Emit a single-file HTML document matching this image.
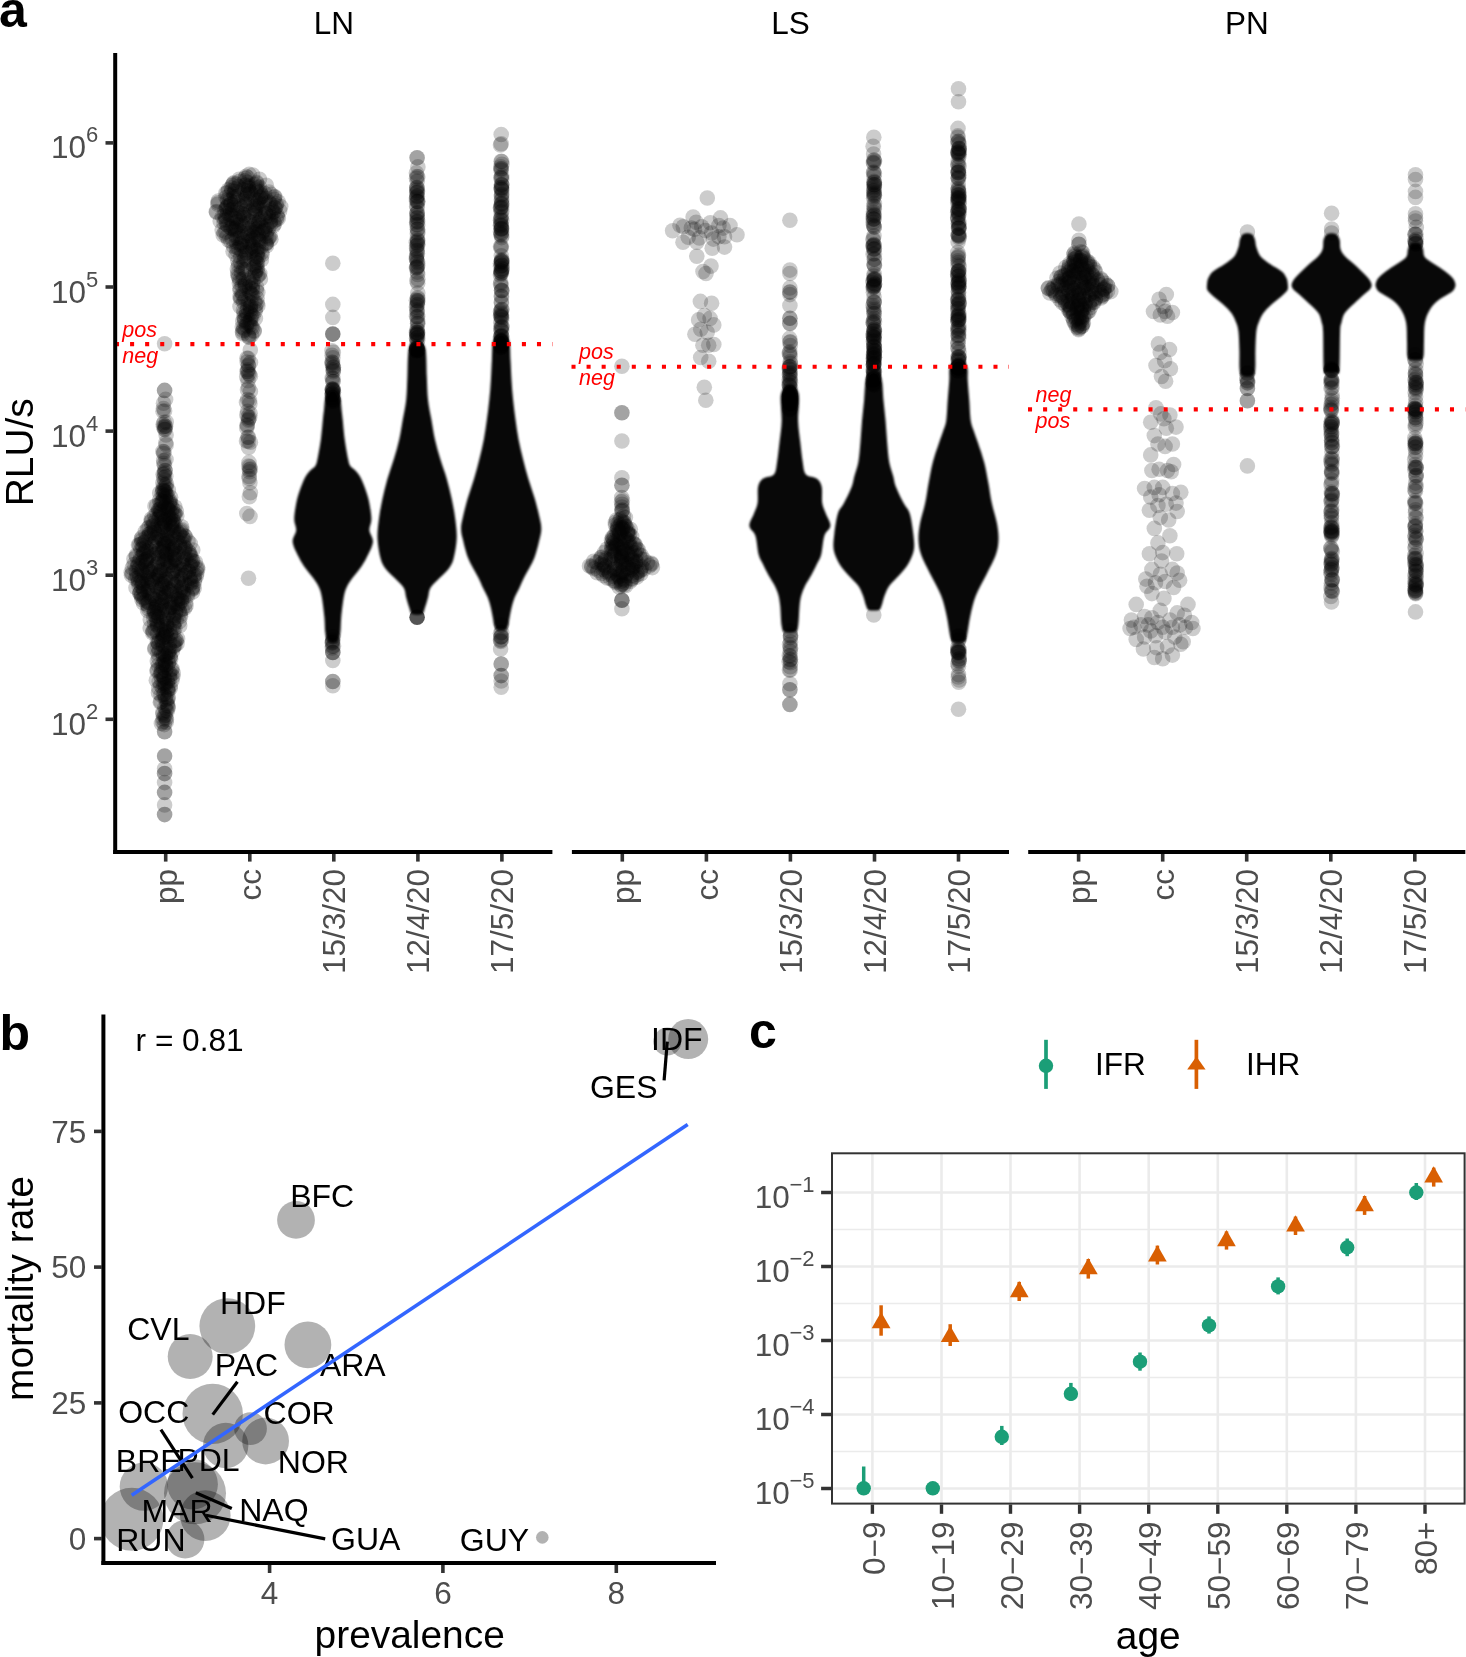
<!DOCTYPE html>
<html><head><meta charset="utf-8"><style>
html,body{margin:0;padding:0;background:#fff;width:1466px;height:1657px;overflow:hidden}
svg{display:block;will-change:transform}
text{font-family:"Liberation Sans",sans-serif}
</style></head><body>
<svg width="1466" height="1657" viewBox="0 0 1466 1657" font-family="Liberation Sans, sans-serif"><defs><filter id="b1" x="-20%" y="-5%" width="140%" height="110%" color-interpolation-filters="sRGB"><feGaussianBlur stdDeviation="1.1"/></filter><filter id="b2" x="-20%" y="-5%" width="140%" height="110%" color-interpolation-filters="sRGB"><feGaussianBlur stdDeviation="2.2"/></filter></defs>
<g fill="#000">
<circle cx="162.9" cy="488.9" r="7.8" fill-opacity="0.200"/>
<circle cx="168.4" cy="490.0" r="7.8" fill-opacity="0.200"/>
<circle cx="162.9" cy="490.4" r="7.8" fill-opacity="0.200"/>
<circle cx="165.5" cy="491.9" r="7.8" fill-opacity="0.200"/>
<circle cx="159.7" cy="493.0" r="7.8" fill-opacity="0.200"/>
<circle cx="162.1" cy="493.5" r="7.8" fill-opacity="0.200"/>
<circle cx="166.4" cy="494.2" r="7.8" fill-opacity="0.200"/>
<circle cx="163.3" cy="495.4" r="7.8" fill-opacity="0.200"/>
<circle cx="165.5" cy="495.7" r="7.8" fill-opacity="0.200"/>
<circle cx="167.5" cy="496.2" r="7.8" fill-opacity="0.200"/>
<circle cx="170.6" cy="497.2" r="7.8" fill-opacity="0.200"/>
<circle cx="163.8" cy="498.5" r="7.8" fill-opacity="0.200"/>
<circle cx="165.4" cy="498.4" r="7.8" fill-opacity="0.200"/>
<circle cx="159.7" cy="499.9" r="7.8" fill-opacity="0.200"/>
<circle cx="162.3" cy="500.9" r="7.8" fill-opacity="0.200"/>
<circle cx="170.0" cy="500.8" r="7.8" fill-opacity="0.200"/>
<circle cx="162.4" cy="501.4" r="7.8" fill-opacity="0.200"/>
<circle cx="166.4" cy="501.1" r="7.8" fill-opacity="0.200"/>
<circle cx="163.9" cy="502.6" r="7.8" fill-opacity="0.200"/>
<circle cx="170.1" cy="502.2" r="7.8" fill-opacity="0.200"/>
<circle cx="160.1" cy="503.4" r="7.8" fill-opacity="0.200"/>
<circle cx="169.3" cy="503.1" r="7.8" fill-opacity="0.200"/>
<circle cx="161.4" cy="504.0" r="7.8" fill-opacity="0.200"/>
<circle cx="171.2" cy="504.2" r="7.8" fill-opacity="0.200"/>
<circle cx="156.7" cy="505.8" r="7.8" fill-opacity="0.200"/>
<circle cx="165.8" cy="505.7" r="7.8" fill-opacity="0.200"/>
<circle cx="169.9" cy="505.6" r="7.8" fill-opacity="0.200"/>
<circle cx="155.0" cy="506.1" r="7.8" fill-opacity="0.200"/>
<circle cx="174.8" cy="506.8" r="7.8" fill-opacity="0.200"/>
<circle cx="164.5" cy="507.5" r="7.8" fill-opacity="0.200"/>
<circle cx="168.0" cy="507.1" r="7.8" fill-opacity="0.200"/>
<circle cx="160.5" cy="508.8" r="7.8" fill-opacity="0.200"/>
<circle cx="167.3" cy="508.8" r="7.8" fill-opacity="0.200"/>
<circle cx="172.4" cy="508.6" r="7.8" fill-opacity="0.200"/>
<circle cx="158.9" cy="509.5" r="7.8" fill-opacity="0.200"/>
<circle cx="168.1" cy="509.4" r="7.8" fill-opacity="0.200"/>
<circle cx="158.8" cy="510.0" r="7.8" fill-opacity="0.200"/>
<circle cx="169.4" cy="510.4" r="7.8" fill-opacity="0.200"/>
<circle cx="159.6" cy="511.3" r="7.8" fill-opacity="0.200"/>
<circle cx="160.8" cy="511.7" r="7.8" fill-opacity="0.200"/>
<circle cx="176.3" cy="511.3" r="7.8" fill-opacity="0.200"/>
<circle cx="161.0" cy="512.4" r="7.8" fill-opacity="0.200"/>
<circle cx="171.5" cy="512.2" r="7.8" fill-opacity="0.200"/>
<circle cx="156.9" cy="513.3" r="7.8" fill-opacity="0.200"/>
<circle cx="167.9" cy="513.9" r="7.8" fill-opacity="0.200"/>
<circle cx="174.4" cy="513.4" r="7.8" fill-opacity="0.200"/>
<circle cx="161.2" cy="514.8" r="7.8" fill-opacity="0.200"/>
<circle cx="175.3" cy="514.3" r="7.8" fill-opacity="0.200"/>
<circle cx="154.7" cy="515.7" r="7.8" fill-opacity="0.200"/>
<circle cx="163.4" cy="515.2" r="7.8" fill-opacity="0.200"/>
<circle cx="173.8" cy="515.2" r="7.8" fill-opacity="0.200"/>
<circle cx="159.8" cy="516.4" r="7.8" fill-opacity="0.200"/>
<circle cx="168.4" cy="516.7" r="7.8" fill-opacity="0.200"/>
<circle cx="176.8" cy="516.0" r="7.8" fill-opacity="0.200"/>
<circle cx="158.9" cy="517.9" r="7.8" fill-opacity="0.200"/>
<circle cx="170.6" cy="517.5" r="7.8" fill-opacity="0.200"/>
<circle cx="151.3" cy="518.9" r="7.8" fill-opacity="0.200"/>
<circle cx="162.0" cy="518.8" r="7.8" fill-opacity="0.200"/>
<circle cx="170.0" cy="518.6" r="7.8" fill-opacity="0.200"/>
<circle cx="156.1" cy="519.5" r="7.8" fill-opacity="0.200"/>
<circle cx="165.4" cy="519.7" r="7.8" fill-opacity="0.200"/>
<circle cx="172.9" cy="519.2" r="7.8" fill-opacity="0.200"/>
<circle cx="151.9" cy="520.2" r="7.8" fill-opacity="0.200"/>
<circle cx="169.5" cy="520.4" r="7.8" fill-opacity="0.200"/>
<circle cx="172.8" cy="520.9" r="7.8" fill-opacity="0.200"/>
<circle cx="151.0" cy="521.8" r="7.8" fill-opacity="0.200"/>
<circle cx="164.0" cy="521.3" r="7.8" fill-opacity="0.200"/>
<circle cx="173.7" cy="521.3" r="7.8" fill-opacity="0.200"/>
<circle cx="164.3" cy="522.3" r="7.8" fill-opacity="0.200"/>
<circle cx="168.7" cy="523.0" r="7.8" fill-opacity="0.200"/>
<circle cx="153.7" cy="523.1" r="7.8" fill-opacity="0.200"/>
<circle cx="161.7" cy="523.4" r="7.8" fill-opacity="0.200"/>
<circle cx="172.0" cy="523.3" r="7.8" fill-opacity="0.200"/>
<circle cx="158.0" cy="525.0" r="7.8" fill-opacity="0.200"/>
<circle cx="165.7" cy="524.2" r="7.8" fill-opacity="0.200"/>
<circle cx="174.9" cy="524.2" r="7.8" fill-opacity="0.200"/>
<circle cx="153.8" cy="525.4" r="7.8" fill-opacity="0.200"/>
<circle cx="164.7" cy="525.1" r="7.8" fill-opacity="0.200"/>
<circle cx="173.4" cy="525.4" r="7.8" fill-opacity="0.200"/>
<circle cx="152.0" cy="526.5" r="7.8" fill-opacity="0.200"/>
<circle cx="161.2" cy="526.1" r="7.8" fill-opacity="0.200"/>
<circle cx="171.6" cy="526.1" r="7.8" fill-opacity="0.200"/>
<circle cx="181.6" cy="526.7" r="7.8" fill-opacity="0.200"/>
<circle cx="149.1" cy="527.3" r="7.8" fill-opacity="0.200"/>
<circle cx="162.4" cy="527.2" r="7.8" fill-opacity="0.200"/>
<circle cx="173.0" cy="527.8" r="7.8" fill-opacity="0.200"/>
<circle cx="147.7" cy="528.4" r="7.8" fill-opacity="0.200"/>
<circle cx="161.9" cy="528.2" r="7.8" fill-opacity="0.200"/>
<circle cx="171.2" cy="528.1" r="7.8" fill-opacity="0.200"/>
<circle cx="153.8" cy="529.1" r="7.8" fill-opacity="0.200"/>
<circle cx="167.5" cy="530.0" r="7.8" fill-opacity="0.200"/>
<circle cx="182.1" cy="529.9" r="7.8" fill-opacity="0.200"/>
<circle cx="154.2" cy="530.2" r="7.8" fill-opacity="0.200"/>
<circle cx="163.5" cy="530.7" r="7.8" fill-opacity="0.200"/>
<circle cx="173.3" cy="530.3" r="7.8" fill-opacity="0.200"/>
<circle cx="181.1" cy="530.9" r="7.8" fill-opacity="0.200"/>
<circle cx="145.2" cy="531.7" r="7.8" fill-opacity="0.200"/>
<circle cx="159.1" cy="531.2" r="7.8" fill-opacity="0.200"/>
<circle cx="176.6" cy="531.0" r="7.8" fill-opacity="0.200"/>
<circle cx="151.7" cy="532.8" r="7.8" fill-opacity="0.200"/>
<circle cx="154.7" cy="532.7" r="7.8" fill-opacity="0.200"/>
<circle cx="174.5" cy="532.2" r="7.8" fill-opacity="0.200"/>
<circle cx="180.6" cy="532.4" r="7.8" fill-opacity="0.200"/>
<circle cx="149.7" cy="533.9" r="7.8" fill-opacity="0.200"/>
<circle cx="166.9" cy="533.4" r="7.8" fill-opacity="0.200"/>
<circle cx="178.9" cy="533.4" r="7.8" fill-opacity="0.200"/>
<circle cx="149.1" cy="534.3" r="7.8" fill-opacity="0.200"/>
<circle cx="157.7" cy="534.2" r="7.8" fill-opacity="0.200"/>
<circle cx="167.6" cy="534.7" r="7.8" fill-opacity="0.200"/>
<circle cx="179.3" cy="534.5" r="7.8" fill-opacity="0.200"/>
<circle cx="151.2" cy="535.8" r="7.8" fill-opacity="0.200"/>
<circle cx="169.7" cy="535.2" r="7.8" fill-opacity="0.200"/>
<circle cx="184.5" cy="535.8" r="7.8" fill-opacity="0.200"/>
<circle cx="148.1" cy="536.9" r="7.8" fill-opacity="0.200"/>
<circle cx="159.1" cy="536.5" r="7.8" fill-opacity="0.200"/>
<circle cx="173.5" cy="536.3" r="7.8" fill-opacity="0.200"/>
<circle cx="185.3" cy="536.6" r="7.8" fill-opacity="0.200"/>
<circle cx="142.0" cy="537.4" r="7.8" fill-opacity="0.200"/>
<circle cx="155.2" cy="537.5" r="7.8" fill-opacity="0.200"/>
<circle cx="166.9" cy="537.1" r="7.8" fill-opacity="0.200"/>
<circle cx="182.4" cy="537.3" r="7.8" fill-opacity="0.200"/>
<circle cx="146.1" cy="538.1" r="7.8" fill-opacity="0.200"/>
<circle cx="161.2" cy="538.4" r="7.8" fill-opacity="0.200"/>
<circle cx="170.8" cy="538.1" r="7.8" fill-opacity="0.200"/>
<circle cx="183.6" cy="538.4" r="7.8" fill-opacity="0.200"/>
<circle cx="141.3" cy="539.1" r="7.8" fill-opacity="0.200"/>
<circle cx="156.4" cy="539.2" r="7.8" fill-opacity="0.200"/>
<circle cx="165.0" cy="539.9" r="7.8" fill-opacity="0.200"/>
<circle cx="176.9" cy="539.6" r="7.8" fill-opacity="0.200"/>
<circle cx="141.8" cy="540.4" r="7.8" fill-opacity="0.200"/>
<circle cx="162.7" cy="540.3" r="7.8" fill-opacity="0.200"/>
<circle cx="167.2" cy="540.3" r="7.8" fill-opacity="0.200"/>
<circle cx="188.0" cy="540.9" r="7.8" fill-opacity="0.200"/>
<circle cx="145.2" cy="541.6" r="7.8" fill-opacity="0.200"/>
<circle cx="154.9" cy="541.4" r="7.8" fill-opacity="0.200"/>
<circle cx="169.3" cy="541.6" r="7.8" fill-opacity="0.200"/>
<circle cx="184.0" cy="541.1" r="7.8" fill-opacity="0.200"/>
<circle cx="143.9" cy="542.6" r="7.8" fill-opacity="0.200"/>
<circle cx="155.1" cy="542.2" r="7.8" fill-opacity="0.200"/>
<circle cx="168.4" cy="542.3" r="7.8" fill-opacity="0.200"/>
<circle cx="179.5" cy="542.7" r="7.8" fill-opacity="0.200"/>
<circle cx="141.2" cy="544.0" r="7.8" fill-opacity="0.200"/>
<circle cx="164.2" cy="543.7" r="7.8" fill-opacity="0.200"/>
<circle cx="165.0" cy="543.2" r="7.8" fill-opacity="0.200"/>
<circle cx="190.2" cy="543.4" r="7.8" fill-opacity="0.200"/>
<circle cx="139.4" cy="544.9" r="7.8" fill-opacity="0.200"/>
<circle cx="152.4" cy="544.3" r="7.8" fill-opacity="0.200"/>
<circle cx="165.1" cy="544.6" r="7.8" fill-opacity="0.200"/>
<circle cx="172.5" cy="544.0" r="7.8" fill-opacity="0.200"/>
<circle cx="183.3" cy="544.0" r="7.8" fill-opacity="0.200"/>
<circle cx="138.5" cy="545.0" r="7.8" fill-opacity="0.200"/>
<circle cx="163.3" cy="545.7" r="7.8" fill-opacity="0.200"/>
<circle cx="175.5" cy="545.5" r="7.8" fill-opacity="0.200"/>
<circle cx="179.7" cy="545.2" r="7.8" fill-opacity="0.200"/>
<circle cx="143.0" cy="546.1" r="7.8" fill-opacity="0.200"/>
<circle cx="155.0" cy="546.6" r="7.8" fill-opacity="0.200"/>
<circle cx="169.8" cy="546.3" r="7.8" fill-opacity="0.200"/>
<circle cx="179.9" cy="546.5" r="7.8" fill-opacity="0.200"/>
<circle cx="146.1" cy="547.3" r="7.8" fill-opacity="0.200"/>
<circle cx="156.2" cy="547.9" r="7.8" fill-opacity="0.200"/>
<circle cx="162.6" cy="547.8" r="7.8" fill-opacity="0.200"/>
<circle cx="174.5" cy="547.4" r="7.8" fill-opacity="0.200"/>
<circle cx="184.9" cy="547.2" r="7.8" fill-opacity="0.200"/>
<circle cx="142.9" cy="548.4" r="7.8" fill-opacity="0.200"/>
<circle cx="164.0" cy="548.4" r="7.8" fill-opacity="0.200"/>
<circle cx="173.9" cy="548.4" r="7.8" fill-opacity="0.200"/>
<circle cx="185.4" cy="548.3" r="7.8" fill-opacity="0.200"/>
<circle cx="141.0" cy="549.4" r="7.8" fill-opacity="0.200"/>
<circle cx="149.0" cy="549.9" r="7.8" fill-opacity="0.200"/>
<circle cx="159.1" cy="549.8" r="7.8" fill-opacity="0.200"/>
<circle cx="172.5" cy="549.4" r="7.8" fill-opacity="0.200"/>
<circle cx="184.2" cy="549.7" r="7.8" fill-opacity="0.200"/>
<circle cx="146.0" cy="550.7" r="7.8" fill-opacity="0.200"/>
<circle cx="164.0" cy="550.9" r="7.8" fill-opacity="0.200"/>
<circle cx="170.6" cy="550.4" r="7.8" fill-opacity="0.200"/>
<circle cx="192.8" cy="550.0" r="7.8" fill-opacity="0.200"/>
<circle cx="147.1" cy="551.6" r="7.8" fill-opacity="0.200"/>
<circle cx="151.1" cy="551.2" r="7.8" fill-opacity="0.200"/>
<circle cx="162.6" cy="551.4" r="7.8" fill-opacity="0.200"/>
<circle cx="175.8" cy="551.6" r="7.8" fill-opacity="0.200"/>
<circle cx="188.5" cy="551.3" r="7.8" fill-opacity="0.200"/>
<circle cx="143.5" cy="552.4" r="7.8" fill-opacity="0.200"/>
<circle cx="162.3" cy="552.9" r="7.8" fill-opacity="0.200"/>
<circle cx="171.5" cy="552.9" r="7.8" fill-opacity="0.200"/>
<circle cx="184.8" cy="552.7" r="7.8" fill-opacity="0.200"/>
<circle cx="144.2" cy="553.1" r="7.8" fill-opacity="0.200"/>
<circle cx="156.7" cy="553.8" r="7.8" fill-opacity="0.200"/>
<circle cx="166.5" cy="553.3" r="7.8" fill-opacity="0.200"/>
<circle cx="178.2" cy="553.5" r="7.8" fill-opacity="0.200"/>
<circle cx="189.8" cy="553.1" r="7.8" fill-opacity="0.200"/>
<circle cx="142.8" cy="554.7" r="7.8" fill-opacity="0.200"/>
<circle cx="154.6" cy="554.3" r="7.8" fill-opacity="0.200"/>
<circle cx="167.0" cy="554.3" r="7.8" fill-opacity="0.200"/>
<circle cx="174.8" cy="554.4" r="7.8" fill-opacity="0.200"/>
<circle cx="189.5" cy="554.8" r="7.8" fill-opacity="0.200"/>
<circle cx="136.2" cy="555.3" r="7.8" fill-opacity="0.200"/>
<circle cx="149.2" cy="555.0" r="7.8" fill-opacity="0.200"/>
<circle cx="165.0" cy="555.2" r="7.8" fill-opacity="0.200"/>
<circle cx="174.0" cy="555.7" r="7.8" fill-opacity="0.200"/>
<circle cx="190.5" cy="555.2" r="7.8" fill-opacity="0.200"/>
<circle cx="136.4" cy="556.5" r="7.8" fill-opacity="0.200"/>
<circle cx="148.4" cy="556.5" r="7.8" fill-opacity="0.200"/>
<circle cx="158.4" cy="557.0" r="7.8" fill-opacity="0.200"/>
<circle cx="171.7" cy="556.9" r="7.8" fill-opacity="0.200"/>
<circle cx="183.9" cy="556.5" r="7.8" fill-opacity="0.200"/>
<circle cx="140.5" cy="557.9" r="7.8" fill-opacity="0.200"/>
<circle cx="158.3" cy="557.5" r="7.8" fill-opacity="0.200"/>
<circle cx="170.4" cy="557.1" r="7.8" fill-opacity="0.200"/>
<circle cx="191.0" cy="557.2" r="7.8" fill-opacity="0.200"/>
<circle cx="133.9" cy="559.0" r="7.8" fill-opacity="0.200"/>
<circle cx="147.8" cy="558.1" r="7.8" fill-opacity="0.200"/>
<circle cx="164.9" cy="558.8" r="7.8" fill-opacity="0.200"/>
<circle cx="175.1" cy="558.7" r="7.8" fill-opacity="0.200"/>
<circle cx="186.2" cy="558.2" r="7.8" fill-opacity="0.200"/>
<circle cx="145.3" cy="560.0" r="7.8" fill-opacity="0.200"/>
<circle cx="146.3" cy="559.1" r="7.8" fill-opacity="0.200"/>
<circle cx="162.6" cy="559.7" r="7.8" fill-opacity="0.200"/>
<circle cx="175.2" cy="559.1" r="7.8" fill-opacity="0.200"/>
<circle cx="185.2" cy="559.2" r="7.8" fill-opacity="0.200"/>
<circle cx="139.7" cy="560.8" r="7.8" fill-opacity="0.200"/>
<circle cx="150.9" cy="560.2" r="7.8" fill-opacity="0.200"/>
<circle cx="166.8" cy="560.0" r="7.8" fill-opacity="0.200"/>
<circle cx="176.5" cy="560.1" r="7.8" fill-opacity="0.200"/>
<circle cx="192.8" cy="560.8" r="7.8" fill-opacity="0.200"/>
<circle cx="143.2" cy="561.3" r="7.8" fill-opacity="0.200"/>
<circle cx="146.5" cy="561.1" r="7.8" fill-opacity="0.200"/>
<circle cx="165.3" cy="561.3" r="7.8" fill-opacity="0.200"/>
<circle cx="183.3" cy="562.0" r="7.8" fill-opacity="0.200"/>
<circle cx="192.3" cy="561.1" r="7.8" fill-opacity="0.200"/>
<circle cx="142.1" cy="562.8" r="7.8" fill-opacity="0.200"/>
<circle cx="157.9" cy="562.0" r="7.8" fill-opacity="0.200"/>
<circle cx="167.9" cy="562.8" r="7.8" fill-opacity="0.200"/>
<circle cx="171.8" cy="562.2" r="7.8" fill-opacity="0.200"/>
<circle cx="195.4" cy="562.1" r="7.8" fill-opacity="0.200"/>
<circle cx="137.8" cy="563.0" r="7.8" fill-opacity="0.200"/>
<circle cx="157.7" cy="563.5" r="7.8" fill-opacity="0.200"/>
<circle cx="164.0" cy="563.0" r="7.8" fill-opacity="0.200"/>
<circle cx="177.9" cy="563.1" r="7.8" fill-opacity="0.200"/>
<circle cx="191.6" cy="563.3" r="7.8" fill-opacity="0.200"/>
<circle cx="134.1" cy="564.4" r="7.8" fill-opacity="0.200"/>
<circle cx="146.0" cy="564.7" r="7.8" fill-opacity="0.200"/>
<circle cx="157.2" cy="564.3" r="7.8" fill-opacity="0.200"/>
<circle cx="170.7" cy="565.0" r="7.8" fill-opacity="0.200"/>
<circle cx="182.3" cy="564.5" r="7.8" fill-opacity="0.200"/>
<circle cx="190.2" cy="564.7" r="7.8" fill-opacity="0.200"/>
<circle cx="138.3" cy="565.1" r="7.8" fill-opacity="0.200"/>
<circle cx="145.5" cy="565.6" r="7.8" fill-opacity="0.200"/>
<circle cx="170.2" cy="565.7" r="7.8" fill-opacity="0.200"/>
<circle cx="183.7" cy="565.3" r="7.8" fill-opacity="0.200"/>
<circle cx="192.5" cy="566.0" r="7.8" fill-opacity="0.200"/>
<circle cx="137.5" cy="566.8" r="7.8" fill-opacity="0.200"/>
<circle cx="154.6" cy="566.8" r="7.8" fill-opacity="0.200"/>
<circle cx="168.4" cy="566.1" r="7.8" fill-opacity="0.200"/>
<circle cx="175.5" cy="566.3" r="7.8" fill-opacity="0.200"/>
<circle cx="190.8" cy="566.4" r="7.8" fill-opacity="0.200"/>
<circle cx="132.3" cy="567.9" r="7.8" fill-opacity="0.200"/>
<circle cx="147.3" cy="567.7" r="7.8" fill-opacity="0.200"/>
<circle cx="160.0" cy="567.8" r="7.8" fill-opacity="0.200"/>
<circle cx="183.8" cy="567.6" r="7.8" fill-opacity="0.200"/>
<circle cx="197.5" cy="567.2" r="7.8" fill-opacity="0.200"/>
<circle cx="139.5" cy="568.6" r="7.8" fill-opacity="0.200"/>
<circle cx="150.6" cy="569.0" r="7.8" fill-opacity="0.200"/>
<circle cx="168.0" cy="568.8" r="7.8" fill-opacity="0.200"/>
<circle cx="179.1" cy="568.2" r="7.8" fill-opacity="0.200"/>
<circle cx="197.8" cy="568.9" r="7.8" fill-opacity="0.200"/>
<circle cx="142.3" cy="569.8" r="7.8" fill-opacity="0.200"/>
<circle cx="153.0" cy="569.1" r="7.8" fill-opacity="0.200"/>
<circle cx="164.1" cy="569.7" r="7.8" fill-opacity="0.200"/>
<circle cx="181.6" cy="569.8" r="7.8" fill-opacity="0.200"/>
<circle cx="196.7" cy="569.2" r="7.8" fill-opacity="0.200"/>
<circle cx="141.6" cy="570.9" r="7.8" fill-opacity="0.200"/>
<circle cx="149.1" cy="570.9" r="7.8" fill-opacity="0.200"/>
<circle cx="161.4" cy="570.4" r="7.8" fill-opacity="0.200"/>
<circle cx="174.1" cy="570.5" r="7.8" fill-opacity="0.200"/>
<circle cx="177.5" cy="570.6" r="7.8" fill-opacity="0.200"/>
<circle cx="188.5" cy="570.9" r="7.8" fill-opacity="0.200"/>
<circle cx="136.2" cy="571.1" r="7.8" fill-opacity="0.200"/>
<circle cx="150.7" cy="571.5" r="7.8" fill-opacity="0.200"/>
<circle cx="160.2" cy="571.3" r="7.8" fill-opacity="0.200"/>
<circle cx="173.0" cy="571.4" r="7.8" fill-opacity="0.200"/>
<circle cx="188.7" cy="571.3" r="7.8" fill-opacity="0.200"/>
<circle cx="131.2" cy="572.5" r="7.8" fill-opacity="0.200"/>
<circle cx="146.5" cy="572.2" r="7.8" fill-opacity="0.200"/>
<circle cx="160.0" cy="572.1" r="7.8" fill-opacity="0.200"/>
<circle cx="173.4" cy="572.1" r="7.8" fill-opacity="0.200"/>
<circle cx="185.8" cy="572.6" r="7.8" fill-opacity="0.200"/>
<circle cx="132.4" cy="573.6" r="7.8" fill-opacity="0.200"/>
<circle cx="146.6" cy="573.8" r="7.8" fill-opacity="0.200"/>
<circle cx="157.9" cy="574.0" r="7.8" fill-opacity="0.200"/>
<circle cx="172.2" cy="573.2" r="7.8" fill-opacity="0.200"/>
<circle cx="196.9" cy="573.1" r="7.8" fill-opacity="0.200"/>
<circle cx="136.8" cy="575.0" r="7.8" fill-opacity="0.200"/>
<circle cx="147.8" cy="574.5" r="7.8" fill-opacity="0.200"/>
<circle cx="158.9" cy="574.6" r="7.8" fill-opacity="0.200"/>
<circle cx="167.0" cy="574.8" r="7.8" fill-opacity="0.200"/>
<circle cx="182.3" cy="574.4" r="7.8" fill-opacity="0.200"/>
<circle cx="194.5" cy="574.9" r="7.8" fill-opacity="0.200"/>
<circle cx="131.5" cy="575.3" r="7.8" fill-opacity="0.200"/>
<circle cx="144.4" cy="575.2" r="7.8" fill-opacity="0.200"/>
<circle cx="159.0" cy="575.7" r="7.8" fill-opacity="0.200"/>
<circle cx="184.2" cy="575.5" r="7.8" fill-opacity="0.200"/>
<circle cx="196.4" cy="576.0" r="7.8" fill-opacity="0.200"/>
<circle cx="139.7" cy="576.0" r="7.8" fill-opacity="0.200"/>
<circle cx="156.2" cy="576.4" r="7.8" fill-opacity="0.200"/>
<circle cx="164.6" cy="576.9" r="7.8" fill-opacity="0.200"/>
<circle cx="181.6" cy="576.0" r="7.8" fill-opacity="0.200"/>
<circle cx="193.9" cy="576.4" r="7.8" fill-opacity="0.200"/>
<circle cx="137.4" cy="577.7" r="7.8" fill-opacity="0.200"/>
<circle cx="149.2" cy="577.1" r="7.8" fill-opacity="0.200"/>
<circle cx="165.5" cy="578.0" r="7.8" fill-opacity="0.200"/>
<circle cx="180.0" cy="577.4" r="7.8" fill-opacity="0.200"/>
<circle cx="190.5" cy="577.8" r="7.8" fill-opacity="0.200"/>
<circle cx="135.6" cy="578.7" r="7.8" fill-opacity="0.200"/>
<circle cx="150.8" cy="578.7" r="7.8" fill-opacity="0.200"/>
<circle cx="159.9" cy="578.1" r="7.8" fill-opacity="0.200"/>
<circle cx="173.4" cy="578.6" r="7.8" fill-opacity="0.200"/>
<circle cx="189.6" cy="578.2" r="7.8" fill-opacity="0.200"/>
<circle cx="142.1" cy="579.7" r="7.8" fill-opacity="0.200"/>
<circle cx="152.6" cy="579.8" r="7.8" fill-opacity="0.200"/>
<circle cx="166.3" cy="579.4" r="7.8" fill-opacity="0.200"/>
<circle cx="181.5" cy="579.1" r="7.8" fill-opacity="0.200"/>
<circle cx="194.7" cy="579.6" r="7.8" fill-opacity="0.200"/>
<circle cx="138.4" cy="580.8" r="7.8" fill-opacity="0.200"/>
<circle cx="147.0" cy="580.4" r="7.8" fill-opacity="0.200"/>
<circle cx="157.7" cy="580.2" r="7.8" fill-opacity="0.200"/>
<circle cx="171.2" cy="581.0" r="7.8" fill-opacity="0.200"/>
<circle cx="177.7" cy="581.0" r="7.8" fill-opacity="0.200"/>
<circle cx="190.6" cy="580.7" r="7.8" fill-opacity="0.200"/>
<circle cx="141.0" cy="581.7" r="7.8" fill-opacity="0.200"/>
<circle cx="151.6" cy="581.9" r="7.8" fill-opacity="0.200"/>
<circle cx="163.3" cy="581.2" r="7.8" fill-opacity="0.200"/>
<circle cx="178.5" cy="581.9" r="7.8" fill-opacity="0.200"/>
<circle cx="194.5" cy="581.7" r="7.8" fill-opacity="0.200"/>
<circle cx="138.5" cy="582.5" r="7.8" fill-opacity="0.200"/>
<circle cx="152.8" cy="582.3" r="7.8" fill-opacity="0.200"/>
<circle cx="165.1" cy="582.5" r="7.8" fill-opacity="0.200"/>
<circle cx="172.4" cy="582.7" r="7.8" fill-opacity="0.200"/>
<circle cx="191.6" cy="582.4" r="7.8" fill-opacity="0.200"/>
<circle cx="142.8" cy="583.4" r="7.8" fill-opacity="0.200"/>
<circle cx="148.3" cy="583.5" r="7.8" fill-opacity="0.200"/>
<circle cx="161.1" cy="583.6" r="7.8" fill-opacity="0.200"/>
<circle cx="181.1" cy="583.7" r="7.8" fill-opacity="0.200"/>
<circle cx="184.3" cy="583.8" r="7.8" fill-opacity="0.200"/>
<circle cx="142.6" cy="584.1" r="7.8" fill-opacity="0.200"/>
<circle cx="162.4" cy="584.0" r="7.8" fill-opacity="0.200"/>
<circle cx="175.4" cy="584.4" r="7.8" fill-opacity="0.200"/>
<circle cx="186.8" cy="585.0" r="7.8" fill-opacity="0.200"/>
<circle cx="139.0" cy="585.7" r="7.8" fill-opacity="0.200"/>
<circle cx="151.7" cy="585.1" r="7.8" fill-opacity="0.200"/>
<circle cx="162.8" cy="585.0" r="7.8" fill-opacity="0.200"/>
<circle cx="173.9" cy="586.0" r="7.8" fill-opacity="0.200"/>
<circle cx="190.0" cy="585.1" r="7.8" fill-opacity="0.200"/>
<circle cx="141.5" cy="586.6" r="7.8" fill-opacity="0.200"/>
<circle cx="156.4" cy="586.4" r="7.8" fill-opacity="0.200"/>
<circle cx="165.2" cy="586.8" r="7.8" fill-opacity="0.200"/>
<circle cx="176.5" cy="586.7" r="7.8" fill-opacity="0.200"/>
<circle cx="193.1" cy="586.5" r="7.8" fill-opacity="0.200"/>
<circle cx="136.0" cy="587.8" r="7.8" fill-opacity="0.200"/>
<circle cx="150.1" cy="587.5" r="7.8" fill-opacity="0.200"/>
<circle cx="161.5" cy="587.7" r="7.8" fill-opacity="0.200"/>
<circle cx="182.4" cy="587.2" r="7.8" fill-opacity="0.200"/>
<circle cx="194.2" cy="587.9" r="7.8" fill-opacity="0.200"/>
<circle cx="148.5" cy="588.0" r="7.8" fill-opacity="0.200"/>
<circle cx="160.6" cy="588.7" r="7.8" fill-opacity="0.200"/>
<circle cx="167.4" cy="588.4" r="7.8" fill-opacity="0.200"/>
<circle cx="192.6" cy="588.1" r="7.8" fill-opacity="0.200"/>
<circle cx="143.4" cy="589.3" r="7.8" fill-opacity="0.200"/>
<circle cx="147.3" cy="589.7" r="7.8" fill-opacity="0.200"/>
<circle cx="169.6" cy="589.5" r="7.8" fill-opacity="0.200"/>
<circle cx="180.7" cy="589.7" r="7.8" fill-opacity="0.200"/>
<circle cx="192.0" cy="589.6" r="7.8" fill-opacity="0.200"/>
<circle cx="143.9" cy="590.8" r="7.8" fill-opacity="0.200"/>
<circle cx="158.1" cy="590.6" r="7.8" fill-opacity="0.200"/>
<circle cx="171.2" cy="590.8" r="7.8" fill-opacity="0.200"/>
<circle cx="183.4" cy="590.7" r="7.8" fill-opacity="0.200"/>
<circle cx="140.3" cy="591.9" r="7.8" fill-opacity="0.200"/>
<circle cx="148.1" cy="591.6" r="7.8" fill-opacity="0.200"/>
<circle cx="169.0" cy="591.7" r="7.8" fill-opacity="0.200"/>
<circle cx="180.1" cy="591.7" r="7.8" fill-opacity="0.200"/>
<circle cx="192.6" cy="592.0" r="7.8" fill-opacity="0.200"/>
<circle cx="140.0" cy="592.9" r="7.8" fill-opacity="0.200"/>
<circle cx="163.4" cy="592.6" r="7.8" fill-opacity="0.200"/>
<circle cx="166.0" cy="592.9" r="7.8" fill-opacity="0.200"/>
<circle cx="182.9" cy="592.4" r="7.8" fill-opacity="0.200"/>
<circle cx="139.8" cy="593.6" r="7.8" fill-opacity="0.200"/>
<circle cx="150.6" cy="593.8" r="7.8" fill-opacity="0.200"/>
<circle cx="163.7" cy="593.7" r="7.8" fill-opacity="0.200"/>
<circle cx="174.7" cy="593.2" r="7.8" fill-opacity="0.200"/>
<circle cx="184.2" cy="593.3" r="7.8" fill-opacity="0.200"/>
<circle cx="141.6" cy="594.8" r="7.8" fill-opacity="0.200"/>
<circle cx="160.0" cy="594.8" r="7.8" fill-opacity="0.200"/>
<circle cx="172.4" cy="594.2" r="7.8" fill-opacity="0.200"/>
<circle cx="187.3" cy="594.2" r="7.8" fill-opacity="0.200"/>
<circle cx="149.2" cy="595.7" r="7.8" fill-opacity="0.200"/>
<circle cx="152.6" cy="595.2" r="7.8" fill-opacity="0.200"/>
<circle cx="166.0" cy="596.0" r="7.8" fill-opacity="0.200"/>
<circle cx="187.7" cy="595.8" r="7.8" fill-opacity="0.200"/>
<circle cx="141.4" cy="596.3" r="7.8" fill-opacity="0.200"/>
<circle cx="156.9" cy="596.3" r="7.8" fill-opacity="0.200"/>
<circle cx="164.9" cy="597.0" r="7.8" fill-opacity="0.200"/>
<circle cx="178.1" cy="596.4" r="7.8" fill-opacity="0.200"/>
<circle cx="144.6" cy="597.8" r="7.8" fill-opacity="0.200"/>
<circle cx="160.5" cy="597.5" r="7.8" fill-opacity="0.200"/>
<circle cx="176.6" cy="597.0" r="7.8" fill-opacity="0.200"/>
<circle cx="183.7" cy="597.3" r="7.8" fill-opacity="0.200"/>
<circle cx="143.1" cy="598.1" r="7.8" fill-opacity="0.200"/>
<circle cx="151.6" cy="598.1" r="7.8" fill-opacity="0.200"/>
<circle cx="161.7" cy="598.3" r="7.8" fill-opacity="0.200"/>
<circle cx="179.2" cy="598.5" r="7.8" fill-opacity="0.200"/>
<circle cx="181.1" cy="598.3" r="7.8" fill-opacity="0.200"/>
<circle cx="141.9" cy="599.6" r="7.8" fill-opacity="0.200"/>
<circle cx="155.3" cy="599.3" r="7.8" fill-opacity="0.200"/>
<circle cx="171.1" cy="599.7" r="7.8" fill-opacity="0.200"/>
<circle cx="177.8" cy="599.2" r="7.8" fill-opacity="0.200"/>
<circle cx="146.3" cy="600.7" r="7.8" fill-opacity="0.200"/>
<circle cx="162.2" cy="600.9" r="7.8" fill-opacity="0.200"/>
<circle cx="181.3" cy="600.4" r="7.8" fill-opacity="0.200"/>
<circle cx="147.8" cy="601.9" r="7.8" fill-opacity="0.200"/>
<circle cx="156.9" cy="601.0" r="7.8" fill-opacity="0.200"/>
<circle cx="170.0" cy="601.0" r="7.8" fill-opacity="0.200"/>
<circle cx="181.7" cy="601.4" r="7.8" fill-opacity="0.200"/>
<circle cx="148.6" cy="602.4" r="7.8" fill-opacity="0.200"/>
<circle cx="162.1" cy="602.7" r="7.8" fill-opacity="0.200"/>
<circle cx="170.9" cy="602.7" r="7.8" fill-opacity="0.200"/>
<circle cx="185.7" cy="602.9" r="7.8" fill-opacity="0.200"/>
<circle cx="143.4" cy="603.1" r="7.8" fill-opacity="0.200"/>
<circle cx="155.9" cy="603.3" r="7.8" fill-opacity="0.200"/>
<circle cx="175.0" cy="603.5" r="7.8" fill-opacity="0.200"/>
<circle cx="177.6" cy="603.7" r="7.8" fill-opacity="0.200"/>
<circle cx="147.0" cy="604.1" r="7.8" fill-opacity="0.200"/>
<circle cx="162.3" cy="605.0" r="7.8" fill-opacity="0.200"/>
<circle cx="170.8" cy="604.6" r="7.8" fill-opacity="0.200"/>
<circle cx="179.3" cy="604.1" r="7.8" fill-opacity="0.200"/>
<circle cx="157.0" cy="605.4" r="7.8" fill-opacity="0.200"/>
<circle cx="160.9" cy="605.1" r="7.8" fill-opacity="0.200"/>
<circle cx="186.0" cy="605.7" r="7.8" fill-opacity="0.200"/>
<circle cx="148.4" cy="606.2" r="7.8" fill-opacity="0.200"/>
<circle cx="156.0" cy="606.9" r="7.8" fill-opacity="0.200"/>
<circle cx="170.6" cy="607.0" r="7.8" fill-opacity="0.200"/>
<circle cx="177.7" cy="606.7" r="7.8" fill-opacity="0.200"/>
<circle cx="156.4" cy="607.6" r="7.8" fill-opacity="0.200"/>
<circle cx="169.7" cy="607.7" r="7.8" fill-opacity="0.200"/>
<circle cx="172.2" cy="607.4" r="7.8" fill-opacity="0.200"/>
<circle cx="148.6" cy="608.8" r="7.8" fill-opacity="0.200"/>
<circle cx="155.2" cy="609.0" r="7.8" fill-opacity="0.200"/>
<circle cx="164.8" cy="608.0" r="7.8" fill-opacity="0.200"/>
<circle cx="184.7" cy="608.3" r="7.8" fill-opacity="0.200"/>
<circle cx="153.3" cy="609.3" r="7.8" fill-opacity="0.200"/>
<circle cx="169.0" cy="609.3" r="7.8" fill-opacity="0.200"/>
<circle cx="182.2" cy="609.3" r="7.8" fill-opacity="0.200"/>
<circle cx="147.6" cy="610.6" r="7.8" fill-opacity="0.200"/>
<circle cx="159.3" cy="610.0" r="7.8" fill-opacity="0.200"/>
<circle cx="167.2" cy="610.5" r="7.8" fill-opacity="0.200"/>
<circle cx="179.0" cy="610.4" r="7.8" fill-opacity="0.200"/>
<circle cx="154.5" cy="611.6" r="7.8" fill-opacity="0.200"/>
<circle cx="161.9" cy="611.4" r="7.8" fill-opacity="0.200"/>
<circle cx="175.6" cy="611.8" r="7.8" fill-opacity="0.200"/>
<circle cx="154.7" cy="612.4" r="7.8" fill-opacity="0.200"/>
<circle cx="169.1" cy="612.5" r="7.8" fill-opacity="0.200"/>
<circle cx="179.8" cy="612.1" r="7.8" fill-opacity="0.200"/>
<circle cx="157.4" cy="613.3" r="7.8" fill-opacity="0.200"/>
<circle cx="175.9" cy="613.1" r="7.8" fill-opacity="0.200"/>
<circle cx="153.7" cy="614.7" r="7.8" fill-opacity="0.200"/>
<circle cx="168.3" cy="614.7" r="7.8" fill-opacity="0.200"/>
<circle cx="180.4" cy="614.1" r="7.8" fill-opacity="0.200"/>
<circle cx="155.4" cy="615.9" r="7.8" fill-opacity="0.200"/>
<circle cx="173.5" cy="615.7" r="7.8" fill-opacity="0.200"/>
<circle cx="156.7" cy="616.0" r="7.8" fill-opacity="0.200"/>
<circle cx="159.0" cy="616.9" r="7.8" fill-opacity="0.200"/>
<circle cx="180.6" cy="616.3" r="7.8" fill-opacity="0.200"/>
<circle cx="159.0" cy="617.8" r="7.8" fill-opacity="0.200"/>
<circle cx="174.0" cy="617.8" r="7.8" fill-opacity="0.200"/>
<circle cx="153.7" cy="618.8" r="7.8" fill-opacity="0.200"/>
<circle cx="165.9" cy="618.1" r="7.8" fill-opacity="0.200"/>
<circle cx="173.6" cy="618.9" r="7.8" fill-opacity="0.200"/>
<circle cx="150.3" cy="619.8" r="7.8" fill-opacity="0.200"/>
<circle cx="166.4" cy="619.2" r="7.8" fill-opacity="0.200"/>
<circle cx="156.8" cy="620.0" r="7.8" fill-opacity="0.200"/>
<circle cx="163.6" cy="620.3" r="7.8" fill-opacity="0.200"/>
<circle cx="176.1" cy="620.4" r="7.8" fill-opacity="0.200"/>
<circle cx="161.3" cy="621.7" r="7.8" fill-opacity="0.200"/>
<circle cx="179.5" cy="621.5" r="7.8" fill-opacity="0.200"/>
<circle cx="156.9" cy="622.1" r="7.8" fill-opacity="0.200"/>
<circle cx="167.9" cy="623.0" r="7.8" fill-opacity="0.200"/>
<circle cx="154.5" cy="623.8" r="7.8" fill-opacity="0.200"/>
<circle cx="166.3" cy="623.7" r="7.8" fill-opacity="0.200"/>
<circle cx="174.1" cy="623.3" r="7.8" fill-opacity="0.200"/>
<circle cx="157.4" cy="624.4" r="7.8" fill-opacity="0.200"/>
<circle cx="173.4" cy="624.8" r="7.8" fill-opacity="0.200"/>
<circle cx="161.2" cy="625.6" r="7.8" fill-opacity="0.200"/>
<circle cx="179.7" cy="625.7" r="7.8" fill-opacity="0.200"/>
<circle cx="157.7" cy="626.1" r="7.8" fill-opacity="0.200"/>
<circle cx="166.9" cy="626.2" r="7.8" fill-opacity="0.200"/>
<circle cx="173.8" cy="626.3" r="7.8" fill-opacity="0.200"/>
<circle cx="150.2" cy="627.9" r="7.8" fill-opacity="0.200"/>
<circle cx="174.9" cy="628.0" r="7.8" fill-opacity="0.200"/>
<circle cx="160.2" cy="628.9" r="7.8" fill-opacity="0.200"/>
<circle cx="169.4" cy="628.4" r="7.8" fill-opacity="0.200"/>
<circle cx="155.0" cy="629.5" r="7.8" fill-opacity="0.200"/>
<circle cx="164.6" cy="629.4" r="7.8" fill-opacity="0.200"/>
<circle cx="153.1" cy="630.7" r="7.8" fill-opacity="0.200"/>
<circle cx="165.1" cy="630.8" r="7.8" fill-opacity="0.200"/>
<circle cx="153.3" cy="631.8" r="7.8" fill-opacity="0.200"/>
<circle cx="166.7" cy="631.4" r="7.8" fill-opacity="0.200"/>
<circle cx="173.7" cy="631.6" r="7.8" fill-opacity="0.200"/>
<circle cx="152.6" cy="632.7" r="7.8" fill-opacity="0.200"/>
<circle cx="166.7" cy="632.5" r="7.8" fill-opacity="0.200"/>
<circle cx="157.6" cy="633.5" r="7.8" fill-opacity="0.200"/>
<circle cx="170.7" cy="633.4" r="7.8" fill-opacity="0.200"/>
<circle cx="163.0" cy="634.3" r="7.8" fill-opacity="0.200"/>
<circle cx="166.0" cy="634.1" r="7.8" fill-opacity="0.200"/>
<circle cx="163.1" cy="635.0" r="7.8" fill-opacity="0.200"/>
<circle cx="170.7" cy="635.6" r="7.8" fill-opacity="0.200"/>
<circle cx="164.5" cy="636.3" r="7.8" fill-opacity="0.200"/>
<circle cx="165.1" cy="636.9" r="7.8" fill-opacity="0.200"/>
<circle cx="163.1" cy="637.3" r="7.8" fill-opacity="0.200"/>
<circle cx="167.4" cy="637.3" r="7.8" fill-opacity="0.200"/>
<circle cx="163.1" cy="638.1" r="7.8" fill-opacity="0.200"/>
<circle cx="177.6" cy="638.7" r="7.8" fill-opacity="0.200"/>
<circle cx="159.3" cy="639.9" r="7.8" fill-opacity="0.200"/>
<circle cx="176.2" cy="640.0" r="7.8" fill-opacity="0.200"/>
<circle cx="162.1" cy="640.2" r="7.8" fill-opacity="0.200"/>
<circle cx="175.9" cy="640.2" r="7.8" fill-opacity="0.200"/>
<circle cx="157.4" cy="641.4" r="7.8" fill-opacity="0.200"/>
<circle cx="161.7" cy="641.0" r="7.8" fill-opacity="0.200"/>
<circle cx="174.6" cy="641.0" r="7.8" fill-opacity="0.200"/>
<circle cx="158.1" cy="642.7" r="7.8" fill-opacity="0.200"/>
<circle cx="169.7" cy="642.7" r="7.8" fill-opacity="0.200"/>
<circle cx="158.4" cy="643.4" r="7.8" fill-opacity="0.200"/>
<circle cx="177.0" cy="643.7" r="7.8" fill-opacity="0.200"/>
<circle cx="162.4" cy="644.9" r="7.8" fill-opacity="0.200"/>
<circle cx="175.1" cy="644.9" r="7.8" fill-opacity="0.200"/>
<circle cx="163.5" cy="646.0" r="7.8" fill-opacity="0.200"/>
<circle cx="173.8" cy="645.7" r="7.8" fill-opacity="0.200"/>
<circle cx="173.8" cy="646.7" r="7.8" fill-opacity="0.200"/>
<circle cx="157.7" cy="647.6" r="7.8" fill-opacity="0.200"/>
<circle cx="169.2" cy="647.3" r="7.8" fill-opacity="0.200"/>
<circle cx="155.1" cy="648.1" r="7.8" fill-opacity="0.200"/>
<circle cx="165.7" cy="648.3" r="7.8" fill-opacity="0.200"/>
<circle cx="154.7" cy="649.1" r="7.8" fill-opacity="0.200"/>
<circle cx="170.1" cy="649.4" r="7.8" fill-opacity="0.200"/>
<circle cx="159.1" cy="650.4" r="7.8" fill-opacity="0.200"/>
<circle cx="168.9" cy="650.8" r="7.8" fill-opacity="0.200"/>
<circle cx="172.4" cy="651.3" r="7.8" fill-opacity="0.200"/>
<circle cx="161.7" cy="652.1" r="7.8" fill-opacity="0.200"/>
<circle cx="168.8" cy="652.7" r="7.8" fill-opacity="0.200"/>
<circle cx="157.9" cy="653.5" r="7.8" fill-opacity="0.200"/>
<circle cx="167.7" cy="653.2" r="7.8" fill-opacity="0.200"/>
<circle cx="165.5" cy="654.8" r="7.8" fill-opacity="0.200"/>
<circle cx="163.4" cy="655.3" r="7.8" fill-opacity="0.200"/>
<circle cx="165.6" cy="656.0" r="7.8" fill-opacity="0.200"/>
<circle cx="163.2" cy="656.7" r="7.8" fill-opacity="0.200"/>
<circle cx="170.4" cy="656.2" r="7.8" fill-opacity="0.200"/>
<circle cx="170.0" cy="657.5" r="7.8" fill-opacity="0.200"/>
<circle cx="158.7" cy="658.1" r="7.8" fill-opacity="0.200"/>
<circle cx="167.6" cy="658.6" r="7.8" fill-opacity="0.200"/>
<circle cx="170.7" cy="659.0" r="7.8" fill-opacity="0.200"/>
<circle cx="157.3" cy="660.9" r="7.8" fill-opacity="0.200"/>
<circle cx="164.9" cy="660.5" r="7.8" fill-opacity="0.200"/>
<circle cx="165.2" cy="661.3" r="7.8" fill-opacity="0.200"/>
<circle cx="163.3" cy="662.8" r="7.8" fill-opacity="0.200"/>
<circle cx="169.0" cy="662.1" r="7.8" fill-opacity="0.200"/>
<circle cx="168.3" cy="663.6" r="7.8" fill-opacity="0.200"/>
<circle cx="162.6" cy="664.5" r="7.8" fill-opacity="0.200"/>
<circle cx="165.4" cy="664.6" r="7.8" fill-opacity="0.200"/>
<circle cx="158.4" cy="665.4" r="7.8" fill-opacity="0.200"/>
<circle cx="165.6" cy="665.0" r="7.8" fill-opacity="0.200"/>
<circle cx="161.5" cy="666.6" r="7.8" fill-opacity="0.200"/>
<circle cx="163.3" cy="667.7" r="7.8" fill-opacity="0.200"/>
<circle cx="167.1" cy="667.6" r="7.8" fill-opacity="0.200"/>
<circle cx="172.2" cy="668.9" r="7.8" fill-opacity="0.200"/>
<circle cx="157.4" cy="669.9" r="7.8" fill-opacity="0.200"/>
<circle cx="171.4" cy="669.2" r="7.8" fill-opacity="0.200"/>
<circle cx="157.0" cy="670.9" r="7.8" fill-opacity="0.200"/>
<circle cx="165.5" cy="670.3" r="7.8" fill-opacity="0.200"/>
<circle cx="161.8" cy="671.6" r="7.8" fill-opacity="0.200"/>
<circle cx="160.9" cy="672.3" r="7.8" fill-opacity="0.200"/>
<circle cx="169.5" cy="672.8" r="7.8" fill-opacity="0.200"/>
<circle cx="161.3" cy="673.9" r="7.8" fill-opacity="0.200"/>
<circle cx="173.2" cy="673.0" r="7.8" fill-opacity="0.200"/>
<circle cx="171.3" cy="674.2" r="7.8" fill-opacity="0.200"/>
<circle cx="160.1" cy="675.1" r="7.8" fill-opacity="0.200"/>
<circle cx="169.5" cy="675.3" r="7.8" fill-opacity="0.200"/>
<circle cx="163.4" cy="676.2" r="7.8" fill-opacity="0.200"/>
<circle cx="172.8" cy="676.6" r="7.8" fill-opacity="0.200"/>
<circle cx="164.4" cy="677.7" r="7.8" fill-opacity="0.200"/>
<circle cx="164.0" cy="678.3" r="7.8" fill-opacity="0.200"/>
<circle cx="169.7" cy="678.3" r="7.8" fill-opacity="0.200"/>
<circle cx="161.7" cy="679.8" r="7.8" fill-opacity="0.200"/>
<circle cx="156.3" cy="680.2" r="7.8" fill-opacity="0.200"/>
<circle cx="172.0" cy="680.4" r="7.8" fill-opacity="0.200"/>
<circle cx="159.2" cy="681.6" r="7.8" fill-opacity="0.200"/>
<circle cx="167.5" cy="681.2" r="7.8" fill-opacity="0.200"/>
<circle cx="167.6" cy="682.6" r="7.8" fill-opacity="0.200"/>
<circle cx="163.5" cy="684.0" r="7.8" fill-opacity="0.200"/>
<circle cx="165.1" cy="683.4" r="7.8" fill-opacity="0.200"/>
<circle cx="165.1" cy="684.3" r="7.8" fill-opacity="0.200"/>
<circle cx="160.8" cy="685.6" r="7.8" fill-opacity="0.200"/>
<circle cx="170.2" cy="685.7" r="7.8" fill-opacity="0.200"/>
<circle cx="168.1" cy="687.0" r="7.8" fill-opacity="0.200"/>
<circle cx="158.7" cy="687.9" r="7.8" fill-opacity="0.200"/>
<circle cx="165.2" cy="687.6" r="7.8" fill-opacity="0.200"/>
<circle cx="162.9" cy="688.0" r="7.8" fill-opacity="0.200"/>
<circle cx="170.2" cy="688.6" r="7.8" fill-opacity="0.200"/>
<circle cx="167.8" cy="689.3" r="7.8" fill-opacity="0.200"/>
<circle cx="167.8" cy="690.3" r="7.8" fill-opacity="0.200"/>
<circle cx="168.1" cy="691.6" r="7.8" fill-opacity="0.200"/>
<circle cx="158.5" cy="692.8" r="7.8" fill-opacity="0.200"/>
<circle cx="164.3" cy="694.0" r="7.8" fill-opacity="0.200"/>
<circle cx="163.5" cy="694.4" r="7.8" fill-opacity="0.200"/>
<circle cx="161.0" cy="695.1" r="7.8" fill-opacity="0.200"/>
<circle cx="165.4" cy="696.7" r="7.8" fill-opacity="0.200"/>
<circle cx="168.3" cy="697.8" r="7.8" fill-opacity="0.200"/>
<circle cx="167.6" cy="698.5" r="7.8" fill-opacity="0.200"/>
<circle cx="165.3" cy="699.4" r="7.8" fill-opacity="0.200"/>
<circle cx="166.9" cy="700.0" r="7.8" fill-opacity="0.200"/>
<circle cx="161.0" cy="701.7" r="7.8" fill-opacity="0.200"/>
<circle cx="160.3" cy="702.2" r="7.8" fill-opacity="0.200"/>
<circle cx="167.0" cy="703.4" r="7.8" fill-opacity="0.200"/>
<circle cx="167.4" cy="705.1" r="7.8" fill-opacity="0.200"/>
<circle cx="168.2" cy="706.2" r="7.8" fill-opacity="0.200"/>
<circle cx="164.9" cy="707.5" r="7.8" fill-opacity="0.200"/>
<circle cx="168.1" cy="708.1" r="7.8" fill-opacity="0.200"/>
<circle cx="166.0" cy="710.3" r="7.8" fill-opacity="0.200"/>
<circle cx="167.2" cy="711.1" r="7.8" fill-opacity="0.200"/>
<circle cx="162.9" cy="712.5" r="7.8" fill-opacity="0.200"/>
<circle cx="162.9" cy="714.0" r="7.8" fill-opacity="0.200"/>
<circle cx="165.3" cy="715.2" r="7.8" fill-opacity="0.200"/>
<circle cx="164.1" cy="716.1" r="7.8" fill-opacity="0.200"/>
<circle cx="165.9" cy="717.7" r="7.8" fill-opacity="0.200"/>
<circle cx="163.2" cy="718.8" r="7.8" fill-opacity="0.200"/>
<circle cx="166.4" cy="719.6" r="7.8" fill-opacity="0.200"/>
<circle cx="162.7" cy="721.7" r="7.8" fill-opacity="0.200"/>
<circle cx="166.2" cy="722.2" r="7.8" fill-opacity="0.200"/>
<circle cx="161.4" cy="723.5" r="7.8" fill-opacity="0.200"/>
<circle cx="164.3" cy="724.6" r="7.8" fill-opacity="0.200"/>
<circle cx="165.6" cy="399.4" r="7.8" fill-opacity="0.200"/>
<circle cx="163.5" cy="408.6" r="7.8" fill-opacity="0.200"/>
<circle cx="164.6" cy="411.0" r="7.8" fill-opacity="0.200"/>
<circle cx="163.0" cy="411.2" r="7.8" fill-opacity="0.200"/>
<circle cx="163.5" cy="403.2" r="7.8" fill-opacity="0.200"/>
<circle cx="165.7" cy="442.9" r="7.8" fill-opacity="0.200"/>
<circle cx="166.3" cy="422.1" r="7.8" fill-opacity="0.200"/>
<circle cx="165.1" cy="429.5" r="7.8" fill-opacity="0.200"/>
<circle cx="166.1" cy="434.9" r="7.8" fill-opacity="0.200"/>
<circle cx="166.2" cy="444.7" r="7.8" fill-opacity="0.200"/>
<circle cx="163.5" cy="426.8" r="7.8" fill-opacity="0.200"/>
<circle cx="164.8" cy="426.2" r="7.8" fill-opacity="0.200"/>
<circle cx="163.2" cy="424.3" r="7.8" fill-opacity="0.200"/>
<circle cx="164.6" cy="429.6" r="7.8" fill-opacity="0.200"/>
<circle cx="164.1" cy="422.2" r="7.8" fill-opacity="0.200"/>
<circle cx="165.6" cy="426.3" r="7.8" fill-opacity="0.200"/>
<circle cx="164.9" cy="427.9" r="7.8" fill-opacity="0.200"/>
<circle cx="162.9" cy="451.5" r="7.8" fill-opacity="0.200"/>
<circle cx="163.6" cy="453.6" r="7.8" fill-opacity="0.200"/>
<circle cx="166.0" cy="459.5" r="7.8" fill-opacity="0.200"/>
<circle cx="164.0" cy="451.9" r="7.8" fill-opacity="0.200"/>
<circle cx="165.0" cy="470.6" r="7.8" fill-opacity="0.200"/>
<circle cx="165.8" cy="476.4" r="7.8" fill-opacity="0.200"/>
<circle cx="164.5" cy="472.9" r="7.8" fill-opacity="0.200"/>
<circle cx="164.5" cy="465.6" r="7.8" fill-opacity="0.200"/>
<circle cx="163.7" cy="460.5" r="7.8" fill-opacity="0.200"/>
<circle cx="165.2" cy="470.7" r="7.8" fill-opacity="0.200"/>
<circle cx="163.1" cy="474.3" r="7.8" fill-opacity="0.200"/>
<circle cx="163.8" cy="463.4" r="7.8" fill-opacity="0.200"/>
<circle cx="164.4" cy="474.1" r="7.8" fill-opacity="0.200"/>
<circle cx="163.6" cy="477.9" r="7.8" fill-opacity="0.200"/>
<circle cx="165.9" cy="485.6" r="7.8" fill-opacity="0.200"/>
<circle cx="166.1" cy="488.0" r="7.8" fill-opacity="0.200"/>
<circle cx="162.8" cy="483.0" r="7.8" fill-opacity="0.200"/>
<circle cx="166.5" cy="484.0" r="7.8" fill-opacity="0.200"/>
<circle cx="163.9" cy="484.9" r="7.8" fill-opacity="0.200"/>
<circle cx="163.0" cy="491.1" r="7.8" fill-opacity="0.200"/>
<circle cx="164.5" cy="490.6" r="7.8" fill-opacity="0.200"/>
<circle cx="164.7" cy="491.7" r="7.8" fill-opacity="0.200"/>
<circle cx="164.9" cy="480.3" r="7.8" fill-opacity="0.200"/>
<circle cx="164.6" cy="343.8" r="7.8" fill-opacity="0.200"/>
<circle cx="164.6" cy="390.4" r="7.8" fill-opacity="0.360"/>
<circle cx="164.6" cy="731.7" r="7.8" fill-opacity="0.360"/>
<circle cx="164.6" cy="756.0" r="7.8" fill-opacity="0.360"/>
<circle cx="164.6" cy="768.8" r="7.8" fill-opacity="0.200"/>
<circle cx="164.6" cy="773.6" r="7.8" fill-opacity="0.360"/>
<circle cx="164.6" cy="782.6" r="7.8" fill-opacity="0.200"/>
<circle cx="164.6" cy="792.4" r="7.8" fill-opacity="0.360"/>
<circle cx="164.6" cy="804.9" r="7.8" fill-opacity="0.200"/>
<circle cx="164.6" cy="814.6" r="7.8" fill-opacity="0.360"/>
<circle cx="249.1" cy="174.4" r="7.8" fill-opacity="0.200"/>
<circle cx="252.7" cy="175.0" r="7.8" fill-opacity="0.200"/>
<circle cx="246.0" cy="176.2" r="7.8" fill-opacity="0.200"/>
<circle cx="247.7" cy="177.5" r="7.8" fill-opacity="0.200"/>
<circle cx="244.9" cy="178.2" r="7.8" fill-opacity="0.200"/>
<circle cx="239.1" cy="179.3" r="7.8" fill-opacity="0.200"/>
<circle cx="259.5" cy="179.3" r="7.8" fill-opacity="0.200"/>
<circle cx="245.0" cy="180.9" r="7.8" fill-opacity="0.200"/>
<circle cx="239.4" cy="181.4" r="7.8" fill-opacity="0.200"/>
<circle cx="233.9" cy="182.8" r="7.8" fill-opacity="0.200"/>
<circle cx="247.3" cy="182.3" r="7.8" fill-opacity="0.200"/>
<circle cx="256.6" cy="182.3" r="7.8" fill-opacity="0.200"/>
<circle cx="233.2" cy="183.9" r="7.8" fill-opacity="0.200"/>
<circle cx="256.6" cy="183.3" r="7.8" fill-opacity="0.200"/>
<circle cx="235.9" cy="184.1" r="7.8" fill-opacity="0.200"/>
<circle cx="246.1" cy="184.9" r="7.8" fill-opacity="0.200"/>
<circle cx="254.8" cy="184.5" r="7.8" fill-opacity="0.200"/>
<circle cx="232.3" cy="185.3" r="7.8" fill-opacity="0.200"/>
<circle cx="245.2" cy="185.3" r="7.8" fill-opacity="0.200"/>
<circle cx="266.3" cy="185.2" r="7.8" fill-opacity="0.200"/>
<circle cx="238.5" cy="186.5" r="7.8" fill-opacity="0.200"/>
<circle cx="248.6" cy="186.1" r="7.8" fill-opacity="0.200"/>
<circle cx="259.5" cy="187.0" r="7.8" fill-opacity="0.200"/>
<circle cx="231.2" cy="187.7" r="7.8" fill-opacity="0.200"/>
<circle cx="248.1" cy="187.1" r="7.8" fill-opacity="0.200"/>
<circle cx="257.5" cy="187.0" r="7.8" fill-opacity="0.200"/>
<circle cx="235.3" cy="188.7" r="7.8" fill-opacity="0.200"/>
<circle cx="248.4" cy="188.3" r="7.8" fill-opacity="0.200"/>
<circle cx="256.5" cy="188.4" r="7.8" fill-opacity="0.200"/>
<circle cx="228.6" cy="189.7" r="7.8" fill-opacity="0.200"/>
<circle cx="243.1" cy="189.6" r="7.8" fill-opacity="0.200"/>
<circle cx="255.7" cy="189.5" r="7.8" fill-opacity="0.200"/>
<circle cx="231.8" cy="190.6" r="7.8" fill-opacity="0.200"/>
<circle cx="248.1" cy="190.5" r="7.8" fill-opacity="0.200"/>
<circle cx="256.8" cy="191.0" r="7.8" fill-opacity="0.200"/>
<circle cx="234.7" cy="191.3" r="7.8" fill-opacity="0.200"/>
<circle cx="249.9" cy="191.3" r="7.8" fill-opacity="0.200"/>
<circle cx="260.3" cy="191.7" r="7.8" fill-opacity="0.200"/>
<circle cx="227.1" cy="192.9" r="7.8" fill-opacity="0.200"/>
<circle cx="244.6" cy="193.0" r="7.8" fill-opacity="0.200"/>
<circle cx="250.4" cy="192.5" r="7.8" fill-opacity="0.200"/>
<circle cx="269.0" cy="192.1" r="7.8" fill-opacity="0.200"/>
<circle cx="225.7" cy="193.3" r="7.8" fill-opacity="0.200"/>
<circle cx="247.6" cy="193.7" r="7.8" fill-opacity="0.200"/>
<circle cx="264.6" cy="193.2" r="7.8" fill-opacity="0.200"/>
<circle cx="233.7" cy="194.1" r="7.8" fill-opacity="0.200"/>
<circle cx="247.5" cy="194.4" r="7.8" fill-opacity="0.200"/>
<circle cx="261.0" cy="194.2" r="7.8" fill-opacity="0.200"/>
<circle cx="271.2" cy="194.4" r="7.8" fill-opacity="0.200"/>
<circle cx="229.8" cy="195.1" r="7.8" fill-opacity="0.200"/>
<circle cx="245.8" cy="195.3" r="7.8" fill-opacity="0.200"/>
<circle cx="262.4" cy="195.9" r="7.8" fill-opacity="0.200"/>
<circle cx="234.7" cy="196.5" r="7.8" fill-opacity="0.200"/>
<circle cx="237.1" cy="196.3" r="7.8" fill-opacity="0.200"/>
<circle cx="261.1" cy="196.7" r="7.8" fill-opacity="0.200"/>
<circle cx="274.7" cy="196.6" r="7.8" fill-opacity="0.200"/>
<circle cx="226.0" cy="197.6" r="7.8" fill-opacity="0.200"/>
<circle cx="246.4" cy="197.7" r="7.8" fill-opacity="0.200"/>
<circle cx="260.2" cy="197.2" r="7.8" fill-opacity="0.200"/>
<circle cx="274.6" cy="197.2" r="7.8" fill-opacity="0.200"/>
<circle cx="233.0" cy="198.2" r="7.8" fill-opacity="0.200"/>
<circle cx="237.7" cy="198.9" r="7.8" fill-opacity="0.200"/>
<circle cx="260.2" cy="198.4" r="7.8" fill-opacity="0.200"/>
<circle cx="265.8" cy="198.6" r="7.8" fill-opacity="0.200"/>
<circle cx="227.7" cy="199.8" r="7.8" fill-opacity="0.200"/>
<circle cx="244.4" cy="199.8" r="7.8" fill-opacity="0.200"/>
<circle cx="255.3" cy="199.3" r="7.8" fill-opacity="0.200"/>
<circle cx="274.2" cy="199.2" r="7.8" fill-opacity="0.200"/>
<circle cx="230.1" cy="200.3" r="7.8" fill-opacity="0.200"/>
<circle cx="242.8" cy="200.8" r="7.8" fill-opacity="0.200"/>
<circle cx="258.2" cy="200.3" r="7.8" fill-opacity="0.200"/>
<circle cx="264.8" cy="200.4" r="7.8" fill-opacity="0.200"/>
<circle cx="218.3" cy="201.1" r="7.8" fill-opacity="0.200"/>
<circle cx="247.0" cy="201.5" r="7.8" fill-opacity="0.200"/>
<circle cx="251.0" cy="202.0" r="7.8" fill-opacity="0.200"/>
<circle cx="278.1" cy="201.7" r="7.8" fill-opacity="0.200"/>
<circle cx="218.1" cy="202.8" r="7.8" fill-opacity="0.200"/>
<circle cx="234.1" cy="202.4" r="7.8" fill-opacity="0.200"/>
<circle cx="258.0" cy="202.8" r="7.8" fill-opacity="0.200"/>
<circle cx="269.1" cy="202.2" r="7.8" fill-opacity="0.200"/>
<circle cx="231.0" cy="203.9" r="7.8" fill-opacity="0.200"/>
<circle cx="246.8" cy="203.9" r="7.8" fill-opacity="0.200"/>
<circle cx="260.3" cy="203.0" r="7.8" fill-opacity="0.200"/>
<circle cx="276.2" cy="203.7" r="7.8" fill-opacity="0.200"/>
<circle cx="217.8" cy="204.2" r="7.8" fill-opacity="0.200"/>
<circle cx="230.8" cy="204.5" r="7.8" fill-opacity="0.200"/>
<circle cx="244.7" cy="204.9" r="7.8" fill-opacity="0.200"/>
<circle cx="260.1" cy="204.2" r="7.8" fill-opacity="0.200"/>
<circle cx="270.4" cy="204.1" r="7.8" fill-opacity="0.200"/>
<circle cx="228.2" cy="205.7" r="7.8" fill-opacity="0.200"/>
<circle cx="233.8" cy="205.2" r="7.8" fill-opacity="0.200"/>
<circle cx="257.3" cy="205.7" r="7.8" fill-opacity="0.200"/>
<circle cx="276.3" cy="205.9" r="7.8" fill-opacity="0.200"/>
<circle cx="227.2" cy="206.2" r="7.8" fill-opacity="0.200"/>
<circle cx="240.4" cy="206.0" r="7.8" fill-opacity="0.200"/>
<circle cx="255.2" cy="206.0" r="7.8" fill-opacity="0.200"/>
<circle cx="256.4" cy="206.2" r="7.8" fill-opacity="0.200"/>
<circle cx="280.7" cy="206.5" r="7.8" fill-opacity="0.200"/>
<circle cx="226.9" cy="207.7" r="7.8" fill-opacity="0.200"/>
<circle cx="241.6" cy="207.7" r="7.8" fill-opacity="0.200"/>
<circle cx="264.2" cy="207.5" r="7.8" fill-opacity="0.200"/>
<circle cx="274.9" cy="207.8" r="7.8" fill-opacity="0.200"/>
<circle cx="226.3" cy="208.0" r="7.8" fill-opacity="0.200"/>
<circle cx="237.3" cy="208.3" r="7.8" fill-opacity="0.200"/>
<circle cx="253.8" cy="208.1" r="7.8" fill-opacity="0.200"/>
<circle cx="265.8" cy="208.7" r="7.8" fill-opacity="0.200"/>
<circle cx="275.2" cy="208.0" r="7.8" fill-opacity="0.200"/>
<circle cx="230.0" cy="209.9" r="7.8" fill-opacity="0.200"/>
<circle cx="232.3" cy="209.3" r="7.8" fill-opacity="0.200"/>
<circle cx="255.8" cy="209.0" r="7.8" fill-opacity="0.200"/>
<circle cx="271.9" cy="209.4" r="7.8" fill-opacity="0.200"/>
<circle cx="224.9" cy="210.2" r="7.8" fill-opacity="0.200"/>
<circle cx="230.8" cy="210.3" r="7.8" fill-opacity="0.200"/>
<circle cx="245.9" cy="210.4" r="7.8" fill-opacity="0.200"/>
<circle cx="255.3" cy="210.2" r="7.8" fill-opacity="0.200"/>
<circle cx="279.7" cy="210.8" r="7.8" fill-opacity="0.200"/>
<circle cx="216.4" cy="211.6" r="7.8" fill-opacity="0.200"/>
<circle cx="236.9" cy="212.0" r="7.8" fill-opacity="0.200"/>
<circle cx="250.4" cy="211.8" r="7.8" fill-opacity="0.200"/>
<circle cx="273.8" cy="211.8" r="7.8" fill-opacity="0.200"/>
<circle cx="216.4" cy="212.2" r="7.8" fill-opacity="0.200"/>
<circle cx="240.7" cy="213.0" r="7.8" fill-opacity="0.200"/>
<circle cx="254.7" cy="212.7" r="7.8" fill-opacity="0.200"/>
<circle cx="268.6" cy="212.1" r="7.8" fill-opacity="0.200"/>
<circle cx="272.9" cy="212.1" r="7.8" fill-opacity="0.200"/>
<circle cx="227.7" cy="213.6" r="7.8" fill-opacity="0.200"/>
<circle cx="242.9" cy="213.8" r="7.8" fill-opacity="0.200"/>
<circle cx="265.2" cy="213.3" r="7.8" fill-opacity="0.200"/>
<circle cx="265.6" cy="213.6" r="7.8" fill-opacity="0.200"/>
<circle cx="229.7" cy="214.8" r="7.8" fill-opacity="0.200"/>
<circle cx="244.6" cy="214.9" r="7.8" fill-opacity="0.200"/>
<circle cx="260.5" cy="214.3" r="7.8" fill-opacity="0.200"/>
<circle cx="277.1" cy="214.9" r="7.8" fill-opacity="0.200"/>
<circle cx="224.4" cy="215.5" r="7.8" fill-opacity="0.200"/>
<circle cx="231.4" cy="215.3" r="7.8" fill-opacity="0.200"/>
<circle cx="243.9" cy="215.1" r="7.8" fill-opacity="0.200"/>
<circle cx="255.5" cy="215.5" r="7.8" fill-opacity="0.200"/>
<circle cx="268.3" cy="215.8" r="7.8" fill-opacity="0.200"/>
<circle cx="222.4" cy="216.5" r="7.8" fill-opacity="0.200"/>
<circle cx="239.6" cy="216.1" r="7.8" fill-opacity="0.200"/>
<circle cx="251.3" cy="216.0" r="7.8" fill-opacity="0.200"/>
<circle cx="270.8" cy="216.9" r="7.8" fill-opacity="0.200"/>
<circle cx="225.7" cy="217.3" r="7.8" fill-opacity="0.200"/>
<circle cx="237.7" cy="217.6" r="7.8" fill-opacity="0.200"/>
<circle cx="243.4" cy="217.6" r="7.8" fill-opacity="0.200"/>
<circle cx="265.3" cy="217.3" r="7.8" fill-opacity="0.200"/>
<circle cx="277.5" cy="217.1" r="7.8" fill-opacity="0.200"/>
<circle cx="230.4" cy="218.5" r="7.8" fill-opacity="0.200"/>
<circle cx="235.3" cy="218.6" r="7.8" fill-opacity="0.200"/>
<circle cx="262.0" cy="218.5" r="7.8" fill-opacity="0.200"/>
<circle cx="278.3" cy="218.6" r="7.8" fill-opacity="0.200"/>
<circle cx="226.3" cy="219.7" r="7.8" fill-opacity="0.200"/>
<circle cx="246.9" cy="219.8" r="7.8" fill-opacity="0.200"/>
<circle cx="259.6" cy="219.4" r="7.8" fill-opacity="0.200"/>
<circle cx="276.3" cy="219.4" r="7.8" fill-opacity="0.200"/>
<circle cx="224.8" cy="220.3" r="7.8" fill-opacity="0.200"/>
<circle cx="240.5" cy="220.7" r="7.8" fill-opacity="0.200"/>
<circle cx="258.1" cy="220.8" r="7.8" fill-opacity="0.200"/>
<circle cx="270.8" cy="221.0" r="7.8" fill-opacity="0.200"/>
<circle cx="220.2" cy="221.1" r="7.8" fill-opacity="0.200"/>
<circle cx="236.4" cy="221.9" r="7.8" fill-opacity="0.200"/>
<circle cx="249.8" cy="221.9" r="7.8" fill-opacity="0.200"/>
<circle cx="259.9" cy="221.5" r="7.8" fill-opacity="0.200"/>
<circle cx="273.9" cy="221.2" r="7.8" fill-opacity="0.200"/>
<circle cx="224.0" cy="222.8" r="7.8" fill-opacity="0.200"/>
<circle cx="240.2" cy="222.2" r="7.8" fill-opacity="0.200"/>
<circle cx="255.1" cy="222.1" r="7.8" fill-opacity="0.200"/>
<circle cx="270.1" cy="222.1" r="7.8" fill-opacity="0.200"/>
<circle cx="232.8" cy="223.3" r="7.8" fill-opacity="0.200"/>
<circle cx="245.0" cy="223.9" r="7.8" fill-opacity="0.200"/>
<circle cx="258.6" cy="223.1" r="7.8" fill-opacity="0.200"/>
<circle cx="274.5" cy="223.8" r="7.8" fill-opacity="0.200"/>
<circle cx="226.7" cy="224.5" r="7.8" fill-opacity="0.200"/>
<circle cx="238.8" cy="224.8" r="7.8" fill-opacity="0.200"/>
<circle cx="254.7" cy="224.4" r="7.8" fill-opacity="0.200"/>
<circle cx="270.8" cy="224.2" r="7.8" fill-opacity="0.200"/>
<circle cx="227.8" cy="225.6" r="7.8" fill-opacity="0.200"/>
<circle cx="243.0" cy="225.2" r="7.8" fill-opacity="0.200"/>
<circle cx="260.4" cy="225.4" r="7.8" fill-opacity="0.200"/>
<circle cx="273.4" cy="225.7" r="7.8" fill-opacity="0.200"/>
<circle cx="232.8" cy="226.7" r="7.8" fill-opacity="0.200"/>
<circle cx="236.1" cy="227.0" r="7.8" fill-opacity="0.200"/>
<circle cx="252.3" cy="226.4" r="7.8" fill-opacity="0.200"/>
<circle cx="266.6" cy="226.3" r="7.8" fill-opacity="0.200"/>
<circle cx="230.6" cy="227.7" r="7.8" fill-opacity="0.200"/>
<circle cx="236.7" cy="227.7" r="7.8" fill-opacity="0.200"/>
<circle cx="258.7" cy="227.2" r="7.8" fill-opacity="0.200"/>
<circle cx="263.0" cy="227.8" r="7.8" fill-opacity="0.200"/>
<circle cx="231.7" cy="228.5" r="7.8" fill-opacity="0.200"/>
<circle cx="235.2" cy="228.8" r="7.8" fill-opacity="0.200"/>
<circle cx="249.5" cy="228.5" r="7.8" fill-opacity="0.200"/>
<circle cx="265.0" cy="228.8" r="7.8" fill-opacity="0.200"/>
<circle cx="233.9" cy="229.5" r="7.8" fill-opacity="0.200"/>
<circle cx="247.9" cy="229.0" r="7.8" fill-opacity="0.200"/>
<circle cx="256.9" cy="229.1" r="7.8" fill-opacity="0.200"/>
<circle cx="268.1" cy="229.6" r="7.8" fill-opacity="0.200"/>
<circle cx="222.2" cy="230.1" r="7.8" fill-opacity="0.200"/>
<circle cx="237.6" cy="230.7" r="7.8" fill-opacity="0.200"/>
<circle cx="251.5" cy="230.6" r="7.8" fill-opacity="0.200"/>
<circle cx="264.7" cy="230.5" r="7.8" fill-opacity="0.200"/>
<circle cx="235.3" cy="231.0" r="7.8" fill-opacity="0.200"/>
<circle cx="257.3" cy="231.1" r="7.8" fill-opacity="0.200"/>
<circle cx="262.7" cy="231.2" r="7.8" fill-opacity="0.200"/>
<circle cx="225.9" cy="232.0" r="7.8" fill-opacity="0.200"/>
<circle cx="240.9" cy="232.1" r="7.8" fill-opacity="0.200"/>
<circle cx="254.8" cy="232.9" r="7.8" fill-opacity="0.200"/>
<circle cx="262.2" cy="232.7" r="7.8" fill-opacity="0.200"/>
<circle cx="224.2" cy="233.1" r="7.8" fill-opacity="0.200"/>
<circle cx="247.5" cy="233.2" r="7.8" fill-opacity="0.200"/>
<circle cx="250.0" cy="233.1" r="7.8" fill-opacity="0.200"/>
<circle cx="266.0" cy="233.4" r="7.8" fill-opacity="0.200"/>
<circle cx="223.2" cy="235.0" r="7.8" fill-opacity="0.200"/>
<circle cx="248.0" cy="234.9" r="7.8" fill-opacity="0.200"/>
<circle cx="258.1" cy="234.2" r="7.8" fill-opacity="0.200"/>
<circle cx="235.2" cy="235.3" r="7.8" fill-opacity="0.200"/>
<circle cx="244.2" cy="235.9" r="7.8" fill-opacity="0.200"/>
<circle cx="250.5" cy="236.0" r="7.8" fill-opacity="0.200"/>
<circle cx="270.2" cy="235.9" r="7.8" fill-opacity="0.200"/>
<circle cx="226.9" cy="236.7" r="7.8" fill-opacity="0.200"/>
<circle cx="240.3" cy="236.4" r="7.8" fill-opacity="0.200"/>
<circle cx="253.7" cy="236.7" r="7.8" fill-opacity="0.200"/>
<circle cx="266.2" cy="236.1" r="7.8" fill-opacity="0.200"/>
<circle cx="238.3" cy="237.9" r="7.8" fill-opacity="0.200"/>
<circle cx="255.4" cy="237.5" r="7.8" fill-opacity="0.200"/>
<circle cx="269.1" cy="237.2" r="7.8" fill-opacity="0.200"/>
<circle cx="236.8" cy="238.3" r="7.8" fill-opacity="0.200"/>
<circle cx="251.7" cy="238.9" r="7.8" fill-opacity="0.200"/>
<circle cx="268.1" cy="238.5" r="7.8" fill-opacity="0.200"/>
<circle cx="232.4" cy="239.1" r="7.8" fill-opacity="0.200"/>
<circle cx="242.9" cy="239.9" r="7.8" fill-opacity="0.200"/>
<circle cx="258.5" cy="239.4" r="7.8" fill-opacity="0.200"/>
<circle cx="270.9" cy="239.3" r="7.8" fill-opacity="0.200"/>
<circle cx="228.7" cy="240.3" r="7.8" fill-opacity="0.200"/>
<circle cx="252.5" cy="240.3" r="7.8" fill-opacity="0.200"/>
<circle cx="258.9" cy="240.4" r="7.8" fill-opacity="0.200"/>
<circle cx="230.9" cy="241.2" r="7.8" fill-opacity="0.200"/>
<circle cx="248.9" cy="241.8" r="7.8" fill-opacity="0.200"/>
<circle cx="260.3" cy="241.4" r="7.8" fill-opacity="0.200"/>
<circle cx="236.4" cy="242.3" r="7.8" fill-opacity="0.200"/>
<circle cx="241.9" cy="242.4" r="7.8" fill-opacity="0.200"/>
<circle cx="266.8" cy="242.6" r="7.8" fill-opacity="0.200"/>
<circle cx="240.4" cy="243.2" r="7.8" fill-opacity="0.200"/>
<circle cx="253.0" cy="243.4" r="7.8" fill-opacity="0.200"/>
<circle cx="265.9" cy="243.3" r="7.8" fill-opacity="0.200"/>
<circle cx="239.9" cy="244.2" r="7.8" fill-opacity="0.200"/>
<circle cx="251.0" cy="244.8" r="7.8" fill-opacity="0.200"/>
<circle cx="265.9" cy="244.1" r="7.8" fill-opacity="0.200"/>
<circle cx="242.0" cy="245.9" r="7.8" fill-opacity="0.200"/>
<circle cx="252.2" cy="246.0" r="7.8" fill-opacity="0.200"/>
<circle cx="266.5" cy="245.7" r="7.8" fill-opacity="0.200"/>
<circle cx="233.5" cy="246.3" r="7.8" fill-opacity="0.200"/>
<circle cx="244.2" cy="246.6" r="7.8" fill-opacity="0.200"/>
<circle cx="258.5" cy="247.0" r="7.8" fill-opacity="0.200"/>
<circle cx="237.0" cy="247.5" r="7.8" fill-opacity="0.200"/>
<circle cx="250.8" cy="247.7" r="7.8" fill-opacity="0.200"/>
<circle cx="261.0" cy="247.1" r="7.8" fill-opacity="0.200"/>
<circle cx="238.9" cy="248.3" r="7.8" fill-opacity="0.200"/>
<circle cx="253.5" cy="248.2" r="7.8" fill-opacity="0.200"/>
<circle cx="236.7" cy="249.9" r="7.8" fill-opacity="0.200"/>
<circle cx="247.4" cy="249.7" r="7.8" fill-opacity="0.200"/>
<circle cx="256.4" cy="249.7" r="7.8" fill-opacity="0.200"/>
<circle cx="241.5" cy="250.4" r="7.8" fill-opacity="0.200"/>
<circle cx="252.5" cy="250.9" r="7.8" fill-opacity="0.200"/>
<circle cx="258.1" cy="250.9" r="7.8" fill-opacity="0.200"/>
<circle cx="233.1" cy="251.3" r="7.8" fill-opacity="0.200"/>
<circle cx="250.9" cy="252.0" r="7.8" fill-opacity="0.200"/>
<circle cx="245.7" cy="252.7" r="7.8" fill-opacity="0.200"/>
<circle cx="261.9" cy="252.2" r="7.8" fill-opacity="0.200"/>
<circle cx="246.6" cy="253.0" r="7.8" fill-opacity="0.200"/>
<circle cx="257.4" cy="253.4" r="7.8" fill-opacity="0.200"/>
<circle cx="236.0" cy="254.9" r="7.8" fill-opacity="0.200"/>
<circle cx="262.0" cy="254.8" r="7.8" fill-opacity="0.200"/>
<circle cx="244.1" cy="255.3" r="7.8" fill-opacity="0.200"/>
<circle cx="257.3" cy="256.0" r="7.8" fill-opacity="0.200"/>
<circle cx="240.7" cy="256.9" r="7.8" fill-opacity="0.200"/>
<circle cx="256.4" cy="256.2" r="7.8" fill-opacity="0.200"/>
<circle cx="258.5" cy="257.6" r="7.8" fill-opacity="0.200"/>
<circle cx="245.0" cy="258.3" r="7.8" fill-opacity="0.200"/>
<circle cx="254.3" cy="258.1" r="7.8" fill-opacity="0.200"/>
<circle cx="246.9" cy="259.8" r="7.8" fill-opacity="0.200"/>
<circle cx="261.4" cy="259.7" r="7.8" fill-opacity="0.200"/>
<circle cx="244.0" cy="260.5" r="7.8" fill-opacity="0.200"/>
<circle cx="255.8" cy="260.1" r="7.8" fill-opacity="0.200"/>
<circle cx="237.9" cy="261.0" r="7.8" fill-opacity="0.200"/>
<circle cx="240.5" cy="262.5" r="7.8" fill-opacity="0.200"/>
<circle cx="256.7" cy="262.6" r="7.8" fill-opacity="0.200"/>
<circle cx="243.8" cy="263.2" r="7.8" fill-opacity="0.200"/>
<circle cx="257.6" cy="263.0" r="7.8" fill-opacity="0.200"/>
<circle cx="253.3" cy="264.9" r="7.8" fill-opacity="0.200"/>
<circle cx="238.6" cy="265.5" r="7.8" fill-opacity="0.200"/>
<circle cx="256.8" cy="265.8" r="7.8" fill-opacity="0.200"/>
<circle cx="254.9" cy="266.4" r="7.8" fill-opacity="0.200"/>
<circle cx="241.3" cy="267.6" r="7.8" fill-opacity="0.200"/>
<circle cx="253.7" cy="267.4" r="7.8" fill-opacity="0.200"/>
<circle cx="237.3" cy="268.9" r="7.8" fill-opacity="0.200"/>
<circle cx="257.0" cy="268.4" r="7.8" fill-opacity="0.200"/>
<circle cx="243.6" cy="269.5" r="7.8" fill-opacity="0.200"/>
<circle cx="245.7" cy="270.1" r="7.8" fill-opacity="0.200"/>
<circle cx="257.2" cy="270.4" r="7.8" fill-opacity="0.200"/>
<circle cx="255.5" cy="271.1" r="7.8" fill-opacity="0.200"/>
<circle cx="241.5" cy="272.8" r="7.8" fill-opacity="0.200"/>
<circle cx="255.4" cy="272.2" r="7.8" fill-opacity="0.200"/>
<circle cx="237.7" cy="273.0" r="7.8" fill-opacity="0.200"/>
<circle cx="259.8" cy="273.6" r="7.8" fill-opacity="0.200"/>
<circle cx="254.6" cy="274.7" r="7.8" fill-opacity="0.200"/>
<circle cx="238.1" cy="275.6" r="7.8" fill-opacity="0.200"/>
<circle cx="259.0" cy="275.1" r="7.8" fill-opacity="0.200"/>
<circle cx="257.3" cy="276.6" r="7.8" fill-opacity="0.200"/>
<circle cx="238.5" cy="277.4" r="7.8" fill-opacity="0.200"/>
<circle cx="252.2" cy="277.3" r="7.8" fill-opacity="0.200"/>
<circle cx="243.8" cy="278.4" r="7.8" fill-opacity="0.200"/>
<circle cx="260.4" cy="278.9" r="7.8" fill-opacity="0.200"/>
<circle cx="242.5" cy="279.3" r="7.8" fill-opacity="0.200"/>
<circle cx="239.8" cy="280.1" r="7.8" fill-opacity="0.200"/>
<circle cx="248.7" cy="280.3" r="7.8" fill-opacity="0.200"/>
<circle cx="253.2" cy="281.1" r="7.8" fill-opacity="0.200"/>
<circle cx="245.2" cy="282.7" r="7.8" fill-opacity="0.200"/>
<circle cx="250.6" cy="282.9" r="7.8" fill-opacity="0.200"/>
<circle cx="239.3" cy="283.0" r="7.8" fill-opacity="0.200"/>
<circle cx="245.2" cy="284.8" r="7.8" fill-opacity="0.200"/>
<circle cx="252.4" cy="285.0" r="7.8" fill-opacity="0.200"/>
<circle cx="245.1" cy="286.0" r="7.8" fill-opacity="0.200"/>
<circle cx="242.3" cy="286.1" r="7.8" fill-opacity="0.200"/>
<circle cx="256.6" cy="286.9" r="7.8" fill-opacity="0.200"/>
<circle cx="249.2" cy="287.3" r="7.8" fill-opacity="0.200"/>
<circle cx="240.1" cy="288.3" r="7.8" fill-opacity="0.200"/>
<circle cx="252.2" cy="288.6" r="7.8" fill-opacity="0.200"/>
<circle cx="252.7" cy="289.3" r="7.8" fill-opacity="0.200"/>
<circle cx="240.0" cy="290.5" r="7.8" fill-opacity="0.200"/>
<circle cx="256.4" cy="290.4" r="7.8" fill-opacity="0.200"/>
<circle cx="249.2" cy="291.1" r="7.8" fill-opacity="0.200"/>
<circle cx="257.8" cy="292.6" r="7.8" fill-opacity="0.200"/>
<circle cx="242.4" cy="293.5" r="7.8" fill-opacity="0.200"/>
<circle cx="250.2" cy="293.1" r="7.8" fill-opacity="0.200"/>
<circle cx="251.7" cy="294.1" r="7.8" fill-opacity="0.200"/>
<circle cx="242.9" cy="295.3" r="7.8" fill-opacity="0.200"/>
<circle cx="252.6" cy="295.5" r="7.8" fill-opacity="0.200"/>
<circle cx="240.0" cy="296.7" r="7.8" fill-opacity="0.200"/>
<circle cx="241.1" cy="297.6" r="7.8" fill-opacity="0.200"/>
<circle cx="240.5" cy="298.8" r="7.8" fill-opacity="0.200"/>
<circle cx="257.1" cy="298.3" r="7.8" fill-opacity="0.200"/>
<circle cx="245.1" cy="299.1" r="7.8" fill-opacity="0.200"/>
<circle cx="248.0" cy="300.2" r="7.8" fill-opacity="0.200"/>
<circle cx="243.6" cy="302.0" r="7.8" fill-opacity="0.200"/>
<circle cx="254.8" cy="301.8" r="7.8" fill-opacity="0.200"/>
<circle cx="251.0" cy="302.8" r="7.8" fill-opacity="0.200"/>
<circle cx="248.1" cy="304.0" r="7.8" fill-opacity="0.200"/>
<circle cx="257.2" cy="303.4" r="7.8" fill-opacity="0.200"/>
<circle cx="255.8" cy="304.4" r="7.8" fill-opacity="0.200"/>
<circle cx="257.9" cy="305.7" r="7.8" fill-opacity="0.200"/>
<circle cx="240.0" cy="306.4" r="7.8" fill-opacity="0.200"/>
<circle cx="250.7" cy="306.3" r="7.8" fill-opacity="0.200"/>
<circle cx="250.2" cy="307.0" r="7.8" fill-opacity="0.200"/>
<circle cx="247.7" cy="308.6" r="7.8" fill-opacity="0.200"/>
<circle cx="255.5" cy="308.7" r="7.8" fill-opacity="0.200"/>
<circle cx="250.5" cy="309.4" r="7.8" fill-opacity="0.200"/>
<circle cx="243.4" cy="310.1" r="7.8" fill-opacity="0.200"/>
<circle cx="246.5" cy="311.8" r="7.8" fill-opacity="0.200"/>
<circle cx="255.2" cy="311.2" r="7.8" fill-opacity="0.200"/>
<circle cx="244.0" cy="312.9" r="7.8" fill-opacity="0.200"/>
<circle cx="250.2" cy="313.0" r="7.8" fill-opacity="0.200"/>
<circle cx="247.7" cy="314.8" r="7.8" fill-opacity="0.200"/>
<circle cx="251.8" cy="315.0" r="7.8" fill-opacity="0.200"/>
<circle cx="246.0" cy="315.2" r="7.8" fill-opacity="0.200"/>
<circle cx="244.0" cy="316.9" r="7.8" fill-opacity="0.200"/>
<circle cx="253.0" cy="316.3" r="7.8" fill-opacity="0.200"/>
<circle cx="251.2" cy="317.2" r="7.8" fill-opacity="0.200"/>
<circle cx="255.4" cy="318.5" r="7.8" fill-opacity="0.200"/>
<circle cx="244.4" cy="319.5" r="7.8" fill-opacity="0.200"/>
<circle cx="250.5" cy="319.8" r="7.8" fill-opacity="0.200"/>
<circle cx="244.7" cy="320.4" r="7.8" fill-opacity="0.200"/>
<circle cx="242.7" cy="321.1" r="7.8" fill-opacity="0.200"/>
<circle cx="248.3" cy="322.8" r="7.8" fill-opacity="0.200"/>
<circle cx="250.0" cy="322.4" r="7.8" fill-opacity="0.200"/>
<circle cx="247.0" cy="323.1" r="7.8" fill-opacity="0.200"/>
<circle cx="250.1" cy="324.9" r="7.8" fill-opacity="0.200"/>
<circle cx="246.5" cy="325.7" r="7.8" fill-opacity="0.200"/>
<circle cx="242.3" cy="326.9" r="7.8" fill-opacity="0.200"/>
<circle cx="251.5" cy="326.7" r="7.8" fill-opacity="0.200"/>
<circle cx="252.7" cy="327.8" r="7.8" fill-opacity="0.200"/>
<circle cx="243.7" cy="328.1" r="7.8" fill-opacity="0.200"/>
<circle cx="245.1" cy="329.9" r="7.8" fill-opacity="0.200"/>
<circle cx="243.0" cy="330.2" r="7.8" fill-opacity="0.200"/>
<circle cx="254.1" cy="330.4" r="7.8" fill-opacity="0.200"/>
<circle cx="254.2" cy="331.6" r="7.8" fill-opacity="0.200"/>
<circle cx="242.4" cy="332.1" r="7.8" fill-opacity="0.200"/>
<circle cx="242.8" cy="333.8" r="7.8" fill-opacity="0.200"/>
<circle cx="251.5" cy="335.0" r="7.8" fill-opacity="0.200"/>
<circle cx="248.5" cy="335.1" r="7.8" fill-opacity="0.200"/>
<circle cx="248.9" cy="336.8" r="7.8" fill-opacity="0.200"/>
<circle cx="248.9" cy="337.2" r="7.8" fill-opacity="0.200"/>
<circle cx="250.3" cy="350.1" r="7.8" fill-opacity="0.200"/>
<circle cx="246.9" cy="358.2" r="7.8" fill-opacity="0.200"/>
<circle cx="248.3" cy="364.9" r="7.8" fill-opacity="0.200"/>
<circle cx="247.2" cy="362.1" r="7.8" fill-opacity="0.200"/>
<circle cx="248.5" cy="365.8" r="7.8" fill-opacity="0.200"/>
<circle cx="248.3" cy="358.4" r="7.8" fill-opacity="0.200"/>
<circle cx="250.5" cy="362.5" r="7.8" fill-opacity="0.200"/>
<circle cx="250.4" cy="391.5" r="7.8" fill-opacity="0.200"/>
<circle cx="247.5" cy="389.7" r="7.8" fill-opacity="0.200"/>
<circle cx="246.7" cy="376.7" r="7.8" fill-opacity="0.200"/>
<circle cx="247.0" cy="371.4" r="7.8" fill-opacity="0.200"/>
<circle cx="248.6" cy="387.7" r="7.8" fill-opacity="0.200"/>
<circle cx="249.5" cy="374.6" r="7.8" fill-opacity="0.200"/>
<circle cx="248.0" cy="380.7" r="7.8" fill-opacity="0.200"/>
<circle cx="250.4" cy="376.3" r="7.8" fill-opacity="0.200"/>
<circle cx="247.8" cy="369.8" r="7.8" fill-opacity="0.200"/>
<circle cx="247.8" cy="371.6" r="7.8" fill-opacity="0.200"/>
<circle cx="248.4" cy="373.6" r="7.8" fill-opacity="0.200"/>
<circle cx="249.5" cy="400.6" r="7.8" fill-opacity="0.200"/>
<circle cx="247.7" cy="399.6" r="7.8" fill-opacity="0.200"/>
<circle cx="247.6" cy="411.3" r="7.8" fill-opacity="0.200"/>
<circle cx="246.5" cy="402.6" r="7.8" fill-opacity="0.200"/>
<circle cx="249.9" cy="403.8" r="7.8" fill-opacity="0.200"/>
<circle cx="246.7" cy="428.0" r="7.8" fill-opacity="0.200"/>
<circle cx="248.0" cy="417.1" r="7.8" fill-opacity="0.200"/>
<circle cx="250.1" cy="413.2" r="7.8" fill-opacity="0.200"/>
<circle cx="247.2" cy="424.8" r="7.8" fill-opacity="0.200"/>
<circle cx="247.3" cy="425.8" r="7.8" fill-opacity="0.200"/>
<circle cx="249.7" cy="417.6" r="7.8" fill-opacity="0.200"/>
<circle cx="248.8" cy="419.1" r="7.8" fill-opacity="0.200"/>
<circle cx="246.8" cy="415.0" r="7.8" fill-opacity="0.200"/>
<circle cx="248.4" cy="420.2" r="7.8" fill-opacity="0.200"/>
<circle cx="247.8" cy="437.3" r="7.8" fill-opacity="0.200"/>
<circle cx="246.5" cy="441.0" r="7.8" fill-opacity="0.200"/>
<circle cx="248.3" cy="441.3" r="7.8" fill-opacity="0.200"/>
<circle cx="248.5" cy="437.3" r="7.8" fill-opacity="0.200"/>
<circle cx="249.0" cy="462.4" r="7.8" fill-opacity="0.200"/>
<circle cx="249.6" cy="471.8" r="7.8" fill-opacity="0.200"/>
<circle cx="249.7" cy="466.9" r="7.8" fill-opacity="0.200"/>
<circle cx="250.4" cy="442.3" r="7.8" fill-opacity="0.200"/>
<circle cx="249.4" cy="469.7" r="7.8" fill-opacity="0.200"/>
<circle cx="250.4" cy="469.1" r="7.8" fill-opacity="0.200"/>
<circle cx="248.6" cy="466.0" r="7.8" fill-opacity="0.200"/>
<circle cx="249.1" cy="476.4" r="7.8" fill-opacity="0.200"/>
<circle cx="248.6" cy="447.5" r="7.8" fill-opacity="0.200"/>
<circle cx="249.9" cy="482.7" r="7.8" fill-opacity="0.200"/>
<circle cx="249.2" cy="478.6" r="7.8" fill-opacity="0.200"/>
<circle cx="250.4" cy="492.8" r="7.8" fill-opacity="0.200"/>
<circle cx="249.4" cy="496.8" r="7.8" fill-opacity="0.200"/>
<circle cx="246.8" cy="513.6" r="7.8" fill-opacity="0.200"/>
<circle cx="250.0" cy="516.4" r="7.8" fill-opacity="0.200"/>
<circle cx="248.5" cy="578.3" r="7.8" fill-opacity="0.200"/>
<path d="M336.3,390.0 C338.1,391.3 339.3,394.7 340.2,398.0 C341.1,401.3 341.2,406.4 341.6,410.0 C342.0,413.6 342.2,414.7 342.7,419.6 C343.2,424.5 343.8,432.7 344.7,439.3 C345.6,445.9 347.2,454.7 348.1,459.1 C349.0,463.6 349.2,464.2 350.3,466.0 C351.4,467.8 353.4,468.5 354.8,470.0 C356.2,471.5 357.6,472.9 359.0,475.0 C360.4,477.1 361.4,478.9 363.0,482.9 C364.6,486.8 367.0,492.8 368.4,498.7 C369.8,504.6 371.2,513.2 371.4,518.5 C371.6,523.8 369.2,526.3 369.4,530.3 C369.7,534.2 373.4,537.6 372.9,542.2 C372.4,546.8 368.5,553.7 366.4,558.0 C364.3,562.3 362.6,564.7 360.3,568.0 C358.0,571.3 354.9,574.6 352.6,577.8 C350.4,581.0 348.3,583.7 346.8,587.0 C345.3,590.3 344.6,592.5 343.7,597.6 C342.8,602.7 341.8,611.5 341.2,617.4 C340.6,623.3 340.9,629.1 340.2,633.2 C339.5,637.3 338.7,640.5 336.8,642.0 C334.9,643.5 330.7,643.5 328.8,642.0 C326.9,640.5 326.1,637.3 325.4,633.2 C324.7,629.1 325.0,623.3 324.4,617.4 C323.8,611.5 322.8,602.7 321.9,597.6 C321.0,592.5 320.3,590.3 318.8,587.0 C317.3,583.7 315.2,581.0 313.0,577.8 C310.8,574.6 307.6,571.3 305.3,568.0 C303.0,564.7 301.3,562.3 299.2,558.0 C297.1,553.7 293.2,546.8 292.7,542.2 C292.2,537.6 295.9,534.2 296.2,530.3 C296.4,526.3 294.0,523.8 294.2,518.5 C294.4,513.2 295.8,504.6 297.2,498.7 C298.6,492.8 301.0,486.8 302.6,482.9 C304.2,478.9 305.2,477.1 306.6,475.0 C308.0,472.9 309.4,471.5 310.8,470.0 C312.2,468.5 314.2,467.8 315.3,466.0 C316.4,464.2 316.6,463.6 317.5,459.1 C318.4,454.7 320.0,445.9 320.9,439.3 C321.8,432.7 322.4,424.5 322.9,419.6 C323.4,414.7 323.6,413.6 324.0,410.0 C324.4,406.4 324.5,401.3 325.4,398.0 C326.3,394.7 327.5,391.3 329.3,390.0 C331.1,388.7 334.5,388.7 336.3,390.0Z" fill="#080808" filter="url(#b1)"/>
<circle cx="332.9" cy="357.7" r="7.8" fill-opacity="0.200"/>
<circle cx="332.0" cy="350.7" r="7.8" fill-opacity="0.200"/>
<circle cx="333.3" cy="352.4" r="7.8" fill-opacity="0.200"/>
<circle cx="332.1" cy="355.2" r="7.8" fill-opacity="0.200"/>
<circle cx="332.0" cy="362.0" r="7.8" fill-opacity="0.200"/>
<circle cx="333.0" cy="378.6" r="7.8" fill-opacity="0.200"/>
<circle cx="332.1" cy="363.7" r="7.8" fill-opacity="0.200"/>
<circle cx="332.8" cy="365.3" r="7.8" fill-opacity="0.200"/>
<circle cx="333.2" cy="371.8" r="7.8" fill-opacity="0.200"/>
<circle cx="333.1" cy="381.6" r="7.8" fill-opacity="0.200"/>
<circle cx="333.3" cy="367.3" r="7.8" fill-opacity="0.200"/>
<circle cx="333.4" cy="370.4" r="7.8" fill-opacity="0.200"/>
<circle cx="332.6" cy="362.6" r="7.8" fill-opacity="0.200"/>
<circle cx="332.1" cy="378.1" r="7.8" fill-opacity="0.200"/>
<circle cx="333.2" cy="369.7" r="7.8" fill-opacity="0.200"/>
<circle cx="333.4" cy="367.4" r="7.8" fill-opacity="0.200"/>
<circle cx="332.8" cy="381.6" r="7.8" fill-opacity="0.200"/>
<circle cx="333.4" cy="390.4" r="7.8" fill-opacity="0.200"/>
<circle cx="332.0" cy="394.7" r="7.8" fill-opacity="0.200"/>
<circle cx="332.6" cy="393.8" r="7.8" fill-opacity="0.200"/>
<circle cx="332.3" cy="393.7" r="7.8" fill-opacity="0.200"/>
<circle cx="332.6" cy="393.4" r="7.8" fill-opacity="0.200"/>
<circle cx="332.8" cy="399.6" r="7.8" fill-opacity="0.200"/>
<circle cx="332.5" cy="397.9" r="7.8" fill-opacity="0.200"/>
<circle cx="332.2" cy="389.2" r="7.8" fill-opacity="0.200"/>
<circle cx="333.2" cy="389.6" r="7.8" fill-opacity="0.200"/>
<circle cx="332.6" cy="401.1" r="7.8" fill-opacity="0.200"/>
<circle cx="333.6" cy="400.9" r="7.8" fill-opacity="0.200"/>
<circle cx="333.0" cy="388.9" r="7.8" fill-opacity="0.200"/>
<circle cx="332.1" cy="389.2" r="7.8" fill-opacity="0.200"/>
<circle cx="332.6" cy="390.8" r="7.8" fill-opacity="0.200"/>
<circle cx="332.6" cy="390.2" r="7.8" fill-opacity="0.200"/>
<circle cx="333.3" cy="398.7" r="7.8" fill-opacity="0.200"/>
<circle cx="333.5" cy="392.2" r="7.8" fill-opacity="0.200"/>
<circle cx="332.3" cy="642.9" r="7.8" fill-opacity="0.200"/>
<circle cx="332.3" cy="642.6" r="7.8" fill-opacity="0.200"/>
<circle cx="332.4" cy="647.9" r="7.8" fill-opacity="0.200"/>
<circle cx="332.7" cy="641.6" r="7.8" fill-opacity="0.200"/>
<circle cx="333.1" cy="636.7" r="7.8" fill-opacity="0.200"/>
<circle cx="332.4" cy="646.3" r="7.8" fill-opacity="0.200"/>
<circle cx="332.6" cy="640.3" r="7.8" fill-opacity="0.200"/>
<circle cx="333.5" cy="646.1" r="7.8" fill-opacity="0.200"/>
<circle cx="332.8" cy="263.2" r="7.8" fill-opacity="0.200"/>
<circle cx="332.8" cy="304.4" r="7.8" fill-opacity="0.200"/>
<circle cx="332.8" cy="317.4" r="7.8" fill-opacity="0.200"/>
<circle cx="332.8" cy="334.1" r="7.8" fill-opacity="0.488"/>
<circle cx="332.8" cy="652.5" r="7.8" fill-opacity="0.488"/>
<circle cx="332.8" cy="660.5" r="7.8" fill-opacity="0.200"/>
<circle cx="332.8" cy="681.5" r="7.8" fill-opacity="0.360"/>
<circle cx="332.8" cy="685.8" r="7.8" fill-opacity="0.200"/>
<path d="M420.6,342.0 C422.6,343.3 424.6,344.2 425.6,350.0 C426.6,355.8 426.4,368.3 426.8,376.6 C427.2,384.9 427.2,392.6 428.0,399.8 C428.8,407.0 430.2,413.0 431.4,419.6 C432.6,426.2 433.4,432.7 434.9,439.3 C436.4,445.9 438.3,452.5 440.3,459.1 C442.3,465.7 444.9,472.3 446.8,478.9 C448.7,485.5 450.3,492.1 451.7,498.7 C453.1,505.3 454.4,511.9 455.2,518.5 C456.0,525.1 457.0,531.7 456.7,538.3 C456.5,544.9 455.0,553.1 453.7,558.0 C452.5,562.9 451.5,564.6 449.2,567.9 C446.9,571.2 442.9,574.5 439.8,577.8 C436.7,581.1 432.5,584.4 430.5,587.7 C428.5,591.0 428.9,594.3 428.0,597.6 C427.1,600.9 426.0,604.8 425.0,607.5 C424.0,610.2 424.2,612.9 422.1,614.0 C420.0,615.1 414.2,615.1 412.1,614.0 C410.0,612.9 410.2,610.2 409.2,607.5 C408.2,604.8 407.1,600.9 406.2,597.6 C405.3,594.3 405.7,591.0 403.7,587.7 C401.7,584.4 397.5,581.1 394.4,577.8 C391.3,574.5 387.3,571.2 385.0,567.9 C382.7,564.6 381.8,562.9 380.5,558.0 C379.2,553.1 377.8,544.9 377.5,538.3 C377.2,531.7 378.2,525.1 379.0,518.5 C379.8,511.9 381.1,505.3 382.5,498.7 C383.9,492.1 385.5,485.5 387.4,478.9 C389.3,472.3 391.9,465.7 393.9,459.1 C395.9,452.5 397.8,445.9 399.3,439.3 C400.8,432.7 401.6,426.2 402.8,419.6 C404.0,413.0 405.4,407.0 406.2,399.8 C407.0,392.6 407.0,384.9 407.4,376.6 C407.8,368.3 407.6,355.8 408.6,350.0 C409.6,344.2 411.6,343.3 413.6,342.0 C415.6,340.7 418.6,340.7 420.6,342.0Z" fill="#080808" filter="url(#b1)"/>
<circle cx="417.9" cy="166.9" r="7.8" fill-opacity="0.200"/>
<circle cx="416.4" cy="172.9" r="7.8" fill-opacity="0.200"/>
<circle cx="416.9" cy="176.5" r="7.8" fill-opacity="0.200"/>
<circle cx="417.2" cy="181.3" r="7.8" fill-opacity="0.200"/>
<circle cx="416.5" cy="178.3" r="7.8" fill-opacity="0.200"/>
<circle cx="417.8" cy="176.9" r="7.8" fill-opacity="0.200"/>
<circle cx="416.8" cy="190.3" r="7.8" fill-opacity="0.200"/>
<circle cx="416.7" cy="222.2" r="7.8" fill-opacity="0.200"/>
<circle cx="416.7" cy="192.7" r="7.8" fill-opacity="0.200"/>
<circle cx="416.9" cy="188.8" r="7.8" fill-opacity="0.200"/>
<circle cx="417.3" cy="196.2" r="7.8" fill-opacity="0.200"/>
<circle cx="417.6" cy="201.3" r="7.8" fill-opacity="0.200"/>
<circle cx="416.9" cy="221.1" r="7.8" fill-opacity="0.200"/>
<circle cx="417.8" cy="224.9" r="7.8" fill-opacity="0.200"/>
<circle cx="417.5" cy="191.5" r="7.8" fill-opacity="0.200"/>
<circle cx="417.1" cy="215.8" r="7.8" fill-opacity="0.200"/>
<circle cx="417.0" cy="195.9" r="7.8" fill-opacity="0.200"/>
<circle cx="417.7" cy="221.6" r="7.8" fill-opacity="0.200"/>
<circle cx="416.5" cy="201.1" r="7.8" fill-opacity="0.200"/>
<circle cx="417.1" cy="218.0" r="7.8" fill-opacity="0.200"/>
<circle cx="416.8" cy="187.6" r="7.8" fill-opacity="0.200"/>
<circle cx="416.4" cy="199.0" r="7.8" fill-opacity="0.200"/>
<circle cx="417.8" cy="201.7" r="7.8" fill-opacity="0.200"/>
<circle cx="417.4" cy="201.8" r="7.8" fill-opacity="0.200"/>
<circle cx="417.2" cy="192.6" r="7.8" fill-opacity="0.200"/>
<circle cx="417.0" cy="187.6" r="7.8" fill-opacity="0.200"/>
<circle cx="417.4" cy="217.8" r="7.8" fill-opacity="0.200"/>
<circle cx="416.7" cy="206.5" r="7.8" fill-opacity="0.200"/>
<circle cx="416.6" cy="197.2" r="7.8" fill-opacity="0.200"/>
<circle cx="417.3" cy="207.6" r="7.8" fill-opacity="0.200"/>
<circle cx="417.3" cy="212.7" r="7.8" fill-opacity="0.200"/>
<circle cx="417.0" cy="212.9" r="7.8" fill-opacity="0.200"/>
<circle cx="416.7" cy="224.8" r="7.8" fill-opacity="0.200"/>
<circle cx="416.9" cy="213.7" r="7.8" fill-opacity="0.200"/>
<circle cx="417.3" cy="233.8" r="7.8" fill-opacity="0.200"/>
<circle cx="417.9" cy="232.6" r="7.8" fill-opacity="0.200"/>
<circle cx="417.5" cy="242.7" r="7.8" fill-opacity="0.200"/>
<circle cx="417.2" cy="238.7" r="7.8" fill-opacity="0.200"/>
<circle cx="417.8" cy="244.2" r="7.8" fill-opacity="0.200"/>
<circle cx="417.3" cy="229.3" r="7.8" fill-opacity="0.200"/>
<circle cx="417.6" cy="229.2" r="7.8" fill-opacity="0.200"/>
<circle cx="416.3" cy="242.4" r="7.8" fill-opacity="0.200"/>
<circle cx="417.6" cy="241.0" r="7.8" fill-opacity="0.200"/>
<circle cx="417.7" cy="240.5" r="7.8" fill-opacity="0.200"/>
<circle cx="417.6" cy="245.0" r="7.8" fill-opacity="0.200"/>
<circle cx="416.4" cy="267.7" r="7.8" fill-opacity="0.200"/>
<circle cx="417.6" cy="262.6" r="7.8" fill-opacity="0.200"/>
<circle cx="417.3" cy="261.3" r="7.8" fill-opacity="0.200"/>
<circle cx="416.4" cy="257.0" r="7.8" fill-opacity="0.200"/>
<circle cx="417.0" cy="266.8" r="7.8" fill-opacity="0.200"/>
<circle cx="416.5" cy="259.5" r="7.8" fill-opacity="0.200"/>
<circle cx="417.4" cy="253.2" r="7.8" fill-opacity="0.200"/>
<circle cx="416.6" cy="248.4" r="7.8" fill-opacity="0.200"/>
<circle cx="417.3" cy="251.1" r="7.8" fill-opacity="0.200"/>
<circle cx="417.8" cy="265.4" r="7.8" fill-opacity="0.200"/>
<circle cx="416.9" cy="250.3" r="7.8" fill-opacity="0.200"/>
<circle cx="417.1" cy="267.0" r="7.8" fill-opacity="0.200"/>
<circle cx="416.5" cy="258.8" r="7.8" fill-opacity="0.200"/>
<circle cx="416.8" cy="255.7" r="7.8" fill-opacity="0.200"/>
<circle cx="416.5" cy="246.1" r="7.8" fill-opacity="0.200"/>
<circle cx="417.7" cy="274.4" r="7.8" fill-opacity="0.200"/>
<circle cx="416.9" cy="268.2" r="7.8" fill-opacity="0.200"/>
<circle cx="417.4" cy="272.1" r="7.8" fill-opacity="0.200"/>
<circle cx="417.7" cy="283.3" r="7.8" fill-opacity="0.200"/>
<circle cx="417.9" cy="279.2" r="7.8" fill-opacity="0.200"/>
<circle cx="416.8" cy="280.8" r="7.8" fill-opacity="0.200"/>
<circle cx="416.9" cy="312.3" r="7.8" fill-opacity="0.200"/>
<circle cx="417.2" cy="330.0" r="7.8" fill-opacity="0.200"/>
<circle cx="416.4" cy="300.3" r="7.8" fill-opacity="0.200"/>
<circle cx="416.5" cy="316.6" r="7.8" fill-opacity="0.200"/>
<circle cx="417.2" cy="317.1" r="7.8" fill-opacity="0.200"/>
<circle cx="417.8" cy="293.0" r="7.8" fill-opacity="0.200"/>
<circle cx="417.7" cy="300.7" r="7.8" fill-opacity="0.200"/>
<circle cx="417.5" cy="302.1" r="7.8" fill-opacity="0.200"/>
<circle cx="417.6" cy="298.8" r="7.8" fill-opacity="0.200"/>
<circle cx="417.7" cy="323.2" r="7.8" fill-opacity="0.200"/>
<circle cx="417.6" cy="300.9" r="7.8" fill-opacity="0.200"/>
<circle cx="417.7" cy="316.5" r="7.8" fill-opacity="0.200"/>
<circle cx="417.6" cy="323.8" r="7.8" fill-opacity="0.200"/>
<circle cx="417.7" cy="321.4" r="7.8" fill-opacity="0.200"/>
<circle cx="417.5" cy="304.4" r="7.8" fill-opacity="0.200"/>
<circle cx="416.9" cy="309.7" r="7.8" fill-opacity="0.200"/>
<circle cx="417.7" cy="297.5" r="7.8" fill-opacity="0.200"/>
<circle cx="417.0" cy="305.1" r="7.8" fill-opacity="0.200"/>
<circle cx="417.1" cy="328.9" r="7.8" fill-opacity="0.200"/>
<circle cx="416.4" cy="307.1" r="7.8" fill-opacity="0.200"/>
<circle cx="417.4" cy="311.1" r="7.8" fill-opacity="0.200"/>
<circle cx="416.6" cy="338.4" r="7.8" fill-opacity="0.200"/>
<circle cx="417.7" cy="340.4" r="7.8" fill-opacity="0.200"/>
<circle cx="417.3" cy="332.4" r="7.8" fill-opacity="0.200"/>
<circle cx="417.9" cy="350.2" r="7.8" fill-opacity="0.200"/>
<circle cx="416.7" cy="334.2" r="7.8" fill-opacity="0.200"/>
<circle cx="416.8" cy="342.1" r="7.8" fill-opacity="0.200"/>
<circle cx="416.6" cy="346.9" r="7.8" fill-opacity="0.200"/>
<circle cx="417.0" cy="334.7" r="7.8" fill-opacity="0.200"/>
<circle cx="417.9" cy="332.9" r="7.8" fill-opacity="0.200"/>
<circle cx="417.0" cy="332.8" r="7.8" fill-opacity="0.200"/>
<circle cx="416.7" cy="348.3" r="7.8" fill-opacity="0.200"/>
<circle cx="417.2" cy="334.0" r="7.8" fill-opacity="0.200"/>
<circle cx="416.4" cy="332.5" r="7.8" fill-opacity="0.200"/>
<circle cx="417.1" cy="351.0" r="7.8" fill-opacity="0.200"/>
<circle cx="417.8" cy="337.0" r="7.8" fill-opacity="0.200"/>
<circle cx="416.4" cy="350.2" r="7.8" fill-opacity="0.200"/>
<circle cx="417.1" cy="335.3" r="7.8" fill-opacity="0.200"/>
<circle cx="416.7" cy="338.4" r="7.8" fill-opacity="0.200"/>
<circle cx="417.0" cy="349.1" r="7.8" fill-opacity="0.200"/>
<circle cx="416.5" cy="350.3" r="7.8" fill-opacity="0.200"/>
<circle cx="417.2" cy="348.1" r="7.8" fill-opacity="0.200"/>
<circle cx="416.8" cy="348.4" r="7.8" fill-opacity="0.200"/>
<circle cx="417.1" cy="157.7" r="7.8" fill-opacity="0.360"/>
<circle cx="417.1" cy="617.2" r="7.8" fill-opacity="0.672"/>
<path d="M504.7,334.0 C506.6,335.3 508.4,337.7 509.4,342.0 C510.4,346.3 510.1,353.7 510.5,360.0 C510.9,366.3 511.1,373.4 511.5,380.0 C511.9,386.6 512.4,393.2 513.1,399.8 C513.8,406.4 514.6,413.0 515.5,419.6 C516.4,426.2 517.2,432.7 518.5,439.3 C519.8,445.9 521.4,452.5 523.0,459.1 C524.6,465.7 526.4,472.3 528.4,478.9 C530.4,485.5 532.9,492.1 534.8,498.7 C536.7,505.3 538.7,513.5 539.8,518.5 C540.9,523.5 541.3,525.1 541.3,528.4 C541.3,531.7 541.0,533.4 539.8,538.3 C538.6,543.2 536.9,551.4 534.3,558.0 C531.7,564.6 526.5,572.8 524.0,577.8 C521.5,582.8 521.1,584.4 519.5,587.7 C517.9,591.0 515.9,594.3 514.6,597.6 C513.3,600.9 512.4,604.2 511.6,607.5 C510.8,610.8 510.2,614.5 509.6,617.4 C509.0,620.3 508.9,622.9 508.2,625.0 C507.5,627.1 507.0,629.2 505.2,630.0 C503.4,630.8 499.0,630.8 497.2,630.0 C495.4,629.2 494.9,627.1 494.2,625.0 C493.5,622.9 493.4,620.3 492.8,617.4 C492.2,614.5 491.6,610.8 490.8,607.5 C490.0,604.2 489.1,600.9 487.8,597.6 C486.5,594.3 484.5,591.0 482.9,587.7 C481.3,584.4 480.9,582.8 478.4,577.8 C475.9,572.8 470.7,564.6 468.1,558.0 C465.5,551.4 463.8,543.2 462.6,538.3 C461.4,533.4 461.1,531.7 461.1,528.4 C461.1,525.1 461.5,523.5 462.6,518.5 C463.7,513.5 465.7,505.3 467.6,498.7 C469.5,492.1 472.0,485.5 474.0,478.9 C476.0,472.3 477.8,465.7 479.4,459.1 C481.0,452.5 482.6,445.9 483.9,439.3 C485.1,432.7 486.0,426.2 486.9,419.6 C487.8,413.0 488.6,406.4 489.3,399.8 C490.0,393.2 490.5,386.6 490.9,380.0 C491.3,373.4 491.5,366.3 491.9,360.0 C492.2,353.7 492.0,346.3 493.0,342.0 C494.0,337.7 495.8,335.3 497.7,334.0 C499.6,332.7 502.8,332.7 504.7,334.0Z" fill="#080808" filter="url(#b1)"/>
<circle cx="500.5" cy="144.9" r="7.8" fill-opacity="0.200"/>
<circle cx="501.0" cy="170.2" r="7.8" fill-opacity="0.200"/>
<circle cx="501.7" cy="161.6" r="7.8" fill-opacity="0.200"/>
<circle cx="500.8" cy="166.7" r="7.8" fill-opacity="0.200"/>
<circle cx="501.1" cy="161.3" r="7.8" fill-opacity="0.200"/>
<circle cx="501.9" cy="164.3" r="7.8" fill-opacity="0.200"/>
<circle cx="501.1" cy="168.6" r="7.8" fill-opacity="0.200"/>
<circle cx="501.3" cy="169.1" r="7.8" fill-opacity="0.200"/>
<circle cx="501.2" cy="177.4" r="7.8" fill-opacity="0.200"/>
<circle cx="501.8" cy="178.7" r="7.8" fill-opacity="0.200"/>
<circle cx="500.9" cy="177.9" r="7.8" fill-opacity="0.200"/>
<circle cx="501.7" cy="175.8" r="7.8" fill-opacity="0.200"/>
<circle cx="501.5" cy="187.5" r="7.8" fill-opacity="0.200"/>
<circle cx="501.9" cy="189.9" r="7.8" fill-opacity="0.200"/>
<circle cx="501.0" cy="187.9" r="7.8" fill-opacity="0.200"/>
<circle cx="501.9" cy="185.0" r="7.8" fill-opacity="0.200"/>
<circle cx="501.5" cy="188.7" r="7.8" fill-opacity="0.200"/>
<circle cx="501.5" cy="185.1" r="7.8" fill-opacity="0.200"/>
<circle cx="501.3" cy="189.6" r="7.8" fill-opacity="0.200"/>
<circle cx="501.5" cy="184.2" r="7.8" fill-opacity="0.200"/>
<circle cx="501.5" cy="195.0" r="7.8" fill-opacity="0.200"/>
<circle cx="501.4" cy="196.6" r="7.8" fill-opacity="0.200"/>
<circle cx="501.8" cy="194.0" r="7.8" fill-opacity="0.200"/>
<circle cx="501.4" cy="200.4" r="7.8" fill-opacity="0.200"/>
<circle cx="501.7" cy="199.2" r="7.8" fill-opacity="0.200"/>
<circle cx="501.0" cy="212.1" r="7.8" fill-opacity="0.200"/>
<circle cx="501.4" cy="203.7" r="7.8" fill-opacity="0.200"/>
<circle cx="500.5" cy="207.8" r="7.8" fill-opacity="0.200"/>
<circle cx="501.7" cy="207.2" r="7.8" fill-opacity="0.200"/>
<circle cx="500.6" cy="208.6" r="7.8" fill-opacity="0.200"/>
<circle cx="501.7" cy="211.2" r="7.8" fill-opacity="0.200"/>
<circle cx="501.6" cy="204.4" r="7.8" fill-opacity="0.200"/>
<circle cx="500.9" cy="206.8" r="7.8" fill-opacity="0.200"/>
<circle cx="501.8" cy="203.2" r="7.8" fill-opacity="0.200"/>
<circle cx="500.9" cy="233.9" r="7.8" fill-opacity="0.200"/>
<circle cx="501.0" cy="234.6" r="7.8" fill-opacity="0.200"/>
<circle cx="501.3" cy="229.2" r="7.8" fill-opacity="0.200"/>
<circle cx="501.7" cy="235.8" r="7.8" fill-opacity="0.200"/>
<circle cx="501.8" cy="220.6" r="7.8" fill-opacity="0.200"/>
<circle cx="500.5" cy="231.8" r="7.8" fill-opacity="0.200"/>
<circle cx="500.8" cy="223.1" r="7.8" fill-opacity="0.200"/>
<circle cx="501.4" cy="228.8" r="7.8" fill-opacity="0.200"/>
<circle cx="501.1" cy="217.9" r="7.8" fill-opacity="0.200"/>
<circle cx="501.2" cy="226.1" r="7.8" fill-opacity="0.200"/>
<circle cx="501.8" cy="232.5" r="7.8" fill-opacity="0.200"/>
<circle cx="501.3" cy="228.8" r="7.8" fill-opacity="0.200"/>
<circle cx="501.4" cy="216.5" r="7.8" fill-opacity="0.200"/>
<circle cx="501.3" cy="224.7" r="7.8" fill-opacity="0.200"/>
<circle cx="501.8" cy="228.0" r="7.8" fill-opacity="0.200"/>
<circle cx="501.6" cy="237.6" r="7.8" fill-opacity="0.200"/>
<circle cx="500.6" cy="219.1" r="7.8" fill-opacity="0.200"/>
<circle cx="500.4" cy="225.3" r="7.8" fill-opacity="0.200"/>
<circle cx="500.5" cy="220.2" r="7.8" fill-opacity="0.200"/>
<circle cx="500.5" cy="246.8" r="7.8" fill-opacity="0.200"/>
<circle cx="501.3" cy="246.3" r="7.8" fill-opacity="0.200"/>
<circle cx="501.2" cy="247.8" r="7.8" fill-opacity="0.200"/>
<circle cx="500.5" cy="284.1" r="7.8" fill-opacity="0.200"/>
<circle cx="501.2" cy="271.0" r="7.8" fill-opacity="0.200"/>
<circle cx="501.9" cy="290.5" r="7.8" fill-opacity="0.200"/>
<circle cx="501.3" cy="261.1" r="7.8" fill-opacity="0.200"/>
<circle cx="501.9" cy="265.4" r="7.8" fill-opacity="0.200"/>
<circle cx="501.7" cy="265.3" r="7.8" fill-opacity="0.200"/>
<circle cx="501.6" cy="290.8" r="7.8" fill-opacity="0.200"/>
<circle cx="501.0" cy="272.4" r="7.8" fill-opacity="0.200"/>
<circle cx="500.5" cy="263.3" r="7.8" fill-opacity="0.200"/>
<circle cx="501.5" cy="290.2" r="7.8" fill-opacity="0.200"/>
<circle cx="501.9" cy="260.2" r="7.8" fill-opacity="0.200"/>
<circle cx="502.0" cy="269.2" r="7.8" fill-opacity="0.200"/>
<circle cx="501.7" cy="261.4" r="7.8" fill-opacity="0.200"/>
<circle cx="500.8" cy="282.2" r="7.8" fill-opacity="0.200"/>
<circle cx="501.4" cy="273.3" r="7.8" fill-opacity="0.200"/>
<circle cx="500.9" cy="273.5" r="7.8" fill-opacity="0.200"/>
<circle cx="501.3" cy="255.8" r="7.8" fill-opacity="0.200"/>
<circle cx="501.6" cy="261.7" r="7.8" fill-opacity="0.200"/>
<circle cx="501.1" cy="271.0" r="7.8" fill-opacity="0.200"/>
<circle cx="501.9" cy="268.5" r="7.8" fill-opacity="0.200"/>
<circle cx="501.8" cy="262.6" r="7.8" fill-opacity="0.200"/>
<circle cx="501.6" cy="259.8" r="7.8" fill-opacity="0.200"/>
<circle cx="500.5" cy="266.5" r="7.8" fill-opacity="0.200"/>
<circle cx="500.4" cy="275.1" r="7.8" fill-opacity="0.200"/>
<circle cx="501.6" cy="270.9" r="7.8" fill-opacity="0.200"/>
<circle cx="501.3" cy="285.7" r="7.8" fill-opacity="0.200"/>
<circle cx="501.3" cy="296.0" r="7.8" fill-opacity="0.200"/>
<circle cx="501.3" cy="301.9" r="7.8" fill-opacity="0.200"/>
<circle cx="501.5" cy="296.7" r="7.8" fill-opacity="0.200"/>
<circle cx="501.4" cy="303.1" r="7.8" fill-opacity="0.200"/>
<circle cx="500.5" cy="311.7" r="7.8" fill-opacity="0.200"/>
<circle cx="501.6" cy="309.6" r="7.8" fill-opacity="0.200"/>
<circle cx="500.9" cy="313.2" r="7.8" fill-opacity="0.200"/>
<circle cx="501.6" cy="316.9" r="7.8" fill-opacity="0.200"/>
<circle cx="501.4" cy="314.9" r="7.8" fill-opacity="0.200"/>
<circle cx="500.9" cy="316.5" r="7.8" fill-opacity="0.200"/>
<circle cx="500.5" cy="315.8" r="7.8" fill-opacity="0.200"/>
<circle cx="501.9" cy="309.6" r="7.8" fill-opacity="0.200"/>
<circle cx="501.0" cy="310.7" r="7.8" fill-opacity="0.200"/>
<circle cx="501.5" cy="317.5" r="7.8" fill-opacity="0.200"/>
<circle cx="501.9" cy="327.2" r="7.8" fill-opacity="0.200"/>
<circle cx="501.1" cy="330.6" r="7.8" fill-opacity="0.200"/>
<circle cx="500.7" cy="322.8" r="7.8" fill-opacity="0.200"/>
<circle cx="501.3" cy="327.1" r="7.8" fill-opacity="0.200"/>
<circle cx="501.7" cy="331.0" r="7.8" fill-opacity="0.200"/>
<circle cx="500.7" cy="328.8" r="7.8" fill-opacity="0.200"/>
<circle cx="501.6" cy="320.1" r="7.8" fill-opacity="0.200"/>
<circle cx="501.7" cy="326.2" r="7.8" fill-opacity="0.200"/>
<circle cx="501.6" cy="340.4" r="7.8" fill-opacity="0.200"/>
<circle cx="501.2" cy="346.0" r="7.8" fill-opacity="0.200"/>
<circle cx="501.9" cy="343.1" r="7.8" fill-opacity="0.200"/>
<circle cx="500.4" cy="337.0" r="7.8" fill-opacity="0.200"/>
<circle cx="501.1" cy="341.4" r="7.8" fill-opacity="0.200"/>
<circle cx="501.3" cy="344.1" r="7.8" fill-opacity="0.200"/>
<circle cx="501.3" cy="347.3" r="7.8" fill-opacity="0.200"/>
<circle cx="500.8" cy="346.2" r="7.8" fill-opacity="0.200"/>
<circle cx="501.0" cy="336.2" r="7.8" fill-opacity="0.200"/>
<circle cx="500.6" cy="347.4" r="7.8" fill-opacity="0.200"/>
<circle cx="501.1" cy="335.5" r="7.8" fill-opacity="0.200"/>
<circle cx="501.0" cy="341.3" r="7.8" fill-opacity="0.200"/>
<circle cx="501.3" cy="341.3" r="7.8" fill-opacity="0.200"/>
<circle cx="501.7" cy="335.8" r="7.8" fill-opacity="0.200"/>
<circle cx="501.1" cy="345.1" r="7.8" fill-opacity="0.200"/>
<circle cx="501.7" cy="336.8" r="7.8" fill-opacity="0.200"/>
<circle cx="500.9" cy="641.5" r="7.8" fill-opacity="0.200"/>
<circle cx="501.2" cy="639.7" r="7.8" fill-opacity="0.200"/>
<circle cx="501.1" cy="636.7" r="7.8" fill-opacity="0.200"/>
<circle cx="500.7" cy="637.1" r="7.8" fill-opacity="0.200"/>
<circle cx="501.7" cy="632.6" r="7.8" fill-opacity="0.200"/>
<circle cx="500.5" cy="640.6" r="7.8" fill-opacity="0.200"/>
<circle cx="501.5" cy="625.1" r="7.8" fill-opacity="0.200"/>
<circle cx="500.5" cy="633.3" r="7.8" fill-opacity="0.200"/>
<circle cx="501.5" cy="636.4" r="7.8" fill-opacity="0.200"/>
<circle cx="500.6" cy="648.9" r="7.8" fill-opacity="0.200"/>
<circle cx="501.2" cy="134.5" r="7.8" fill-opacity="0.200"/>
<circle cx="501.2" cy="143.8" r="7.8" fill-opacity="0.200"/>
<circle cx="501.2" cy="664.0" r="7.8" fill-opacity="0.360"/>
<circle cx="501.2" cy="675.6" r="7.8" fill-opacity="0.360"/>
<circle cx="501.2" cy="681.0" r="7.8" fill-opacity="0.200"/>
<circle cx="501.2" cy="687.2" r="7.8" fill-opacity="0.200"/>
<circle cx="623.4" cy="516.5" r="7.8" fill-opacity="0.200"/>
<circle cx="625.4" cy="517.6" r="7.8" fill-opacity="0.200"/>
<circle cx="621.0" cy="518.7" r="7.8" fill-opacity="0.200"/>
<circle cx="620.1" cy="519.9" r="7.8" fill-opacity="0.200"/>
<circle cx="616.5" cy="520.0" r="7.8" fill-opacity="0.200"/>
<circle cx="622.0" cy="521.8" r="7.8" fill-opacity="0.200"/>
<circle cx="615.4" cy="522.4" r="7.8" fill-opacity="0.200"/>
<circle cx="623.6" cy="522.1" r="7.8" fill-opacity="0.200"/>
<circle cx="618.1" cy="523.9" r="7.8" fill-opacity="0.200"/>
<circle cx="624.5" cy="523.1" r="7.8" fill-opacity="0.200"/>
<circle cx="615.4" cy="524.7" r="7.8" fill-opacity="0.200"/>
<circle cx="623.9" cy="524.6" r="7.8" fill-opacity="0.200"/>
<circle cx="620.2" cy="525.2" r="7.8" fill-opacity="0.200"/>
<circle cx="625.8" cy="526.0" r="7.8" fill-opacity="0.200"/>
<circle cx="617.8" cy="526.9" r="7.8" fill-opacity="0.200"/>
<circle cx="625.6" cy="526.7" r="7.8" fill-opacity="0.200"/>
<circle cx="621.0" cy="527.9" r="7.8" fill-opacity="0.200"/>
<circle cx="622.5" cy="527.7" r="7.8" fill-opacity="0.200"/>
<circle cx="617.3" cy="528.6" r="7.8" fill-opacity="0.200"/>
<circle cx="623.1" cy="528.4" r="7.8" fill-opacity="0.200"/>
<circle cx="617.9" cy="529.5" r="7.8" fill-opacity="0.200"/>
<circle cx="622.3" cy="529.4" r="7.8" fill-opacity="0.200"/>
<circle cx="630.3" cy="529.3" r="7.8" fill-opacity="0.200"/>
<circle cx="619.2" cy="530.8" r="7.8" fill-opacity="0.200"/>
<circle cx="628.1" cy="530.1" r="7.8" fill-opacity="0.200"/>
<circle cx="616.5" cy="531.5" r="7.8" fill-opacity="0.200"/>
<circle cx="627.6" cy="531.8" r="7.8" fill-opacity="0.200"/>
<circle cx="621.0" cy="532.6" r="7.8" fill-opacity="0.200"/>
<circle cx="627.5" cy="533.0" r="7.8" fill-opacity="0.200"/>
<circle cx="619.6" cy="533.2" r="7.8" fill-opacity="0.200"/>
<circle cx="627.8" cy="533.3" r="7.8" fill-opacity="0.200"/>
<circle cx="617.8" cy="534.1" r="7.8" fill-opacity="0.200"/>
<circle cx="629.6" cy="534.6" r="7.8" fill-opacity="0.200"/>
<circle cx="614.3" cy="535.7" r="7.8" fill-opacity="0.200"/>
<circle cx="619.5" cy="535.1" r="7.8" fill-opacity="0.200"/>
<circle cx="628.7" cy="535.2" r="7.8" fill-opacity="0.200"/>
<circle cx="620.6" cy="536.9" r="7.8" fill-opacity="0.200"/>
<circle cx="631.7" cy="536.4" r="7.8" fill-opacity="0.200"/>
<circle cx="612.4" cy="537.5" r="7.8" fill-opacity="0.200"/>
<circle cx="624.4" cy="537.4" r="7.8" fill-opacity="0.200"/>
<circle cx="612.8" cy="538.4" r="7.8" fill-opacity="0.200"/>
<circle cx="626.0" cy="538.5" r="7.8" fill-opacity="0.200"/>
<circle cx="613.4" cy="539.9" r="7.8" fill-opacity="0.200"/>
<circle cx="617.9" cy="539.7" r="7.8" fill-opacity="0.200"/>
<circle cx="627.8" cy="540.0" r="7.8" fill-opacity="0.200"/>
<circle cx="611.5" cy="540.5" r="7.8" fill-opacity="0.200"/>
<circle cx="623.5" cy="540.3" r="7.8" fill-opacity="0.200"/>
<circle cx="614.8" cy="541.5" r="7.8" fill-opacity="0.200"/>
<circle cx="619.7" cy="541.9" r="7.8" fill-opacity="0.200"/>
<circle cx="629.4" cy="541.9" r="7.8" fill-opacity="0.200"/>
<circle cx="611.9" cy="542.3" r="7.8" fill-opacity="0.200"/>
<circle cx="626.5" cy="542.7" r="7.8" fill-opacity="0.200"/>
<circle cx="628.1" cy="542.4" r="7.8" fill-opacity="0.200"/>
<circle cx="613.2" cy="543.8" r="7.8" fill-opacity="0.200"/>
<circle cx="620.4" cy="543.9" r="7.8" fill-opacity="0.200"/>
<circle cx="633.3" cy="543.3" r="7.8" fill-opacity="0.200"/>
<circle cx="616.9" cy="544.2" r="7.8" fill-opacity="0.200"/>
<circle cx="635.1" cy="544.3" r="7.8" fill-opacity="0.200"/>
<circle cx="615.6" cy="545.1" r="7.8" fill-opacity="0.200"/>
<circle cx="617.0" cy="545.6" r="7.8" fill-opacity="0.200"/>
<circle cx="634.8" cy="545.1" r="7.8" fill-opacity="0.200"/>
<circle cx="611.7" cy="546.2" r="7.8" fill-opacity="0.200"/>
<circle cx="622.2" cy="546.6" r="7.8" fill-opacity="0.200"/>
<circle cx="631.2" cy="546.5" r="7.8" fill-opacity="0.200"/>
<circle cx="613.2" cy="547.6" r="7.8" fill-opacity="0.200"/>
<circle cx="622.1" cy="548.0" r="7.8" fill-opacity="0.200"/>
<circle cx="630.4" cy="547.2" r="7.8" fill-opacity="0.200"/>
<circle cx="611.8" cy="548.7" r="7.8" fill-opacity="0.200"/>
<circle cx="615.0" cy="548.8" r="7.8" fill-opacity="0.200"/>
<circle cx="624.1" cy="548.4" r="7.8" fill-opacity="0.200"/>
<circle cx="637.1" cy="548.9" r="7.8" fill-opacity="0.200"/>
<circle cx="606.9" cy="549.1" r="7.8" fill-opacity="0.200"/>
<circle cx="626.2" cy="549.3" r="7.8" fill-opacity="0.200"/>
<circle cx="638.4" cy="549.9" r="7.8" fill-opacity="0.200"/>
<circle cx="613.2" cy="550.4" r="7.8" fill-opacity="0.200"/>
<circle cx="622.9" cy="550.1" r="7.8" fill-opacity="0.200"/>
<circle cx="636.4" cy="550.4" r="7.8" fill-opacity="0.200"/>
<circle cx="611.3" cy="551.4" r="7.8" fill-opacity="0.200"/>
<circle cx="624.1" cy="551.4" r="7.8" fill-opacity="0.200"/>
<circle cx="631.2" cy="551.8" r="7.8" fill-opacity="0.200"/>
<circle cx="604.5" cy="552.4" r="7.8" fill-opacity="0.200"/>
<circle cx="620.9" cy="552.8" r="7.8" fill-opacity="0.200"/>
<circle cx="622.0" cy="552.8" r="7.8" fill-opacity="0.200"/>
<circle cx="634.7" cy="552.5" r="7.8" fill-opacity="0.200"/>
<circle cx="615.1" cy="553.6" r="7.8" fill-opacity="0.200"/>
<circle cx="627.7" cy="553.8" r="7.8" fill-opacity="0.200"/>
<circle cx="629.5" cy="553.4" r="7.8" fill-opacity="0.200"/>
<circle cx="614.3" cy="554.7" r="7.8" fill-opacity="0.200"/>
<circle cx="627.5" cy="554.2" r="7.8" fill-opacity="0.200"/>
<circle cx="639.4" cy="555.0" r="7.8" fill-opacity="0.200"/>
<circle cx="611.3" cy="555.7" r="7.8" fill-opacity="0.200"/>
<circle cx="614.1" cy="555.5" r="7.8" fill-opacity="0.200"/>
<circle cx="623.8" cy="555.6" r="7.8" fill-opacity="0.200"/>
<circle cx="641.1" cy="555.3" r="7.8" fill-opacity="0.200"/>
<circle cx="601.8" cy="557.0" r="7.8" fill-opacity="0.200"/>
<circle cx="621.0" cy="556.1" r="7.8" fill-opacity="0.200"/>
<circle cx="622.1" cy="556.8" r="7.8" fill-opacity="0.200"/>
<circle cx="635.9" cy="556.1" r="7.8" fill-opacity="0.200"/>
<circle cx="600.9" cy="557.7" r="7.8" fill-opacity="0.200"/>
<circle cx="621.7" cy="557.1" r="7.8" fill-opacity="0.200"/>
<circle cx="631.8" cy="557.7" r="7.8" fill-opacity="0.200"/>
<circle cx="605.3" cy="558.9" r="7.8" fill-opacity="0.200"/>
<circle cx="617.1" cy="559.0" r="7.8" fill-opacity="0.200"/>
<circle cx="621.9" cy="558.0" r="7.8" fill-opacity="0.200"/>
<circle cx="640.9" cy="558.9" r="7.8" fill-opacity="0.200"/>
<circle cx="600.2" cy="559.8" r="7.8" fill-opacity="0.200"/>
<circle cx="610.4" cy="559.6" r="7.8" fill-opacity="0.200"/>
<circle cx="621.6" cy="559.7" r="7.8" fill-opacity="0.200"/>
<circle cx="631.9" cy="559.4" r="7.8" fill-opacity="0.200"/>
<circle cx="643.8" cy="559.5" r="7.8" fill-opacity="0.200"/>
<circle cx="605.5" cy="560.3" r="7.8" fill-opacity="0.200"/>
<circle cx="618.0" cy="560.4" r="7.8" fill-opacity="0.200"/>
<circle cx="632.8" cy="560.6" r="7.8" fill-opacity="0.200"/>
<circle cx="635.8" cy="560.9" r="7.8" fill-opacity="0.200"/>
<circle cx="593.7" cy="561.3" r="7.8" fill-opacity="0.200"/>
<circle cx="620.9" cy="561.7" r="7.8" fill-opacity="0.200"/>
<circle cx="626.7" cy="561.2" r="7.8" fill-opacity="0.200"/>
<circle cx="636.8" cy="561.5" r="7.8" fill-opacity="0.200"/>
<circle cx="596.5" cy="562.2" r="7.8" fill-opacity="0.200"/>
<circle cx="612.1" cy="562.7" r="7.8" fill-opacity="0.200"/>
<circle cx="621.7" cy="562.9" r="7.8" fill-opacity="0.200"/>
<circle cx="635.4" cy="562.5" r="7.8" fill-opacity="0.200"/>
<circle cx="647.3" cy="562.7" r="7.8" fill-opacity="0.200"/>
<circle cx="602.4" cy="563.0" r="7.8" fill-opacity="0.200"/>
<circle cx="614.1" cy="563.8" r="7.8" fill-opacity="0.200"/>
<circle cx="627.0" cy="563.2" r="7.8" fill-opacity="0.200"/>
<circle cx="628.6" cy="564.0" r="7.8" fill-opacity="0.200"/>
<circle cx="651.3" cy="563.3" r="7.8" fill-opacity="0.200"/>
<circle cx="601.6" cy="564.3" r="7.8" fill-opacity="0.200"/>
<circle cx="604.2" cy="564.8" r="7.8" fill-opacity="0.200"/>
<circle cx="625.6" cy="564.3" r="7.8" fill-opacity="0.200"/>
<circle cx="632.4" cy="564.7" r="7.8" fill-opacity="0.200"/>
<circle cx="651.5" cy="564.3" r="7.8" fill-opacity="0.200"/>
<circle cx="591.6" cy="566.0" r="7.8" fill-opacity="0.200"/>
<circle cx="604.6" cy="565.4" r="7.8" fill-opacity="0.200"/>
<circle cx="623.3" cy="565.0" r="7.8" fill-opacity="0.200"/>
<circle cx="636.3" cy="565.4" r="7.8" fill-opacity="0.200"/>
<circle cx="649.3" cy="565.9" r="7.8" fill-opacity="0.200"/>
<circle cx="589.5" cy="566.0" r="7.8" fill-opacity="0.200"/>
<circle cx="606.3" cy="566.9" r="7.8" fill-opacity="0.200"/>
<circle cx="619.9" cy="566.2" r="7.8" fill-opacity="0.200"/>
<circle cx="634.0" cy="566.2" r="7.8" fill-opacity="0.200"/>
<circle cx="641.7" cy="566.7" r="7.8" fill-opacity="0.200"/>
<circle cx="591.9" cy="567.3" r="7.8" fill-opacity="0.200"/>
<circle cx="604.9" cy="567.7" r="7.8" fill-opacity="0.200"/>
<circle cx="628.2" cy="567.8" r="7.8" fill-opacity="0.200"/>
<circle cx="632.5" cy="567.7" r="7.8" fill-opacity="0.200"/>
<circle cx="652.4" cy="567.6" r="7.8" fill-opacity="0.200"/>
<circle cx="594.0" cy="568.7" r="7.8" fill-opacity="0.200"/>
<circle cx="614.8" cy="568.5" r="7.8" fill-opacity="0.200"/>
<circle cx="628.1" cy="568.0" r="7.8" fill-opacity="0.200"/>
<circle cx="644.1" cy="569.0" r="7.8" fill-opacity="0.200"/>
<circle cx="603.2" cy="569.3" r="7.8" fill-opacity="0.200"/>
<circle cx="613.9" cy="569.9" r="7.8" fill-opacity="0.200"/>
<circle cx="616.7" cy="569.3" r="7.8" fill-opacity="0.200"/>
<circle cx="631.2" cy="569.3" r="7.8" fill-opacity="0.200"/>
<circle cx="640.9" cy="569.6" r="7.8" fill-opacity="0.200"/>
<circle cx="598.0" cy="570.1" r="7.8" fill-opacity="0.200"/>
<circle cx="608.0" cy="570.8" r="7.8" fill-opacity="0.200"/>
<circle cx="623.4" cy="570.6" r="7.8" fill-opacity="0.200"/>
<circle cx="632.3" cy="570.0" r="7.8" fill-opacity="0.200"/>
<circle cx="640.2" cy="570.8" r="7.8" fill-opacity="0.200"/>
<circle cx="606.1" cy="571.7" r="7.8" fill-opacity="0.200"/>
<circle cx="620.5" cy="571.9" r="7.8" fill-opacity="0.200"/>
<circle cx="623.1" cy="572.0" r="7.8" fill-opacity="0.200"/>
<circle cx="637.8" cy="571.8" r="7.8" fill-opacity="0.200"/>
<circle cx="597.2" cy="572.8" r="7.8" fill-opacity="0.200"/>
<circle cx="610.0" cy="572.7" r="7.8" fill-opacity="0.200"/>
<circle cx="622.1" cy="572.6" r="7.8" fill-opacity="0.200"/>
<circle cx="636.3" cy="572.4" r="7.8" fill-opacity="0.200"/>
<circle cx="601.5" cy="573.4" r="7.8" fill-opacity="0.200"/>
<circle cx="616.9" cy="574.0" r="7.8" fill-opacity="0.200"/>
<circle cx="627.3" cy="573.5" r="7.8" fill-opacity="0.200"/>
<circle cx="640.8" cy="573.8" r="7.8" fill-opacity="0.200"/>
<circle cx="609.5" cy="574.1" r="7.8" fill-opacity="0.200"/>
<circle cx="621.6" cy="574.9" r="7.8" fill-opacity="0.200"/>
<circle cx="637.4" cy="574.5" r="7.8" fill-opacity="0.200"/>
<circle cx="603.5" cy="575.6" r="7.8" fill-opacity="0.200"/>
<circle cx="618.0" cy="575.1" r="7.8" fill-opacity="0.200"/>
<circle cx="626.1" cy="575.6" r="7.8" fill-opacity="0.200"/>
<circle cx="632.1" cy="575.4" r="7.8" fill-opacity="0.200"/>
<circle cx="612.8" cy="576.2" r="7.8" fill-opacity="0.200"/>
<circle cx="619.3" cy="576.6" r="7.8" fill-opacity="0.200"/>
<circle cx="634.0" cy="576.7" r="7.8" fill-opacity="0.200"/>
<circle cx="607.2" cy="577.9" r="7.8" fill-opacity="0.200"/>
<circle cx="617.9" cy="577.0" r="7.8" fill-opacity="0.200"/>
<circle cx="636.9" cy="577.1" r="7.8" fill-opacity="0.200"/>
<circle cx="610.4" cy="578.5" r="7.8" fill-opacity="0.200"/>
<circle cx="624.0" cy="578.9" r="7.8" fill-opacity="0.200"/>
<circle cx="631.3" cy="578.5" r="7.8" fill-opacity="0.200"/>
<circle cx="620.2" cy="579.1" r="7.8" fill-opacity="0.200"/>
<circle cx="631.8" cy="579.3" r="7.8" fill-opacity="0.200"/>
<circle cx="613.8" cy="580.8" r="7.8" fill-opacity="0.200"/>
<circle cx="624.6" cy="580.3" r="7.8" fill-opacity="0.200"/>
<circle cx="615.6" cy="581.3" r="7.8" fill-opacity="0.200"/>
<circle cx="621.2" cy="581.2" r="7.8" fill-opacity="0.200"/>
<circle cx="630.5" cy="581.3" r="7.8" fill-opacity="0.200"/>
<circle cx="615.4" cy="582.5" r="7.8" fill-opacity="0.200"/>
<circle cx="625.0" cy="582.3" r="7.8" fill-opacity="0.200"/>
<circle cx="622.1" cy="583.8" r="7.8" fill-opacity="0.200"/>
<circle cx="621.3" cy="584.8" r="7.8" fill-opacity="0.200"/>
<circle cx="624.1" cy="584.9" r="7.8" fill-opacity="0.200"/>
<circle cx="621.2" cy="585.6" r="7.8" fill-opacity="0.200"/>
<circle cx="625.6" cy="585.8" r="7.8" fill-opacity="0.200"/>
<circle cx="619.2" cy="586.9" r="7.8" fill-opacity="0.200"/>
<circle cx="621.8" cy="511.6" r="7.8" fill-opacity="0.200"/>
<circle cx="621.9" cy="507.0" r="7.8" fill-opacity="0.200"/>
<circle cx="622.3" cy="510.1" r="7.8" fill-opacity="0.200"/>
<circle cx="621.5" cy="501.9" r="7.8" fill-opacity="0.200"/>
<circle cx="622.2" cy="510.2" r="7.8" fill-opacity="0.200"/>
<circle cx="622.4" cy="500.6" r="7.8" fill-opacity="0.200"/>
<circle cx="621.7" cy="497.5" r="7.8" fill-opacity="0.200"/>
<circle cx="622.0" cy="504.2" r="7.8" fill-opacity="0.200"/>
<circle cx="621.9" cy="366.2" r="7.8" fill-opacity="0.200"/>
<circle cx="621.9" cy="412.7" r="7.8" fill-opacity="0.360"/>
<circle cx="621.9" cy="441.0" r="7.8" fill-opacity="0.200"/>
<circle cx="621.9" cy="477.7" r="7.8" fill-opacity="0.200"/>
<circle cx="621.9" cy="485.3" r="7.8" fill-opacity="0.360"/>
<circle cx="621.9" cy="600.2" r="7.8" fill-opacity="0.488"/>
<circle cx="621.9" cy="608.7" r="7.8" fill-opacity="0.200"/>
<path d="M793.9,385.0 C795.9,386.2 797.2,389.4 798.1,392.0 C799.0,394.6 799.1,395.7 799.1,400.5 C799.1,405.3 797.9,414.1 798.1,421.0 C798.3,427.9 799.4,434.8 800.2,441.6 C801.0,448.5 801.8,456.6 802.7,462.1 C803.6,467.6 803.5,471.7 805.8,474.4 C808.1,477.1 814.0,476.4 816.6,478.5 C819.2,480.6 820.8,482.6 821.7,486.7 C822.6,490.8 821.5,498.7 822.2,503.1 C822.9,507.6 824.4,509.6 825.8,513.4 C827.2,517.2 830.6,522.0 830.4,525.7 C830.1,529.5 825.8,531.1 824.3,535.9 C822.8,540.7 822.4,549.7 821.2,554.4 C820.0,559.1 818.5,560.6 816.9,564.0 C815.3,567.4 813.3,571.4 811.4,574.9 C809.5,578.4 807.0,581.9 805.3,585.2 C803.6,588.6 802.3,591.6 801.4,595.0 C800.5,598.4 800.1,600.5 799.6,605.7 C799.1,610.9 798.9,621.8 798.1,626.2 C797.3,630.6 797.1,631.0 794.9,632.0 C792.7,633.0 787.1,633.0 784.9,632.0 C782.7,631.0 782.5,630.6 781.7,626.2 C780.9,621.8 780.7,610.9 780.2,605.7 C779.6,600.5 779.3,598.4 778.4,595.0 C777.5,591.6 776.2,588.6 774.5,585.2 C772.8,581.9 770.3,578.4 768.4,574.9 C766.5,571.4 764.5,567.4 762.9,564.0 C761.3,560.6 759.8,559.1 758.6,554.4 C757.4,549.7 757.0,540.7 755.5,535.9 C754.0,531.1 749.6,529.5 749.4,525.7 C749.1,522.0 752.6,517.2 754.0,513.4 C755.4,509.6 756.9,507.6 757.6,503.1 C758.3,498.7 757.2,490.8 758.1,486.7 C759.0,482.6 760.5,480.6 763.2,478.5 C765.8,476.4 771.7,477.1 774.0,474.4 C776.3,471.7 776.2,467.6 777.1,462.1 C778.0,456.6 778.8,448.5 779.6,441.6 C780.4,434.8 781.5,427.9 781.7,421.0 C781.9,414.1 780.7,405.3 780.7,400.5 C780.7,395.7 780.8,394.6 781.7,392.0 C782.6,389.4 783.9,386.2 785.9,385.0 C787.9,383.8 791.9,383.8 793.9,385.0Z" fill="#080808" filter="url(#b1)"/>
<circle cx="789.9" cy="351.8" r="7.8" fill-opacity="0.200"/>
<circle cx="790.0" cy="342.3" r="7.8" fill-opacity="0.200"/>
<circle cx="790.2" cy="341.8" r="7.8" fill-opacity="0.200"/>
<circle cx="789.6" cy="338.4" r="7.8" fill-opacity="0.200"/>
<circle cx="790.3" cy="345.5" r="7.8" fill-opacity="0.200"/>
<circle cx="789.2" cy="353.0" r="7.8" fill-opacity="0.200"/>
<circle cx="789.8" cy="354.1" r="7.8" fill-opacity="0.200"/>
<circle cx="790.2" cy="356.2" r="7.8" fill-opacity="0.200"/>
<circle cx="789.6" cy="366.9" r="7.8" fill-opacity="0.200"/>
<circle cx="790.5" cy="387.6" r="7.8" fill-opacity="0.200"/>
<circle cx="790.3" cy="376.7" r="7.8" fill-opacity="0.200"/>
<circle cx="789.6" cy="375.5" r="7.8" fill-opacity="0.200"/>
<circle cx="790.2" cy="361.8" r="7.8" fill-opacity="0.200"/>
<circle cx="789.8" cy="392.9" r="7.8" fill-opacity="0.200"/>
<circle cx="790.3" cy="393.4" r="7.8" fill-opacity="0.200"/>
<circle cx="789.9" cy="372.3" r="7.8" fill-opacity="0.200"/>
<circle cx="790.6" cy="382.8" r="7.8" fill-opacity="0.200"/>
<circle cx="789.2" cy="381.7" r="7.8" fill-opacity="0.200"/>
<circle cx="789.2" cy="369.0" r="7.8" fill-opacity="0.200"/>
<circle cx="789.3" cy="385.9" r="7.8" fill-opacity="0.200"/>
<circle cx="789.3" cy="385.1" r="7.8" fill-opacity="0.200"/>
<circle cx="789.3" cy="379.5" r="7.8" fill-opacity="0.200"/>
<circle cx="789.3" cy="367.1" r="7.8" fill-opacity="0.200"/>
<circle cx="790.6" cy="366.3" r="7.8" fill-opacity="0.200"/>
<circle cx="789.3" cy="384.5" r="7.8" fill-opacity="0.200"/>
<circle cx="790.4" cy="380.5" r="7.8" fill-opacity="0.200"/>
<circle cx="790.2" cy="393.4" r="7.8" fill-opacity="0.200"/>
<circle cx="790.0" cy="369.6" r="7.8" fill-opacity="0.200"/>
<circle cx="790.4" cy="363.5" r="7.8" fill-opacity="0.200"/>
<circle cx="790.2" cy="373.6" r="7.8" fill-opacity="0.200"/>
<circle cx="789.3" cy="374.1" r="7.8" fill-opacity="0.200"/>
<circle cx="789.9" cy="366.8" r="7.8" fill-opacity="0.200"/>
<circle cx="790.6" cy="396.8" r="7.8" fill-opacity="0.200"/>
<circle cx="789.6" cy="409.5" r="7.8" fill-opacity="0.200"/>
<circle cx="790.6" cy="403.5" r="7.8" fill-opacity="0.200"/>
<circle cx="789.9" cy="399.2" r="7.8" fill-opacity="0.200"/>
<circle cx="790.4" cy="400.2" r="7.8" fill-opacity="0.200"/>
<circle cx="790.7" cy="399.3" r="7.8" fill-opacity="0.200"/>
<circle cx="789.7" cy="400.4" r="7.8" fill-opacity="0.200"/>
<circle cx="790.0" cy="408.7" r="7.8" fill-opacity="0.200"/>
<circle cx="789.5" cy="396.4" r="7.8" fill-opacity="0.200"/>
<circle cx="790.7" cy="402.8" r="7.8" fill-opacity="0.200"/>
<circle cx="790.3" cy="404.2" r="7.8" fill-opacity="0.200"/>
<circle cx="790.5" cy="398.4" r="7.8" fill-opacity="0.200"/>
<circle cx="790.2" cy="399.3" r="7.8" fill-opacity="0.200"/>
<circle cx="789.4" cy="399.8" r="7.8" fill-opacity="0.200"/>
<circle cx="789.6" cy="396.8" r="7.8" fill-opacity="0.200"/>
<circle cx="789.5" cy="402.2" r="7.8" fill-opacity="0.200"/>
<circle cx="790.1" cy="394.3" r="7.8" fill-opacity="0.200"/>
<circle cx="790.5" cy="406.9" r="7.8" fill-opacity="0.200"/>
<circle cx="789.9" cy="395.5" r="7.8" fill-opacity="0.200"/>
<circle cx="790.1" cy="647.3" r="7.8" fill-opacity="0.200"/>
<circle cx="790.3" cy="670.0" r="7.8" fill-opacity="0.200"/>
<circle cx="790.7" cy="636.1" r="7.8" fill-opacity="0.200"/>
<circle cx="790.2" cy="666.8" r="7.8" fill-opacity="0.200"/>
<circle cx="790.4" cy="637.6" r="7.8" fill-opacity="0.200"/>
<circle cx="789.1" cy="661.8" r="7.8" fill-opacity="0.200"/>
<circle cx="790.6" cy="662.8" r="7.8" fill-opacity="0.200"/>
<circle cx="790.5" cy="659.2" r="7.8" fill-opacity="0.200"/>
<circle cx="790.1" cy="630.9" r="7.8" fill-opacity="0.200"/>
<circle cx="789.4" cy="669.9" r="7.8" fill-opacity="0.200"/>
<circle cx="790.4" cy="635.3" r="7.8" fill-opacity="0.200"/>
<circle cx="789.6" cy="644.6" r="7.8" fill-opacity="0.200"/>
<circle cx="790.5" cy="641.9" r="7.8" fill-opacity="0.200"/>
<circle cx="789.3" cy="655.8" r="7.8" fill-opacity="0.200"/>
<circle cx="790.0" cy="659.8" r="7.8" fill-opacity="0.200"/>
<circle cx="790.6" cy="648.2" r="7.8" fill-opacity="0.200"/>
<circle cx="790.2" cy="651.6" r="7.8" fill-opacity="0.200"/>
<circle cx="790.3" cy="655.9" r="7.8" fill-opacity="0.200"/>
<circle cx="789.9" cy="220.3" r="7.8" fill-opacity="0.200"/>
<circle cx="789.9" cy="270.1" r="7.8" fill-opacity="0.200"/>
<circle cx="789.9" cy="273.5" r="7.8" fill-opacity="0.200"/>
<circle cx="789.9" cy="287.9" r="7.8" fill-opacity="0.200"/>
<circle cx="789.9" cy="292.1" r="7.8" fill-opacity="0.360"/>
<circle cx="789.9" cy="294.6" r="7.8" fill-opacity="0.200"/>
<circle cx="789.9" cy="305.6" r="7.8" fill-opacity="0.200"/>
<circle cx="789.9" cy="318.3" r="7.8" fill-opacity="0.360"/>
<circle cx="789.9" cy="323.4" r="7.8" fill-opacity="0.360"/>
<circle cx="789.9" cy="683.7" r="7.8" fill-opacity="0.200"/>
<circle cx="789.9" cy="689.8" r="7.8" fill-opacity="0.360"/>
<circle cx="789.9" cy="704.4" r="7.8" fill-opacity="0.360"/>
<path d="M877.8,372.0 C879.8,373.3 880.8,375.2 881.8,380.0 C882.8,384.8 882.9,393.7 883.5,400.5 C884.1,407.3 885.0,414.1 885.6,421.0 C886.2,427.9 886.5,434.8 887.1,441.6 C887.7,448.5 888.2,456.3 889.2,462.1 C890.2,467.9 892.2,472.3 893.3,476.4 C894.4,480.5 894.2,482.2 895.9,486.7 C897.6,491.1 901.3,498.7 903.6,503.1 C905.9,507.6 908.1,508.3 909.7,513.4 C911.3,518.5 912.6,527.8 913.3,533.9 C914.0,540.0 914.7,545.2 913.8,550.3 C912.9,555.4 910.1,560.6 907.7,564.7 C905.3,568.8 902.4,571.5 899.4,574.9 C896.4,578.3 892.2,581.8 889.7,585.2 C887.2,588.6 886.0,592.0 884.6,595.4 C883.2,598.8 882.5,603.3 881.5,605.7 C880.5,608.1 880.9,609.3 878.8,610.0 C876.7,610.7 870.9,610.7 868.8,610.0 C866.7,609.3 867.1,608.1 866.1,605.7 C865.1,603.3 864.4,598.8 863.0,595.4 C861.6,592.0 860.4,588.6 857.9,585.2 C855.4,581.8 851.2,578.3 848.2,574.9 C845.2,571.5 842.3,568.8 839.9,564.7 C837.5,560.6 834.7,555.4 833.8,550.3 C832.9,545.2 833.6,540.0 834.3,533.9 C835.0,527.8 836.3,518.5 837.9,513.4 C839.5,508.3 841.7,507.6 844.0,503.1 C846.3,498.7 850.0,491.1 851.7,486.7 C853.4,482.2 853.2,480.5 854.3,476.4 C855.4,472.3 857.4,467.9 858.4,462.1 C859.4,456.3 859.9,448.5 860.5,441.6 C861.1,434.8 861.4,427.9 862.0,421.0 C862.6,414.1 863.5,407.3 864.1,400.5 C864.7,393.7 864.8,384.8 865.8,380.0 C866.8,375.2 867.8,373.3 869.8,372.0 C871.8,370.7 875.8,370.7 877.8,372.0Z" fill="#080808" filter="url(#b1)"/>
<circle cx="873.1" cy="146.3" r="7.8" fill-opacity="0.200"/>
<circle cx="873.6" cy="154.0" r="7.8" fill-opacity="0.200"/>
<circle cx="874.3" cy="160.3" r="7.8" fill-opacity="0.200"/>
<circle cx="873.4" cy="162.6" r="7.8" fill-opacity="0.200"/>
<circle cx="873.7" cy="160.1" r="7.8" fill-opacity="0.200"/>
<circle cx="874.5" cy="161.5" r="7.8" fill-opacity="0.200"/>
<circle cx="873.7" cy="163.4" r="7.8" fill-opacity="0.200"/>
<circle cx="873.9" cy="176.3" r="7.8" fill-opacity="0.200"/>
<circle cx="873.8" cy="172.0" r="7.8" fill-opacity="0.200"/>
<circle cx="874.4" cy="173.7" r="7.8" fill-opacity="0.200"/>
<circle cx="873.5" cy="172.7" r="7.8" fill-opacity="0.200"/>
<circle cx="874.3" cy="186.4" r="7.8" fill-opacity="0.200"/>
<circle cx="874.1" cy="190.1" r="7.8" fill-opacity="0.200"/>
<circle cx="874.5" cy="195.3" r="7.8" fill-opacity="0.200"/>
<circle cx="873.6" cy="191.0" r="7.8" fill-opacity="0.200"/>
<circle cx="874.5" cy="184.7" r="7.8" fill-opacity="0.200"/>
<circle cx="874.1" cy="192.8" r="7.8" fill-opacity="0.200"/>
<circle cx="874.1" cy="184.8" r="7.8" fill-opacity="0.200"/>
<circle cx="873.9" cy="194.8" r="7.8" fill-opacity="0.200"/>
<circle cx="874.1" cy="182.8" r="7.8" fill-opacity="0.200"/>
<circle cx="874.1" cy="184.5" r="7.8" fill-opacity="0.200"/>
<circle cx="874.0" cy="188.0" r="7.8" fill-opacity="0.200"/>
<circle cx="874.4" cy="182.3" r="7.8" fill-opacity="0.200"/>
<circle cx="874.0" cy="196.4" r="7.8" fill-opacity="0.200"/>
<circle cx="874.3" cy="193.8" r="7.8" fill-opacity="0.200"/>
<circle cx="873.6" cy="198.2" r="7.8" fill-opacity="0.200"/>
<circle cx="874.0" cy="181.4" r="7.8" fill-opacity="0.200"/>
<circle cx="873.1" cy="216.8" r="7.8" fill-opacity="0.200"/>
<circle cx="874.3" cy="215.1" r="7.8" fill-opacity="0.200"/>
<circle cx="873.2" cy="219.1" r="7.8" fill-opacity="0.200"/>
<circle cx="874.3" cy="226.9" r="7.8" fill-opacity="0.200"/>
<circle cx="874.2" cy="206.9" r="7.8" fill-opacity="0.200"/>
<circle cx="873.5" cy="213.9" r="7.8" fill-opacity="0.200"/>
<circle cx="874.4" cy="203.6" r="7.8" fill-opacity="0.200"/>
<circle cx="873.5" cy="224.8" r="7.8" fill-opacity="0.200"/>
<circle cx="873.6" cy="225.7" r="7.8" fill-opacity="0.200"/>
<circle cx="873.9" cy="219.1" r="7.8" fill-opacity="0.200"/>
<circle cx="874.3" cy="227.1" r="7.8" fill-opacity="0.200"/>
<circle cx="874.4" cy="209.0" r="7.8" fill-opacity="0.200"/>
<circle cx="873.1" cy="222.3" r="7.8" fill-opacity="0.200"/>
<circle cx="873.4" cy="212.0" r="7.8" fill-opacity="0.200"/>
<circle cx="874.0" cy="218.8" r="7.8" fill-opacity="0.200"/>
<circle cx="873.7" cy="205.7" r="7.8" fill-opacity="0.200"/>
<circle cx="873.8" cy="215.5" r="7.8" fill-opacity="0.200"/>
<circle cx="874.4" cy="253.7" r="7.8" fill-opacity="0.200"/>
<circle cx="873.9" cy="249.6" r="7.8" fill-opacity="0.200"/>
<circle cx="874.0" cy="235.8" r="7.8" fill-opacity="0.200"/>
<circle cx="873.9" cy="245.0" r="7.8" fill-opacity="0.200"/>
<circle cx="874.4" cy="248.7" r="7.8" fill-opacity="0.200"/>
<circle cx="874.2" cy="259.4" r="7.8" fill-opacity="0.200"/>
<circle cx="873.2" cy="238.7" r="7.8" fill-opacity="0.200"/>
<circle cx="873.0" cy="245.6" r="7.8" fill-opacity="0.200"/>
<circle cx="873.1" cy="240.0" r="7.8" fill-opacity="0.200"/>
<circle cx="873.1" cy="246.6" r="7.8" fill-opacity="0.200"/>
<circle cx="873.9" cy="245.5" r="7.8" fill-opacity="0.200"/>
<circle cx="873.8" cy="248.7" r="7.8" fill-opacity="0.200"/>
<circle cx="873.1" cy="254.0" r="7.8" fill-opacity="0.200"/>
<circle cx="873.8" cy="244.4" r="7.8" fill-opacity="0.200"/>
<circle cx="874.5" cy="258.7" r="7.8" fill-opacity="0.200"/>
<circle cx="873.9" cy="264.3" r="7.8" fill-opacity="0.200"/>
<circle cx="874.5" cy="265.6" r="7.8" fill-opacity="0.200"/>
<circle cx="874.3" cy="265.6" r="7.8" fill-opacity="0.200"/>
<circle cx="874.2" cy="273.7" r="7.8" fill-opacity="0.200"/>
<circle cx="873.6" cy="286.2" r="7.8" fill-opacity="0.200"/>
<circle cx="873.1" cy="280.7" r="7.8" fill-opacity="0.200"/>
<circle cx="874.1" cy="297.1" r="7.8" fill-opacity="0.200"/>
<circle cx="874.5" cy="278.8" r="7.8" fill-opacity="0.200"/>
<circle cx="874.6" cy="284.3" r="7.8" fill-opacity="0.200"/>
<circle cx="874.3" cy="279.5" r="7.8" fill-opacity="0.200"/>
<circle cx="873.4" cy="292.2" r="7.8" fill-opacity="0.200"/>
<circle cx="874.0" cy="286.8" r="7.8" fill-opacity="0.200"/>
<circle cx="873.5" cy="286.9" r="7.8" fill-opacity="0.200"/>
<circle cx="873.9" cy="276.1" r="7.8" fill-opacity="0.200"/>
<circle cx="874.2" cy="279.7" r="7.8" fill-opacity="0.200"/>
<circle cx="873.7" cy="285.4" r="7.8" fill-opacity="0.200"/>
<circle cx="874.5" cy="283.8" r="7.8" fill-opacity="0.200"/>
<circle cx="874.4" cy="280.3" r="7.8" fill-opacity="0.200"/>
<circle cx="874.2" cy="278.6" r="7.8" fill-opacity="0.200"/>
<circle cx="873.1" cy="282.6" r="7.8" fill-opacity="0.200"/>
<circle cx="873.0" cy="287.8" r="7.8" fill-opacity="0.200"/>
<circle cx="874.2" cy="285.3" r="7.8" fill-opacity="0.200"/>
<circle cx="873.9" cy="313.9" r="7.8" fill-opacity="0.200"/>
<circle cx="873.9" cy="301.4" r="7.8" fill-opacity="0.200"/>
<circle cx="873.9" cy="309.6" r="7.8" fill-opacity="0.200"/>
<circle cx="874.1" cy="302.4" r="7.8" fill-opacity="0.200"/>
<circle cx="874.0" cy="311.3" r="7.8" fill-opacity="0.200"/>
<circle cx="873.1" cy="305.6" r="7.8" fill-opacity="0.200"/>
<circle cx="874.2" cy="302.4" r="7.8" fill-opacity="0.200"/>
<circle cx="873.5" cy="307.9" r="7.8" fill-opacity="0.200"/>
<circle cx="874.2" cy="313.4" r="7.8" fill-opacity="0.200"/>
<circle cx="874.0" cy="333.6" r="7.8" fill-opacity="0.200"/>
<circle cx="873.5" cy="337.1" r="7.8" fill-opacity="0.200"/>
<circle cx="873.1" cy="335.5" r="7.8" fill-opacity="0.200"/>
<circle cx="874.5" cy="321.7" r="7.8" fill-opacity="0.200"/>
<circle cx="873.6" cy="324.2" r="7.8" fill-opacity="0.200"/>
<circle cx="874.1" cy="339.4" r="7.8" fill-opacity="0.200"/>
<circle cx="874.5" cy="331.0" r="7.8" fill-opacity="0.200"/>
<circle cx="873.7" cy="337.2" r="7.8" fill-opacity="0.200"/>
<circle cx="873.3" cy="323.0" r="7.8" fill-opacity="0.200"/>
<circle cx="873.9" cy="330.8" r="7.8" fill-opacity="0.200"/>
<circle cx="874.3" cy="337.9" r="7.8" fill-opacity="0.200"/>
<circle cx="873.3" cy="333.9" r="7.8" fill-opacity="0.200"/>
<circle cx="874.2" cy="318.3" r="7.8" fill-opacity="0.200"/>
<circle cx="874.3" cy="329.2" r="7.8" fill-opacity="0.200"/>
<circle cx="874.2" cy="329.1" r="7.8" fill-opacity="0.200"/>
<circle cx="873.8" cy="340.8" r="7.8" fill-opacity="0.200"/>
<circle cx="874.5" cy="334.8" r="7.8" fill-opacity="0.200"/>
<circle cx="873.0" cy="322.2" r="7.8" fill-opacity="0.200"/>
<circle cx="873.7" cy="331.3" r="7.8" fill-opacity="0.200"/>
<circle cx="873.9" cy="336.9" r="7.8" fill-opacity="0.200"/>
<circle cx="873.9" cy="343.6" r="7.8" fill-opacity="0.200"/>
<circle cx="873.4" cy="341.4" r="7.8" fill-opacity="0.200"/>
<circle cx="873.6" cy="320.5" r="7.8" fill-opacity="0.200"/>
<circle cx="873.2" cy="383.1" r="7.8" fill-opacity="0.200"/>
<circle cx="873.7" cy="346.6" r="7.8" fill-opacity="0.200"/>
<circle cx="873.6" cy="364.4" r="7.8" fill-opacity="0.200"/>
<circle cx="873.9" cy="364.5" r="7.8" fill-opacity="0.200"/>
<circle cx="874.3" cy="347.5" r="7.8" fill-opacity="0.200"/>
<circle cx="873.7" cy="376.1" r="7.8" fill-opacity="0.200"/>
<circle cx="874.3" cy="350.4" r="7.8" fill-opacity="0.200"/>
<circle cx="873.5" cy="371.4" r="7.8" fill-opacity="0.200"/>
<circle cx="873.8" cy="368.5" r="7.8" fill-opacity="0.200"/>
<circle cx="873.7" cy="363.7" r="7.8" fill-opacity="0.200"/>
<circle cx="873.3" cy="364.3" r="7.8" fill-opacity="0.200"/>
<circle cx="874.3" cy="357.2" r="7.8" fill-opacity="0.200"/>
<circle cx="873.1" cy="369.9" r="7.8" fill-opacity="0.200"/>
<circle cx="874.1" cy="345.1" r="7.8" fill-opacity="0.200"/>
<circle cx="873.1" cy="358.3" r="7.8" fill-opacity="0.200"/>
<circle cx="874.1" cy="363.3" r="7.8" fill-opacity="0.200"/>
<circle cx="873.2" cy="383.3" r="7.8" fill-opacity="0.200"/>
<circle cx="873.1" cy="379.7" r="7.8" fill-opacity="0.200"/>
<circle cx="873.9" cy="355.8" r="7.8" fill-opacity="0.200"/>
<circle cx="873.8" cy="370.0" r="7.8" fill-opacity="0.200"/>
<circle cx="873.4" cy="354.8" r="7.8" fill-opacity="0.200"/>
<circle cx="873.9" cy="359.9" r="7.8" fill-opacity="0.200"/>
<circle cx="874.2" cy="372.2" r="7.8" fill-opacity="0.200"/>
<circle cx="873.4" cy="365.2" r="7.8" fill-opacity="0.200"/>
<circle cx="873.7" cy="354.0" r="7.8" fill-opacity="0.200"/>
<circle cx="873.6" cy="361.3" r="7.8" fill-opacity="0.200"/>
<circle cx="874.2" cy="384.9" r="7.8" fill-opacity="0.200"/>
<circle cx="874.5" cy="352.1" r="7.8" fill-opacity="0.200"/>
<circle cx="873.8" cy="346.6" r="7.8" fill-opacity="0.200"/>
<circle cx="874.4" cy="346.9" r="7.8" fill-opacity="0.200"/>
<circle cx="873.6" cy="361.5" r="7.8" fill-opacity="0.200"/>
<circle cx="873.9" cy="350.3" r="7.8" fill-opacity="0.200"/>
<circle cx="874.2" cy="354.7" r="7.8" fill-opacity="0.200"/>
<circle cx="874.2" cy="358.4" r="7.8" fill-opacity="0.200"/>
<circle cx="874.1" cy="353.5" r="7.8" fill-opacity="0.200"/>
<circle cx="873.8" cy="378.0" r="7.8" fill-opacity="0.200"/>
<circle cx="874.5" cy="357.2" r="7.8" fill-opacity="0.200"/>
<circle cx="874.6" cy="351.2" r="7.8" fill-opacity="0.200"/>
<circle cx="873.9" cy="350.1" r="7.8" fill-opacity="0.200"/>
<circle cx="874.1" cy="378.1" r="7.8" fill-opacity="0.200"/>
<circle cx="873.1" cy="379.2" r="7.8" fill-opacity="0.200"/>
<circle cx="873.9" cy="357.8" r="7.8" fill-opacity="0.200"/>
<circle cx="873.5" cy="372.7" r="7.8" fill-opacity="0.200"/>
<circle cx="873.6" cy="374.8" r="7.8" fill-opacity="0.200"/>
<circle cx="874.5" cy="371.7" r="7.8" fill-opacity="0.200"/>
<circle cx="873.6" cy="384.4" r="7.8" fill-opacity="0.200"/>
<circle cx="873.8" cy="137.2" r="7.8" fill-opacity="0.200"/>
<circle cx="873.8" cy="614.9" r="7.8" fill-opacity="0.200"/>
<path d="M962.5,360.0 C964.6,361.3 966.4,364.7 967.3,368.0 C968.2,371.3 967.4,374.6 967.7,380.0 C968.0,385.4 968.8,393.7 969.3,400.5 C969.8,407.3 970.0,415.9 970.8,421.0 C971.6,426.1 972.8,427.9 973.9,431.3 C975.0,434.7 975.8,436.5 977.5,441.6 C979.2,446.7 982.3,455.3 984.1,462.1 C985.9,468.9 987.0,475.8 988.3,482.6 C989.6,489.4 990.3,496.3 991.8,503.1 C993.2,509.9 995.9,517.5 997.0,523.6 C998.1,529.8 998.7,534.9 998.5,540.0 C998.3,545.1 997.9,548.6 995.9,554.4 C993.9,560.2 989.5,568.1 986.2,574.9 C982.9,581.7 978.5,588.6 975.9,595.4 C973.2,602.2 971.8,609.0 970.3,615.9 C968.8,622.8 967.8,632.1 966.7,636.5 C965.6,640.9 965.7,641.1 963.5,642.0 C961.3,642.9 955.7,642.9 953.5,642.0 C951.3,641.1 951.4,640.9 950.3,636.5 C949.2,632.1 948.2,622.8 946.7,615.9 C945.2,609.0 943.8,602.2 941.1,595.4 C938.5,588.6 934.1,581.7 930.8,574.9 C927.5,568.1 923.1,560.2 921.1,554.4 C919.1,548.6 918.7,545.1 918.5,540.0 C918.3,534.9 918.9,529.8 920.0,523.6 C921.1,517.5 923.8,509.9 925.2,503.1 C926.7,496.3 927.4,489.4 928.7,482.6 C930.0,475.8 931.1,468.9 932.9,462.1 C934.7,455.3 937.8,446.7 939.5,441.6 C941.2,436.5 942.0,434.7 943.1,431.3 C944.2,427.9 945.4,426.1 946.2,421.0 C947.0,415.9 947.2,407.3 947.7,400.5 C948.2,393.7 949.0,385.4 949.3,380.0 C949.6,374.6 948.8,371.3 949.7,368.0 C950.6,364.7 952.4,361.3 954.5,360.0 C956.6,358.7 960.4,358.7 962.5,360.0Z" fill="#080808" filter="url(#b1)"/>
<circle cx="958.0" cy="128.4" r="7.8" fill-opacity="0.200"/>
<circle cx="958.3" cy="172.4" r="7.8" fill-opacity="0.200"/>
<circle cx="958.6" cy="171.7" r="7.8" fill-opacity="0.200"/>
<circle cx="959.3" cy="143.9" r="7.8" fill-opacity="0.200"/>
<circle cx="957.8" cy="153.0" r="7.8" fill-opacity="0.200"/>
<circle cx="958.3" cy="172.8" r="7.8" fill-opacity="0.200"/>
<circle cx="958.1" cy="165.4" r="7.8" fill-opacity="0.200"/>
<circle cx="958.2" cy="141.5" r="7.8" fill-opacity="0.200"/>
<circle cx="957.9" cy="135.9" r="7.8" fill-opacity="0.200"/>
<circle cx="957.9" cy="137.2" r="7.8" fill-opacity="0.200"/>
<circle cx="958.8" cy="154.0" r="7.8" fill-opacity="0.200"/>
<circle cx="959.2" cy="148.8" r="7.8" fill-opacity="0.200"/>
<circle cx="957.9" cy="172.2" r="7.8" fill-opacity="0.200"/>
<circle cx="959.0" cy="150.1" r="7.8" fill-opacity="0.200"/>
<circle cx="959.0" cy="156.6" r="7.8" fill-opacity="0.200"/>
<circle cx="959.2" cy="151.7" r="7.8" fill-opacity="0.200"/>
<circle cx="957.9" cy="151.7" r="7.8" fill-opacity="0.200"/>
<circle cx="957.9" cy="164.3" r="7.8" fill-opacity="0.200"/>
<circle cx="958.6" cy="152.2" r="7.8" fill-opacity="0.200"/>
<circle cx="958.4" cy="170.2" r="7.8" fill-opacity="0.200"/>
<circle cx="958.2" cy="160.8" r="7.8" fill-opacity="0.200"/>
<circle cx="959.1" cy="148.3" r="7.8" fill-opacity="0.200"/>
<circle cx="958.3" cy="141.4" r="7.8" fill-opacity="0.200"/>
<circle cx="957.9" cy="143.1" r="7.8" fill-opacity="0.200"/>
<circle cx="958.8" cy="148.6" r="7.8" fill-opacity="0.200"/>
<circle cx="959.2" cy="166.1" r="7.8" fill-opacity="0.200"/>
<circle cx="958.8" cy="154.2" r="7.8" fill-opacity="0.200"/>
<circle cx="958.0" cy="153.1" r="7.8" fill-opacity="0.200"/>
<circle cx="958.1" cy="178.3" r="7.8" fill-opacity="0.200"/>
<circle cx="958.6" cy="178.2" r="7.8" fill-opacity="0.200"/>
<circle cx="958.3" cy="177.3" r="7.8" fill-opacity="0.200"/>
<circle cx="959.1" cy="175.3" r="7.8" fill-opacity="0.200"/>
<circle cx="958.9" cy="209.0" r="7.8" fill-opacity="0.200"/>
<circle cx="958.3" cy="197.8" r="7.8" fill-opacity="0.200"/>
<circle cx="958.3" cy="227.7" r="7.8" fill-opacity="0.200"/>
<circle cx="959.3" cy="209.6" r="7.8" fill-opacity="0.200"/>
<circle cx="957.9" cy="209.4" r="7.8" fill-opacity="0.200"/>
<circle cx="959.2" cy="209.1" r="7.8" fill-opacity="0.200"/>
<circle cx="959.1" cy="237.9" r="7.8" fill-opacity="0.200"/>
<circle cx="959.0" cy="197.1" r="7.8" fill-opacity="0.200"/>
<circle cx="959.0" cy="222.5" r="7.8" fill-opacity="0.200"/>
<circle cx="958.3" cy="184.0" r="7.8" fill-opacity="0.200"/>
<circle cx="958.7" cy="212.2" r="7.8" fill-opacity="0.200"/>
<circle cx="959.2" cy="204.1" r="7.8" fill-opacity="0.200"/>
<circle cx="958.0" cy="217.6" r="7.8" fill-opacity="0.200"/>
<circle cx="959.2" cy="226.5" r="7.8" fill-opacity="0.200"/>
<circle cx="959.0" cy="234.8" r="7.8" fill-opacity="0.200"/>
<circle cx="958.6" cy="192.2" r="7.8" fill-opacity="0.200"/>
<circle cx="958.4" cy="188.2" r="7.8" fill-opacity="0.200"/>
<circle cx="957.9" cy="194.8" r="7.8" fill-opacity="0.200"/>
<circle cx="957.7" cy="217.7" r="7.8" fill-opacity="0.200"/>
<circle cx="958.3" cy="190.7" r="7.8" fill-opacity="0.200"/>
<circle cx="959.0" cy="214.6" r="7.8" fill-opacity="0.200"/>
<circle cx="958.1" cy="200.7" r="7.8" fill-opacity="0.200"/>
<circle cx="958.8" cy="191.7" r="7.8" fill-opacity="0.200"/>
<circle cx="958.3" cy="223.3" r="7.8" fill-opacity="0.200"/>
<circle cx="957.7" cy="202.7" r="7.8" fill-opacity="0.200"/>
<circle cx="959.2" cy="198.6" r="7.8" fill-opacity="0.200"/>
<circle cx="958.5" cy="214.6" r="7.8" fill-opacity="0.200"/>
<circle cx="958.2" cy="197.8" r="7.8" fill-opacity="0.200"/>
<circle cx="958.4" cy="236.1" r="7.8" fill-opacity="0.200"/>
<circle cx="958.9" cy="228.2" r="7.8" fill-opacity="0.200"/>
<circle cx="959.1" cy="201.4" r="7.8" fill-opacity="0.200"/>
<circle cx="958.6" cy="207.8" r="7.8" fill-opacity="0.200"/>
<circle cx="959.0" cy="228.1" r="7.8" fill-opacity="0.200"/>
<circle cx="958.2" cy="235.4" r="7.8" fill-opacity="0.200"/>
<circle cx="959.3" cy="236.2" r="7.8" fill-opacity="0.200"/>
<circle cx="958.0" cy="211.2" r="7.8" fill-opacity="0.200"/>
<circle cx="959.0" cy="195.4" r="7.8" fill-opacity="0.200"/>
<circle cx="957.7" cy="212.4" r="7.8" fill-opacity="0.200"/>
<circle cx="958.5" cy="224.0" r="7.8" fill-opacity="0.200"/>
<circle cx="958.3" cy="199.5" r="7.8" fill-opacity="0.200"/>
<circle cx="957.8" cy="219.1" r="7.8" fill-opacity="0.200"/>
<circle cx="958.0" cy="189.6" r="7.8" fill-opacity="0.200"/>
<circle cx="958.6" cy="194.8" r="7.8" fill-opacity="0.200"/>
<circle cx="958.2" cy="198.9" r="7.8" fill-opacity="0.200"/>
<circle cx="958.2" cy="234.7" r="7.8" fill-opacity="0.200"/>
<circle cx="958.8" cy="228.1" r="7.8" fill-opacity="0.200"/>
<circle cx="958.1" cy="241.9" r="7.8" fill-opacity="0.200"/>
<circle cx="958.7" cy="292.2" r="7.8" fill-opacity="0.200"/>
<circle cx="958.4" cy="327.6" r="7.8" fill-opacity="0.200"/>
<circle cx="959.2" cy="266.4" r="7.8" fill-opacity="0.200"/>
<circle cx="958.4" cy="262.5" r="7.8" fill-opacity="0.200"/>
<circle cx="959.0" cy="319.8" r="7.8" fill-opacity="0.200"/>
<circle cx="958.3" cy="286.4" r="7.8" fill-opacity="0.200"/>
<circle cx="958.3" cy="319.5" r="7.8" fill-opacity="0.200"/>
<circle cx="958.5" cy="348.4" r="7.8" fill-opacity="0.200"/>
<circle cx="958.1" cy="306.2" r="7.8" fill-opacity="0.200"/>
<circle cx="958.4" cy="303.6" r="7.8" fill-opacity="0.200"/>
<circle cx="959.3" cy="280.8" r="7.8" fill-opacity="0.200"/>
<circle cx="957.8" cy="321.6" r="7.8" fill-opacity="0.200"/>
<circle cx="958.3" cy="336.1" r="7.8" fill-opacity="0.200"/>
<circle cx="958.6" cy="315.5" r="7.8" fill-opacity="0.200"/>
<circle cx="958.9" cy="335.0" r="7.8" fill-opacity="0.200"/>
<circle cx="958.1" cy="271.4" r="7.8" fill-opacity="0.200"/>
<circle cx="958.5" cy="255.4" r="7.8" fill-opacity="0.200"/>
<circle cx="957.8" cy="343.2" r="7.8" fill-opacity="0.200"/>
<circle cx="958.3" cy="321.2" r="7.8" fill-opacity="0.200"/>
<circle cx="959.3" cy="303.8" r="7.8" fill-opacity="0.200"/>
<circle cx="958.1" cy="335.5" r="7.8" fill-opacity="0.200"/>
<circle cx="957.8" cy="311.1" r="7.8" fill-opacity="0.200"/>
<circle cx="957.8" cy="348.6" r="7.8" fill-opacity="0.200"/>
<circle cx="957.7" cy="274.5" r="7.8" fill-opacity="0.200"/>
<circle cx="958.9" cy="329.3" r="7.8" fill-opacity="0.200"/>
<circle cx="958.7" cy="317.2" r="7.8" fill-opacity="0.200"/>
<circle cx="958.1" cy="314.9" r="7.8" fill-opacity="0.200"/>
<circle cx="959.0" cy="325.9" r="7.8" fill-opacity="0.200"/>
<circle cx="959.1" cy="275.7" r="7.8" fill-opacity="0.200"/>
<circle cx="958.2" cy="308.4" r="7.8" fill-opacity="0.200"/>
<circle cx="958.6" cy="288.4" r="7.8" fill-opacity="0.200"/>
<circle cx="957.8" cy="252.4" r="7.8" fill-opacity="0.200"/>
<circle cx="958.0" cy="260.7" r="7.8" fill-opacity="0.200"/>
<circle cx="958.2" cy="342.7" r="7.8" fill-opacity="0.200"/>
<circle cx="957.8" cy="276.7" r="7.8" fill-opacity="0.200"/>
<circle cx="958.1" cy="299.8" r="7.8" fill-opacity="0.200"/>
<circle cx="957.7" cy="299.5" r="7.8" fill-opacity="0.200"/>
<circle cx="959.2" cy="286.0" r="7.8" fill-opacity="0.200"/>
<circle cx="958.9" cy="319.1" r="7.8" fill-opacity="0.200"/>
<circle cx="958.7" cy="270.8" r="7.8" fill-opacity="0.200"/>
<circle cx="958.7" cy="298.5" r="7.8" fill-opacity="0.200"/>
<circle cx="957.7" cy="316.9" r="7.8" fill-opacity="0.200"/>
<circle cx="958.3" cy="283.8" r="7.8" fill-opacity="0.200"/>
<circle cx="958.6" cy="316.0" r="7.8" fill-opacity="0.200"/>
<circle cx="958.6" cy="271.4" r="7.8" fill-opacity="0.200"/>
<circle cx="958.7" cy="279.2" r="7.8" fill-opacity="0.200"/>
<circle cx="958.5" cy="295.7" r="7.8" fill-opacity="0.200"/>
<circle cx="958.6" cy="331.4" r="7.8" fill-opacity="0.200"/>
<circle cx="958.3" cy="256.9" r="7.8" fill-opacity="0.200"/>
<circle cx="957.9" cy="320.0" r="7.8" fill-opacity="0.200"/>
<circle cx="959.1" cy="314.1" r="7.8" fill-opacity="0.200"/>
<circle cx="958.0" cy="282.4" r="7.8" fill-opacity="0.200"/>
<circle cx="958.2" cy="283.9" r="7.8" fill-opacity="0.200"/>
<circle cx="959.0" cy="351.9" r="7.8" fill-opacity="0.200"/>
<circle cx="957.8" cy="257.7" r="7.8" fill-opacity="0.200"/>
<circle cx="958.2" cy="291.3" r="7.8" fill-opacity="0.200"/>
<circle cx="958.8" cy="270.8" r="7.8" fill-opacity="0.200"/>
<circle cx="958.5" cy="287.5" r="7.8" fill-opacity="0.200"/>
<circle cx="957.9" cy="272.7" r="7.8" fill-opacity="0.200"/>
<circle cx="957.8" cy="304.7" r="7.8" fill-opacity="0.200"/>
<circle cx="957.8" cy="330.7" r="7.8" fill-opacity="0.200"/>
<circle cx="958.1" cy="276.1" r="7.8" fill-opacity="0.200"/>
<circle cx="959.3" cy="302.7" r="7.8" fill-opacity="0.200"/>
<circle cx="958.0" cy="265.0" r="7.8" fill-opacity="0.200"/>
<circle cx="958.7" cy="282.7" r="7.8" fill-opacity="0.200"/>
<circle cx="959.1" cy="281.1" r="7.8" fill-opacity="0.200"/>
<circle cx="958.1" cy="309.0" r="7.8" fill-opacity="0.200"/>
<circle cx="958.2" cy="300.5" r="7.8" fill-opacity="0.200"/>
<circle cx="958.7" cy="338.3" r="7.8" fill-opacity="0.200"/>
<circle cx="959.0" cy="286.4" r="7.8" fill-opacity="0.200"/>
<circle cx="957.8" cy="328.3" r="7.8" fill-opacity="0.200"/>
<circle cx="958.6" cy="367.1" r="7.8" fill-opacity="0.200"/>
<circle cx="957.9" cy="370.7" r="7.8" fill-opacity="0.200"/>
<circle cx="958.2" cy="367.6" r="7.8" fill-opacity="0.200"/>
<circle cx="958.2" cy="368.6" r="7.8" fill-opacity="0.200"/>
<circle cx="958.9" cy="361.2" r="7.8" fill-opacity="0.200"/>
<circle cx="958.6" cy="366.5" r="7.8" fill-opacity="0.200"/>
<circle cx="959.2" cy="356.9" r="7.8" fill-opacity="0.200"/>
<circle cx="959.3" cy="365.0" r="7.8" fill-opacity="0.200"/>
<circle cx="957.9" cy="357.5" r="7.8" fill-opacity="0.200"/>
<circle cx="958.3" cy="360.4" r="7.8" fill-opacity="0.200"/>
<circle cx="958.3" cy="365.3" r="7.8" fill-opacity="0.200"/>
<circle cx="958.6" cy="356.5" r="7.8" fill-opacity="0.200"/>
<circle cx="959.0" cy="358.4" r="7.8" fill-opacity="0.200"/>
<circle cx="958.1" cy="367.6" r="7.8" fill-opacity="0.200"/>
<circle cx="958.8" cy="357.3" r="7.8" fill-opacity="0.200"/>
<circle cx="958.5" cy="370.2" r="7.8" fill-opacity="0.200"/>
<circle cx="958.3" cy="359.8" r="7.8" fill-opacity="0.200"/>
<circle cx="958.2" cy="366.9" r="7.8" fill-opacity="0.200"/>
<circle cx="958.2" cy="366.5" r="7.8" fill-opacity="0.200"/>
<circle cx="958.7" cy="370.7" r="7.8" fill-opacity="0.200"/>
<circle cx="958.0" cy="636.4" r="7.8" fill-opacity="0.200"/>
<circle cx="957.7" cy="652.7" r="7.8" fill-opacity="0.200"/>
<circle cx="958.3" cy="648.8" r="7.8" fill-opacity="0.200"/>
<circle cx="958.4" cy="651.6" r="7.8" fill-opacity="0.200"/>
<circle cx="959.2" cy="660.8" r="7.8" fill-opacity="0.200"/>
<circle cx="958.3" cy="676.9" r="7.8" fill-opacity="0.200"/>
<circle cx="957.9" cy="663.7" r="7.8" fill-opacity="0.200"/>
<circle cx="958.9" cy="638.8" r="7.8" fill-opacity="0.200"/>
<circle cx="958.5" cy="674.6" r="7.8" fill-opacity="0.200"/>
<circle cx="957.8" cy="647.2" r="7.8" fill-opacity="0.200"/>
<circle cx="958.4" cy="652.3" r="7.8" fill-opacity="0.200"/>
<circle cx="959.3" cy="652.4" r="7.8" fill-opacity="0.200"/>
<circle cx="959.0" cy="636.2" r="7.8" fill-opacity="0.200"/>
<circle cx="959.2" cy="656.1" r="7.8" fill-opacity="0.200"/>
<circle cx="959.2" cy="649.4" r="7.8" fill-opacity="0.200"/>
<circle cx="958.9" cy="659.4" r="7.8" fill-opacity="0.200"/>
<circle cx="958.5" cy="653.0" r="7.8" fill-opacity="0.200"/>
<circle cx="957.9" cy="651.8" r="7.8" fill-opacity="0.200"/>
<circle cx="958.5" cy="666.2" r="7.8" fill-opacity="0.200"/>
<circle cx="958.7" cy="640.8" r="7.8" fill-opacity="0.200"/>
<circle cx="957.8" cy="650.5" r="7.8" fill-opacity="0.200"/>
<circle cx="958.7" cy="682.2" r="7.8" fill-opacity="0.200"/>
<circle cx="959.0" cy="661.4" r="7.8" fill-opacity="0.200"/>
<circle cx="959.2" cy="679.9" r="7.8" fill-opacity="0.200"/>
<circle cx="959.0" cy="658.8" r="7.8" fill-opacity="0.200"/>
<circle cx="958.5" cy="88.7" r="7.8" fill-opacity="0.200"/>
<circle cx="958.5" cy="101.8" r="7.8" fill-opacity="0.200"/>
<circle cx="958.5" cy="709.3" r="7.8" fill-opacity="0.200"/>
<circle cx="1081.3" cy="251.7" r="7.8" fill-opacity="0.200"/>
<circle cx="1082.8" cy="252.9" r="7.8" fill-opacity="0.200"/>
<circle cx="1074.4" cy="253.0" r="7.8" fill-opacity="0.200"/>
<circle cx="1073.7" cy="254.4" r="7.8" fill-opacity="0.200"/>
<circle cx="1075.3" cy="255.0" r="7.8" fill-opacity="0.200"/>
<circle cx="1082.5" cy="255.6" r="7.8" fill-opacity="0.200"/>
<circle cx="1074.9" cy="256.5" r="7.8" fill-opacity="0.200"/>
<circle cx="1082.9" cy="256.7" r="7.8" fill-opacity="0.200"/>
<circle cx="1076.8" cy="257.6" r="7.8" fill-opacity="0.200"/>
<circle cx="1081.6" cy="257.3" r="7.8" fill-opacity="0.200"/>
<circle cx="1075.5" cy="258.3" r="7.8" fill-opacity="0.200"/>
<circle cx="1084.1" cy="258.9" r="7.8" fill-opacity="0.200"/>
<circle cx="1073.9" cy="259.6" r="7.8" fill-opacity="0.200"/>
<circle cx="1080.4" cy="260.0" r="7.8" fill-opacity="0.200"/>
<circle cx="1078.2" cy="260.6" r="7.8" fill-opacity="0.200"/>
<circle cx="1080.7" cy="260.2" r="7.8" fill-opacity="0.200"/>
<circle cx="1074.3" cy="261.1" r="7.8" fill-opacity="0.200"/>
<circle cx="1080.5" cy="261.5" r="7.8" fill-opacity="0.200"/>
<circle cx="1087.3" cy="261.3" r="7.8" fill-opacity="0.200"/>
<circle cx="1073.8" cy="262.6" r="7.8" fill-opacity="0.200"/>
<circle cx="1089.2" cy="262.7" r="7.8" fill-opacity="0.200"/>
<circle cx="1069.5" cy="263.9" r="7.8" fill-opacity="0.200"/>
<circle cx="1087.5" cy="263.3" r="7.8" fill-opacity="0.200"/>
<circle cx="1074.5" cy="264.9" r="7.8" fill-opacity="0.200"/>
<circle cx="1081.4" cy="264.7" r="7.8" fill-opacity="0.200"/>
<circle cx="1089.0" cy="264.6" r="7.8" fill-opacity="0.200"/>
<circle cx="1069.5" cy="265.7" r="7.8" fill-opacity="0.200"/>
<circle cx="1076.5" cy="265.0" r="7.8" fill-opacity="0.200"/>
<circle cx="1087.1" cy="265.5" r="7.8" fill-opacity="0.200"/>
<circle cx="1072.1" cy="266.5" r="7.8" fill-opacity="0.200"/>
<circle cx="1080.7" cy="266.3" r="7.8" fill-opacity="0.200"/>
<circle cx="1089.9" cy="266.5" r="7.8" fill-opacity="0.200"/>
<circle cx="1065.8" cy="267.2" r="7.8" fill-opacity="0.200"/>
<circle cx="1081.1" cy="267.3" r="7.8" fill-opacity="0.200"/>
<circle cx="1092.9" cy="267.3" r="7.8" fill-opacity="0.200"/>
<circle cx="1068.4" cy="268.4" r="7.8" fill-opacity="0.200"/>
<circle cx="1076.9" cy="268.8" r="7.8" fill-opacity="0.200"/>
<circle cx="1087.1" cy="268.2" r="7.8" fill-opacity="0.200"/>
<circle cx="1068.5" cy="269.9" r="7.8" fill-opacity="0.200"/>
<circle cx="1083.7" cy="269.3" r="7.8" fill-opacity="0.200"/>
<circle cx="1094.6" cy="269.8" r="7.8" fill-opacity="0.200"/>
<circle cx="1071.1" cy="270.2" r="7.8" fill-opacity="0.200"/>
<circle cx="1074.3" cy="270.3" r="7.8" fill-opacity="0.200"/>
<circle cx="1084.6" cy="271.0" r="7.8" fill-opacity="0.200"/>
<circle cx="1072.4" cy="271.2" r="7.8" fill-opacity="0.200"/>
<circle cx="1073.9" cy="271.2" r="7.8" fill-opacity="0.200"/>
<circle cx="1088.6" cy="271.6" r="7.8" fill-opacity="0.200"/>
<circle cx="1068.6" cy="272.1" r="7.8" fill-opacity="0.200"/>
<circle cx="1078.5" cy="272.3" r="7.8" fill-opacity="0.200"/>
<circle cx="1079.6" cy="272.5" r="7.8" fill-opacity="0.200"/>
<circle cx="1095.6" cy="272.3" r="7.8" fill-opacity="0.200"/>
<circle cx="1059.9" cy="273.1" r="7.8" fill-opacity="0.200"/>
<circle cx="1075.7" cy="273.9" r="7.8" fill-opacity="0.200"/>
<circle cx="1086.5" cy="273.7" r="7.8" fill-opacity="0.200"/>
<circle cx="1064.1" cy="275.0" r="7.8" fill-opacity="0.200"/>
<circle cx="1076.9" cy="274.1" r="7.8" fill-opacity="0.200"/>
<circle cx="1083.0" cy="274.1" r="7.8" fill-opacity="0.200"/>
<circle cx="1091.7" cy="274.0" r="7.8" fill-opacity="0.200"/>
<circle cx="1065.4" cy="275.6" r="7.8" fill-opacity="0.200"/>
<circle cx="1073.8" cy="275.1" r="7.8" fill-opacity="0.200"/>
<circle cx="1086.7" cy="275.5" r="7.8" fill-opacity="0.200"/>
<circle cx="1092.9" cy="275.3" r="7.8" fill-opacity="0.200"/>
<circle cx="1061.5" cy="276.8" r="7.8" fill-opacity="0.200"/>
<circle cx="1070.3" cy="276.8" r="7.8" fill-opacity="0.200"/>
<circle cx="1083.7" cy="276.8" r="7.8" fill-opacity="0.200"/>
<circle cx="1092.9" cy="276.7" r="7.8" fill-opacity="0.200"/>
<circle cx="1060.9" cy="277.3" r="7.8" fill-opacity="0.200"/>
<circle cx="1069.2" cy="277.8" r="7.8" fill-opacity="0.200"/>
<circle cx="1084.2" cy="277.4" r="7.8" fill-opacity="0.200"/>
<circle cx="1091.3" cy="278.0" r="7.8" fill-opacity="0.200"/>
<circle cx="1056.9" cy="278.1" r="7.8" fill-opacity="0.200"/>
<circle cx="1068.9" cy="278.6" r="7.8" fill-opacity="0.200"/>
<circle cx="1080.4" cy="278.1" r="7.8" fill-opacity="0.200"/>
<circle cx="1100.8" cy="278.7" r="7.8" fill-opacity="0.200"/>
<circle cx="1066.0" cy="279.9" r="7.8" fill-opacity="0.200"/>
<circle cx="1074.5" cy="279.4" r="7.8" fill-opacity="0.200"/>
<circle cx="1085.7" cy="280.0" r="7.8" fill-opacity="0.200"/>
<circle cx="1097.2" cy="279.4" r="7.8" fill-opacity="0.200"/>
<circle cx="1063.6" cy="280.1" r="7.8" fill-opacity="0.200"/>
<circle cx="1078.8" cy="280.2" r="7.8" fill-opacity="0.200"/>
<circle cx="1089.3" cy="280.1" r="7.8" fill-opacity="0.200"/>
<circle cx="1101.8" cy="280.2" r="7.8" fill-opacity="0.200"/>
<circle cx="1059.1" cy="281.2" r="7.8" fill-opacity="0.200"/>
<circle cx="1070.0" cy="281.6" r="7.8" fill-opacity="0.200"/>
<circle cx="1082.2" cy="281.9" r="7.8" fill-opacity="0.200"/>
<circle cx="1097.8" cy="281.1" r="7.8" fill-opacity="0.200"/>
<circle cx="1065.5" cy="282.3" r="7.8" fill-opacity="0.200"/>
<circle cx="1068.2" cy="282.8" r="7.8" fill-opacity="0.200"/>
<circle cx="1081.1" cy="282.2" r="7.8" fill-opacity="0.200"/>
<circle cx="1092.0" cy="282.2" r="7.8" fill-opacity="0.200"/>
<circle cx="1060.7" cy="283.6" r="7.8" fill-opacity="0.200"/>
<circle cx="1073.2" cy="283.6" r="7.8" fill-opacity="0.200"/>
<circle cx="1081.2" cy="283.9" r="7.8" fill-opacity="0.200"/>
<circle cx="1089.1" cy="283.2" r="7.8" fill-opacity="0.200"/>
<circle cx="1105.2" cy="283.3" r="7.8" fill-opacity="0.200"/>
<circle cx="1058.1" cy="284.5" r="7.8" fill-opacity="0.200"/>
<circle cx="1067.3" cy="284.1" r="7.8" fill-opacity="0.200"/>
<circle cx="1077.7" cy="284.2" r="7.8" fill-opacity="0.200"/>
<circle cx="1092.7" cy="284.8" r="7.8" fill-opacity="0.200"/>
<circle cx="1099.9" cy="284.8" r="7.8" fill-opacity="0.200"/>
<circle cx="1058.3" cy="285.7" r="7.8" fill-opacity="0.200"/>
<circle cx="1062.0" cy="285.1" r="7.8" fill-opacity="0.200"/>
<circle cx="1084.4" cy="285.7" r="7.8" fill-opacity="0.200"/>
<circle cx="1093.0" cy="285.4" r="7.8" fill-opacity="0.200"/>
<circle cx="1107.5" cy="285.6" r="7.8" fill-opacity="0.200"/>
<circle cx="1054.0" cy="286.2" r="7.8" fill-opacity="0.200"/>
<circle cx="1069.7" cy="286.2" r="7.8" fill-opacity="0.200"/>
<circle cx="1084.2" cy="286.4" r="7.8" fill-opacity="0.200"/>
<circle cx="1091.9" cy="286.2" r="7.8" fill-opacity="0.200"/>
<circle cx="1107.7" cy="286.1" r="7.8" fill-opacity="0.200"/>
<circle cx="1048.4" cy="287.9" r="7.8" fill-opacity="0.200"/>
<circle cx="1066.7" cy="287.6" r="7.8" fill-opacity="0.200"/>
<circle cx="1083.7" cy="287.7" r="7.8" fill-opacity="0.200"/>
<circle cx="1086.0" cy="287.6" r="7.8" fill-opacity="0.200"/>
<circle cx="1104.4" cy="287.8" r="7.8" fill-opacity="0.200"/>
<circle cx="1048.3" cy="288.6" r="7.8" fill-opacity="0.200"/>
<circle cx="1072.2" cy="288.0" r="7.8" fill-opacity="0.200"/>
<circle cx="1074.5" cy="288.4" r="7.8" fill-opacity="0.200"/>
<circle cx="1089.7" cy="289.0" r="7.8" fill-opacity="0.200"/>
<circle cx="1104.2" cy="289.0" r="7.8" fill-opacity="0.200"/>
<circle cx="1052.5" cy="289.0" r="7.8" fill-opacity="0.200"/>
<circle cx="1068.7" cy="290.0" r="7.8" fill-opacity="0.200"/>
<circle cx="1078.1" cy="289.3" r="7.8" fill-opacity="0.200"/>
<circle cx="1091.6" cy="289.7" r="7.8" fill-opacity="0.200"/>
<circle cx="1103.6" cy="289.2" r="7.8" fill-opacity="0.200"/>
<circle cx="1051.4" cy="290.1" r="7.8" fill-opacity="0.200"/>
<circle cx="1063.9" cy="290.4" r="7.8" fill-opacity="0.200"/>
<circle cx="1074.1" cy="290.4" r="7.8" fill-opacity="0.200"/>
<circle cx="1088.2" cy="290.5" r="7.8" fill-opacity="0.200"/>
<circle cx="1099.0" cy="290.6" r="7.8" fill-opacity="0.200"/>
<circle cx="1107.6" cy="290.9" r="7.8" fill-opacity="0.200"/>
<circle cx="1053.7" cy="291.0" r="7.8" fill-opacity="0.200"/>
<circle cx="1068.4" cy="291.0" r="7.8" fill-opacity="0.200"/>
<circle cx="1080.1" cy="291.8" r="7.8" fill-opacity="0.200"/>
<circle cx="1094.3" cy="291.6" r="7.8" fill-opacity="0.200"/>
<circle cx="1110.8" cy="291.6" r="7.8" fill-opacity="0.200"/>
<circle cx="1049.8" cy="292.9" r="7.8" fill-opacity="0.200"/>
<circle cx="1062.5" cy="292.7" r="7.8" fill-opacity="0.200"/>
<circle cx="1078.5" cy="292.9" r="7.8" fill-opacity="0.200"/>
<circle cx="1092.4" cy="292.7" r="7.8" fill-opacity="0.200"/>
<circle cx="1101.7" cy="292.0" r="7.8" fill-opacity="0.200"/>
<circle cx="1055.7" cy="293.6" r="7.8" fill-opacity="0.200"/>
<circle cx="1071.4" cy="293.5" r="7.8" fill-opacity="0.200"/>
<circle cx="1078.8" cy="293.6" r="7.8" fill-opacity="0.200"/>
<circle cx="1095.5" cy="293.5" r="7.8" fill-opacity="0.200"/>
<circle cx="1105.0" cy="293.8" r="7.8" fill-opacity="0.200"/>
<circle cx="1060.3" cy="294.9" r="7.8" fill-opacity="0.200"/>
<circle cx="1071.9" cy="294.6" r="7.8" fill-opacity="0.200"/>
<circle cx="1079.7" cy="294.8" r="7.8" fill-opacity="0.200"/>
<circle cx="1089.7" cy="294.4" r="7.8" fill-opacity="0.200"/>
<circle cx="1101.4" cy="294.9" r="7.8" fill-opacity="0.200"/>
<circle cx="1056.2" cy="295.5" r="7.8" fill-opacity="0.200"/>
<circle cx="1067.1" cy="296.0" r="7.8" fill-opacity="0.200"/>
<circle cx="1076.4" cy="295.1" r="7.8" fill-opacity="0.200"/>
<circle cx="1087.1" cy="295.3" r="7.8" fill-opacity="0.200"/>
<circle cx="1102.3" cy="295.3" r="7.8" fill-opacity="0.200"/>
<circle cx="1062.6" cy="296.6" r="7.8" fill-opacity="0.200"/>
<circle cx="1073.4" cy="296.5" r="7.8" fill-opacity="0.200"/>
<circle cx="1088.9" cy="297.0" r="7.8" fill-opacity="0.200"/>
<circle cx="1102.3" cy="296.4" r="7.8" fill-opacity="0.200"/>
<circle cx="1061.2" cy="297.2" r="7.8" fill-opacity="0.200"/>
<circle cx="1072.4" cy="297.4" r="7.8" fill-opacity="0.200"/>
<circle cx="1083.9" cy="297.0" r="7.8" fill-opacity="0.200"/>
<circle cx="1101.0" cy="298.0" r="7.8" fill-opacity="0.200"/>
<circle cx="1063.8" cy="298.4" r="7.8" fill-opacity="0.200"/>
<circle cx="1078.2" cy="298.5" r="7.8" fill-opacity="0.200"/>
<circle cx="1083.6" cy="298.5" r="7.8" fill-opacity="0.200"/>
<circle cx="1095.6" cy="298.1" r="7.8" fill-opacity="0.200"/>
<circle cx="1060.1" cy="299.7" r="7.8" fill-opacity="0.200"/>
<circle cx="1078.1" cy="299.9" r="7.8" fill-opacity="0.200"/>
<circle cx="1079.4" cy="299.8" r="7.8" fill-opacity="0.200"/>
<circle cx="1095.5" cy="299.3" r="7.8" fill-opacity="0.200"/>
<circle cx="1068.4" cy="300.9" r="7.8" fill-opacity="0.200"/>
<circle cx="1078.7" cy="300.8" r="7.8" fill-opacity="0.200"/>
<circle cx="1091.8" cy="300.2" r="7.8" fill-opacity="0.200"/>
<circle cx="1065.7" cy="301.5" r="7.8" fill-opacity="0.200"/>
<circle cx="1070.8" cy="301.9" r="7.8" fill-opacity="0.200"/>
<circle cx="1085.9" cy="301.4" r="7.8" fill-opacity="0.200"/>
<circle cx="1093.4" cy="301.9" r="7.8" fill-opacity="0.200"/>
<circle cx="1062.2" cy="302.6" r="7.8" fill-opacity="0.200"/>
<circle cx="1074.0" cy="303.0" r="7.8" fill-opacity="0.200"/>
<circle cx="1094.1" cy="302.4" r="7.8" fill-opacity="0.200"/>
<circle cx="1067.8" cy="303.9" r="7.8" fill-opacity="0.200"/>
<circle cx="1079.7" cy="303.7" r="7.8" fill-opacity="0.200"/>
<circle cx="1089.4" cy="303.1" r="7.8" fill-opacity="0.200"/>
<circle cx="1065.6" cy="304.9" r="7.8" fill-opacity="0.200"/>
<circle cx="1072.3" cy="304.6" r="7.8" fill-opacity="0.200"/>
<circle cx="1084.7" cy="304.5" r="7.8" fill-opacity="0.200"/>
<circle cx="1089.6" cy="304.7" r="7.8" fill-opacity="0.200"/>
<circle cx="1068.9" cy="305.2" r="7.8" fill-opacity="0.200"/>
<circle cx="1078.3" cy="305.2" r="7.8" fill-opacity="0.200"/>
<circle cx="1085.5" cy="305.1" r="7.8" fill-opacity="0.200"/>
<circle cx="1077.5" cy="306.6" r="7.8" fill-opacity="0.200"/>
<circle cx="1081.5" cy="306.1" r="7.8" fill-opacity="0.200"/>
<circle cx="1071.0" cy="307.6" r="7.8" fill-opacity="0.200"/>
<circle cx="1077.3" cy="307.9" r="7.8" fill-opacity="0.200"/>
<circle cx="1090.4" cy="307.6" r="7.8" fill-opacity="0.200"/>
<circle cx="1070.7" cy="308.4" r="7.8" fill-opacity="0.200"/>
<circle cx="1081.2" cy="308.2" r="7.8" fill-opacity="0.200"/>
<circle cx="1083.4" cy="308.3" r="7.8" fill-opacity="0.200"/>
<circle cx="1069.7" cy="309.1" r="7.8" fill-opacity="0.200"/>
<circle cx="1076.8" cy="309.1" r="7.8" fill-opacity="0.200"/>
<circle cx="1083.3" cy="309.6" r="7.8" fill-opacity="0.200"/>
<circle cx="1068.6" cy="310.1" r="7.8" fill-opacity="0.200"/>
<circle cx="1081.3" cy="310.0" r="7.8" fill-opacity="0.200"/>
<circle cx="1070.0" cy="311.5" r="7.8" fill-opacity="0.200"/>
<circle cx="1088.9" cy="311.2" r="7.8" fill-opacity="0.200"/>
<circle cx="1070.3" cy="312.0" r="7.8" fill-opacity="0.200"/>
<circle cx="1081.0" cy="312.3" r="7.8" fill-opacity="0.200"/>
<circle cx="1087.6" cy="312.0" r="7.8" fill-opacity="0.200"/>
<circle cx="1077.2" cy="313.4" r="7.8" fill-opacity="0.200"/>
<circle cx="1081.2" cy="313.4" r="7.8" fill-opacity="0.200"/>
<circle cx="1073.8" cy="314.0" r="7.8" fill-opacity="0.200"/>
<circle cx="1085.0" cy="314.6" r="7.8" fill-opacity="0.200"/>
<circle cx="1073.7" cy="315.6" r="7.8" fill-opacity="0.200"/>
<circle cx="1082.7" cy="315.9" r="7.8" fill-opacity="0.200"/>
<circle cx="1072.2" cy="316.8" r="7.8" fill-opacity="0.200"/>
<circle cx="1081.0" cy="317.0" r="7.8" fill-opacity="0.200"/>
<circle cx="1076.4" cy="317.9" r="7.8" fill-opacity="0.200"/>
<circle cx="1083.6" cy="317.0" r="7.8" fill-opacity="0.200"/>
<circle cx="1078.4" cy="318.3" r="7.8" fill-opacity="0.200"/>
<circle cx="1079.1" cy="318.3" r="7.8" fill-opacity="0.200"/>
<circle cx="1076.3" cy="319.4" r="7.8" fill-opacity="0.200"/>
<circle cx="1081.5" cy="319.3" r="7.8" fill-opacity="0.200"/>
<circle cx="1074.0" cy="320.3" r="7.8" fill-opacity="0.200"/>
<circle cx="1081.7" cy="321.0" r="7.8" fill-opacity="0.200"/>
<circle cx="1073.8" cy="321.6" r="7.8" fill-opacity="0.200"/>
<circle cx="1079.4" cy="321.9" r="7.8" fill-opacity="0.200"/>
<circle cx="1083.4" cy="322.9" r="7.8" fill-opacity="0.200"/>
<circle cx="1078.7" cy="323.9" r="7.8" fill-opacity="0.200"/>
<circle cx="1082.6" cy="323.8" r="7.8" fill-opacity="0.200"/>
<circle cx="1075.2" cy="324.1" r="7.8" fill-opacity="0.200"/>
<circle cx="1078.0" cy="325.8" r="7.8" fill-opacity="0.200"/>
<circle cx="1082.3" cy="326.0" r="7.8" fill-opacity="0.200"/>
<circle cx="1081.5" cy="326.6" r="7.8" fill-opacity="0.200"/>
<circle cx="1076.8" cy="327.1" r="7.8" fill-opacity="0.200"/>
<circle cx="1079.4" cy="327.4" r="7.8" fill-opacity="0.200"/>
<circle cx="1078.7" cy="328.8" r="7.8" fill-opacity="0.200"/>
<circle cx="1078.6" cy="329.8" r="7.8" fill-opacity="0.200"/>
<circle cx="1078.9" cy="224.0" r="7.8" fill-opacity="0.200"/>
<circle cx="1078.9" cy="240.3" r="7.8" fill-opacity="0.200"/>
<circle cx="1078.9" cy="244.3" r="7.8" fill-opacity="0.360"/>
<path d="M1251.4,234.0 C1253.3,234.9 1254.1,237.3 1254.9,239.5 C1255.7,241.7 1255.4,244.3 1256.3,247.1 C1257.3,249.9 1258.3,253.7 1260.6,256.5 C1262.9,259.3 1266.5,261.5 1270.0,264.0 C1273.5,266.5 1279.2,269.3 1281.8,271.5 C1284.5,273.7 1285.0,275.4 1285.9,277.0 C1286.8,278.6 1287.1,279.1 1287.4,281.0 C1287.7,282.9 1288.2,286.7 1287.9,288.5 C1287.7,290.3 1286.9,290.8 1285.9,292.0 C1284.9,293.2 1284.4,293.8 1281.8,296.0 C1279.2,298.2 1273.6,302.6 1270.5,305.4 C1267.4,308.2 1265.4,310.2 1263.4,313.0 C1261.4,315.8 1259.9,319.3 1258.7,322.4 C1257.5,325.5 1256.9,327.1 1256.3,331.8 C1255.8,336.5 1255.6,344.3 1255.4,350.6 C1255.2,356.9 1255.7,365.2 1255.2,369.4 C1254.7,373.6 1254.5,374.9 1252.4,376.0 C1250.3,377.1 1244.5,377.1 1242.4,376.0 C1240.3,374.9 1240.1,373.6 1239.6,369.4 C1239.1,365.2 1239.6,356.9 1239.4,350.6 C1239.2,344.3 1239.0,336.5 1238.5,331.8 C1238.0,327.1 1237.3,325.5 1236.1,322.4 C1234.9,319.3 1233.4,315.8 1231.4,313.0 C1229.4,310.2 1227.4,308.2 1224.3,305.4 C1221.2,302.6 1215.6,298.2 1213.0,296.0 C1210.4,293.8 1209.9,293.2 1208.9,292.0 C1207.9,290.8 1207.2,290.3 1206.9,288.5 C1206.7,286.7 1207.1,282.9 1207.4,281.0 C1207.7,279.1 1208.0,278.6 1208.9,277.0 C1209.8,275.4 1210.3,273.7 1213.0,271.5 C1215.7,269.3 1221.3,266.5 1224.8,264.0 C1228.3,261.5 1231.9,259.3 1234.2,256.5 C1236.5,253.7 1237.5,249.9 1238.5,247.1 C1239.5,244.3 1239.1,241.7 1239.9,239.5 C1240.7,237.3 1241.5,234.9 1243.4,234.0 C1245.3,233.1 1249.5,233.1 1251.4,234.0Z" fill="#080808" filter="url(#b1)"/>
<circle cx="1246.9" cy="380.3" r="7.8" fill-opacity="0.200"/>
<circle cx="1247.4" cy="383.1" r="7.8" fill-opacity="0.200"/>
<circle cx="1247.7" cy="381.0" r="7.8" fill-opacity="0.200"/>
<circle cx="1247.7" cy="382.6" r="7.8" fill-opacity="0.200"/>
<circle cx="1247.7" cy="373.3" r="7.8" fill-opacity="0.200"/>
<circle cx="1246.8" cy="377.7" r="7.8" fill-opacity="0.200"/>
<circle cx="1247.0" cy="373.3" r="7.8" fill-opacity="0.200"/>
<circle cx="1247.4" cy="232.0" r="7.8" fill-opacity="0.200"/>
<circle cx="1247.4" cy="388.5" r="7.8" fill-opacity="0.360"/>
<circle cx="1247.4" cy="400.7" r="7.8" fill-opacity="0.360"/>
<circle cx="1247.4" cy="465.9" r="7.8" fill-opacity="0.200"/>
<path d="M1335.6,234.0 C1337.6,234.9 1338.8,237.0 1339.6,239.5 C1340.4,242.0 1339.6,246.2 1340.5,249.0 C1341.4,251.8 1342.6,253.7 1345.2,256.5 C1347.8,259.3 1352.7,262.8 1356.1,265.9 C1359.5,269.0 1363.2,272.9 1365.5,275.3 C1367.8,277.7 1368.6,278.4 1369.6,280.0 C1370.6,281.6 1371.5,283.2 1371.6,284.7 C1371.7,286.2 1371.3,287.4 1370.1,289.0 C1368.9,290.6 1367.2,291.7 1364.5,294.1 C1361.8,296.5 1357.5,300.4 1354.2,303.5 C1350.9,306.6 1346.9,309.9 1344.8,313.0 C1342.7,316.1 1342.3,319.3 1341.5,322.4 C1340.7,325.5 1340.4,324.0 1340.1,331.8 C1339.8,339.6 1340.0,362.5 1339.4,369.4 C1338.8,376.3 1338.7,372.4 1336.6,373.0 C1334.5,373.6 1328.7,373.6 1326.6,373.0 C1324.5,372.4 1324.4,376.3 1323.8,369.4 C1323.2,362.5 1323.4,339.6 1323.1,331.8 C1322.8,324.0 1322.5,325.5 1321.7,322.4 C1320.9,319.3 1320.5,316.1 1318.4,313.0 C1316.3,309.9 1312.3,306.6 1309.0,303.5 C1305.7,300.4 1301.3,296.5 1298.7,294.1 C1296.0,291.7 1294.3,290.6 1293.1,289.0 C1291.9,287.4 1291.5,286.2 1291.6,284.7 C1291.7,283.2 1292.6,281.6 1293.6,280.0 C1294.6,278.4 1295.4,277.7 1297.7,275.3 C1299.9,272.9 1303.7,269.0 1307.1,265.9 C1310.5,262.8 1315.4,259.3 1318.0,256.5 C1320.6,253.7 1321.8,251.8 1322.7,249.0 C1323.6,246.2 1322.8,242.0 1323.6,239.5 C1324.4,237.0 1325.6,234.9 1327.6,234.0 C1329.6,233.1 1333.6,233.1 1335.6,234.0Z" fill="#080808" filter="url(#b1)"/>
<circle cx="1331.1" cy="388.6" r="7.8" fill-opacity="0.200"/>
<circle cx="1331.8" cy="446.7" r="7.8" fill-opacity="0.200"/>
<circle cx="1332.2" cy="422.2" r="7.8" fill-opacity="0.200"/>
<circle cx="1331.9" cy="420.0" r="7.8" fill-opacity="0.200"/>
<circle cx="1332.3" cy="423.0" r="7.8" fill-opacity="0.200"/>
<circle cx="1331.6" cy="370.2" r="7.8" fill-opacity="0.200"/>
<circle cx="1331.7" cy="463.8" r="7.8" fill-opacity="0.200"/>
<circle cx="1332.0" cy="458.1" r="7.8" fill-opacity="0.200"/>
<circle cx="1331.4" cy="379.0" r="7.8" fill-opacity="0.200"/>
<circle cx="1332.0" cy="387.8" r="7.8" fill-opacity="0.200"/>
<circle cx="1332.4" cy="446.4" r="7.8" fill-opacity="0.200"/>
<circle cx="1330.9" cy="426.5" r="7.8" fill-opacity="0.200"/>
<circle cx="1330.8" cy="424.1" r="7.8" fill-opacity="0.200"/>
<circle cx="1331.7" cy="442.6" r="7.8" fill-opacity="0.200"/>
<circle cx="1331.5" cy="429.2" r="7.8" fill-opacity="0.200"/>
<circle cx="1330.9" cy="431.0" r="7.8" fill-opacity="0.200"/>
<circle cx="1332.1" cy="395.0" r="7.8" fill-opacity="0.200"/>
<circle cx="1331.0" cy="407.4" r="7.8" fill-opacity="0.200"/>
<circle cx="1332.0" cy="442.7" r="7.8" fill-opacity="0.200"/>
<circle cx="1331.5" cy="440.3" r="7.8" fill-opacity="0.200"/>
<circle cx="1331.3" cy="410.4" r="7.8" fill-opacity="0.200"/>
<circle cx="1331.0" cy="382.1" r="7.8" fill-opacity="0.200"/>
<circle cx="1331.8" cy="446.7" r="7.8" fill-opacity="0.200"/>
<circle cx="1331.0" cy="410.4" r="7.8" fill-opacity="0.200"/>
<circle cx="1332.2" cy="381.9" r="7.8" fill-opacity="0.200"/>
<circle cx="1331.7" cy="464.9" r="7.8" fill-opacity="0.200"/>
<circle cx="1330.9" cy="380.1" r="7.8" fill-opacity="0.200"/>
<circle cx="1331.2" cy="404.5" r="7.8" fill-opacity="0.200"/>
<circle cx="1331.7" cy="424.4" r="7.8" fill-opacity="0.200"/>
<circle cx="1330.9" cy="458.9" r="7.8" fill-opacity="0.200"/>
<circle cx="1332.1" cy="370.6" r="7.8" fill-opacity="0.200"/>
<circle cx="1331.4" cy="434.8" r="7.8" fill-opacity="0.200"/>
<circle cx="1332.2" cy="459.8" r="7.8" fill-opacity="0.200"/>
<circle cx="1332.3" cy="398.2" r="7.8" fill-opacity="0.200"/>
<circle cx="1332.2" cy="403.2" r="7.8" fill-opacity="0.200"/>
<circle cx="1331.3" cy="421.2" r="7.8" fill-opacity="0.200"/>
<circle cx="1331.3" cy="383.2" r="7.8" fill-opacity="0.200"/>
<circle cx="1331.9" cy="452.0" r="7.8" fill-opacity="0.200"/>
<circle cx="1331.3" cy="435.1" r="7.8" fill-opacity="0.200"/>
<circle cx="1331.8" cy="439.0" r="7.8" fill-opacity="0.200"/>
<circle cx="1331.1" cy="427.2" r="7.8" fill-opacity="0.200"/>
<circle cx="1332.2" cy="422.8" r="7.8" fill-opacity="0.200"/>
<circle cx="1330.8" cy="370.5" r="7.8" fill-opacity="0.200"/>
<circle cx="1331.8" cy="433.5" r="7.8" fill-opacity="0.200"/>
<circle cx="1331.0" cy="409.1" r="7.8" fill-opacity="0.200"/>
<circle cx="1330.9" cy="462.0" r="7.8" fill-opacity="0.200"/>
<circle cx="1331.7" cy="370.2" r="7.8" fill-opacity="0.200"/>
<circle cx="1330.9" cy="368.8" r="7.8" fill-opacity="0.200"/>
<circle cx="1331.5" cy="369.0" r="7.8" fill-opacity="0.200"/>
<circle cx="1331.8" cy="379.9" r="7.8" fill-opacity="0.200"/>
<circle cx="1331.6" cy="400.7" r="7.8" fill-opacity="0.200"/>
<circle cx="1331.5" cy="471.8" r="7.8" fill-opacity="0.200"/>
<circle cx="1331.5" cy="494.1" r="7.8" fill-opacity="0.200"/>
<circle cx="1332.2" cy="495.2" r="7.8" fill-opacity="0.200"/>
<circle cx="1331.3" cy="492.0" r="7.8" fill-opacity="0.200"/>
<circle cx="1332.4" cy="493.7" r="7.8" fill-opacity="0.200"/>
<circle cx="1331.6" cy="471.0" r="7.8" fill-opacity="0.200"/>
<circle cx="1331.9" cy="499.6" r="7.8" fill-opacity="0.200"/>
<circle cx="1331.6" cy="483.7" r="7.8" fill-opacity="0.200"/>
<circle cx="1332.1" cy="472.7" r="7.8" fill-opacity="0.200"/>
<circle cx="1332.2" cy="493.5" r="7.8" fill-opacity="0.200"/>
<circle cx="1331.0" cy="484.7" r="7.8" fill-opacity="0.200"/>
<circle cx="1331.7" cy="480.0" r="7.8" fill-opacity="0.200"/>
<circle cx="1331.6" cy="473.3" r="7.8" fill-opacity="0.200"/>
<circle cx="1331.6" cy="505.7" r="7.8" fill-opacity="0.200"/>
<circle cx="1331.0" cy="501.6" r="7.8" fill-opacity="0.200"/>
<circle cx="1331.2" cy="511.7" r="7.8" fill-opacity="0.200"/>
<circle cx="1331.8" cy="510.3" r="7.8" fill-opacity="0.200"/>
<circle cx="1331.4" cy="500.5" r="7.8" fill-opacity="0.200"/>
<circle cx="1331.1" cy="511.4" r="7.8" fill-opacity="0.200"/>
<circle cx="1331.4" cy="518.2" r="7.8" fill-opacity="0.200"/>
<circle cx="1331.5" cy="516.0" r="7.8" fill-opacity="0.200"/>
<circle cx="1331.2" cy="515.6" r="7.8" fill-opacity="0.200"/>
<circle cx="1331.1" cy="530.6" r="7.8" fill-opacity="0.200"/>
<circle cx="1331.0" cy="530.9" r="7.8" fill-opacity="0.200"/>
<circle cx="1331.0" cy="527.0" r="7.8" fill-opacity="0.200"/>
<circle cx="1332.0" cy="526.2" r="7.8" fill-opacity="0.200"/>
<circle cx="1332.0" cy="528.3" r="7.8" fill-opacity="0.200"/>
<circle cx="1331.7" cy="522.9" r="7.8" fill-opacity="0.200"/>
<circle cx="1332.3" cy="530.7" r="7.8" fill-opacity="0.200"/>
<circle cx="1331.1" cy="527.8" r="7.8" fill-opacity="0.200"/>
<circle cx="1331.6" cy="531.9" r="7.8" fill-opacity="0.200"/>
<circle cx="1331.9" cy="534.1" r="7.8" fill-opacity="0.200"/>
<circle cx="1331.4" cy="550.6" r="7.8" fill-opacity="0.200"/>
<circle cx="1332.3" cy="551.5" r="7.8" fill-opacity="0.200"/>
<circle cx="1331.1" cy="532.3" r="7.8" fill-opacity="0.200"/>
<circle cx="1331.6" cy="536.4" r="7.8" fill-opacity="0.200"/>
<circle cx="1330.9" cy="533.4" r="7.8" fill-opacity="0.200"/>
<circle cx="1331.8" cy="535.3" r="7.8" fill-opacity="0.200"/>
<circle cx="1332.2" cy="532.0" r="7.8" fill-opacity="0.200"/>
<circle cx="1330.9" cy="548.5" r="7.8" fill-opacity="0.200"/>
<circle cx="1331.0" cy="547.7" r="7.8" fill-opacity="0.200"/>
<circle cx="1331.3" cy="564.4" r="7.8" fill-opacity="0.200"/>
<circle cx="1331.3" cy="574.5" r="7.8" fill-opacity="0.200"/>
<circle cx="1331.4" cy="562.7" r="7.8" fill-opacity="0.200"/>
<circle cx="1332.1" cy="560.0" r="7.8" fill-opacity="0.200"/>
<circle cx="1331.2" cy="569.9" r="7.8" fill-opacity="0.200"/>
<circle cx="1331.3" cy="561.3" r="7.8" fill-opacity="0.200"/>
<circle cx="1331.5" cy="569.7" r="7.8" fill-opacity="0.200"/>
<circle cx="1331.9" cy="567.3" r="7.8" fill-opacity="0.200"/>
<circle cx="1331.8" cy="558.2" r="7.8" fill-opacity="0.200"/>
<circle cx="1332.0" cy="568.3" r="7.8" fill-opacity="0.200"/>
<circle cx="1330.8" cy="572.6" r="7.8" fill-opacity="0.200"/>
<circle cx="1331.2" cy="564.0" r="7.8" fill-opacity="0.200"/>
<circle cx="1331.4" cy="559.3" r="7.8" fill-opacity="0.200"/>
<circle cx="1332.0" cy="591.0" r="7.8" fill-opacity="0.200"/>
<circle cx="1331.8" cy="579.9" r="7.8" fill-opacity="0.200"/>
<circle cx="1332.3" cy="580.0" r="7.8" fill-opacity="0.200"/>
<circle cx="1331.4" cy="590.4" r="7.8" fill-opacity="0.200"/>
<circle cx="1331.1" cy="587.6" r="7.8" fill-opacity="0.200"/>
<circle cx="1332.3" cy="579.5" r="7.8" fill-opacity="0.200"/>
<circle cx="1332.3" cy="591.4" r="7.8" fill-opacity="0.200"/>
<circle cx="1331.4" cy="583.3" r="7.8" fill-opacity="0.200"/>
<circle cx="1330.9" cy="596.5" r="7.8" fill-opacity="0.200"/>
<circle cx="1331.5" cy="602.0" r="7.8" fill-opacity="0.200"/>
<circle cx="1331.6" cy="213.2" r="7.8" fill-opacity="0.200"/>
<circle cx="1331.6" cy="229.0" r="7.8" fill-opacity="0.200"/>
<circle cx="1331.6" cy="233.0" r="7.8" fill-opacity="0.200"/>
<path d="M1419.5,243.0 C1421.4,244.0 1422.2,246.8 1423.0,249.0 C1423.8,251.2 1423.1,254.3 1424.4,256.5 C1425.7,258.7 1427.9,259.9 1431.0,262.1 C1434.1,264.3 1439.6,267.5 1442.8,269.7 C1446.0,271.9 1448.0,273.6 1449.9,275.3 C1451.8,277.0 1453.1,278.4 1454.0,280.0 C1454.9,281.6 1455.4,283.3 1455.5,284.7 C1455.6,286.1 1455.2,287.2 1454.5,288.5 C1453.8,289.8 1453.9,290.3 1451.3,292.2 C1448.7,294.1 1442.5,297.0 1439.0,299.8 C1435.5,302.6 1432.4,305.4 1430.1,309.2 C1427.8,313.0 1425.9,317.1 1424.9,322.4 C1423.9,327.7 1424.2,335.6 1424.0,341.2 C1423.8,346.8 1424.1,353.1 1423.5,356.2 C1422.9,359.3 1422.7,359.4 1420.5,360.0 C1418.3,360.6 1412.7,360.6 1410.5,360.0 C1408.3,359.4 1408.1,359.3 1407.5,356.2 C1406.9,353.1 1407.2,346.8 1407.0,341.2 C1406.8,335.6 1407.1,327.7 1406.1,322.4 C1405.1,317.1 1403.2,313.0 1400.9,309.2 C1398.6,305.4 1395.5,302.6 1392.0,299.8 C1388.5,297.0 1382.3,294.1 1379.7,292.2 C1377.1,290.3 1377.2,289.8 1376.5,288.5 C1375.8,287.2 1375.4,286.1 1375.5,284.7 C1375.6,283.3 1376.1,281.6 1377.0,280.0 C1377.9,278.4 1379.2,277.0 1381.1,275.3 C1383.0,273.6 1385.0,271.9 1388.2,269.7 C1391.4,267.5 1396.9,264.3 1400.0,262.1 C1403.1,259.9 1405.3,258.7 1406.6,256.5 C1407.9,254.3 1407.2,251.2 1408.0,249.0 C1408.8,246.8 1409.6,244.0 1411.5,243.0 C1413.4,242.0 1417.6,242.0 1419.5,243.0Z" fill="#080808" filter="url(#b1)"/>
<circle cx="1416.0" cy="234.2" r="7.8" fill-opacity="0.200"/>
<circle cx="1415.1" cy="234.3" r="7.8" fill-opacity="0.200"/>
<circle cx="1416.3" cy="227.4" r="7.8" fill-opacity="0.200"/>
<circle cx="1415.0" cy="234.3" r="7.8" fill-opacity="0.200"/>
<circle cx="1415.5" cy="244.1" r="7.8" fill-opacity="0.200"/>
<circle cx="1415.7" cy="243.7" r="7.8" fill-opacity="0.200"/>
<circle cx="1415.9" cy="243.3" r="7.8" fill-opacity="0.200"/>
<circle cx="1414.8" cy="240.7" r="7.8" fill-opacity="0.200"/>
<circle cx="1416.3" cy="239.2" r="7.8" fill-opacity="0.200"/>
<circle cx="1415.3" cy="241.5" r="7.8" fill-opacity="0.200"/>
<circle cx="1415.5" cy="242.0" r="7.8" fill-opacity="0.200"/>
<circle cx="1415.3" cy="387.8" r="7.8" fill-opacity="0.200"/>
<circle cx="1415.8" cy="384.9" r="7.8" fill-opacity="0.200"/>
<circle cx="1414.9" cy="359.7" r="7.8" fill-opacity="0.200"/>
<circle cx="1415.0" cy="354.9" r="7.8" fill-opacity="0.200"/>
<circle cx="1416.0" cy="387.1" r="7.8" fill-opacity="0.200"/>
<circle cx="1415.7" cy="378.4" r="7.8" fill-opacity="0.200"/>
<circle cx="1415.5" cy="373.1" r="7.8" fill-opacity="0.200"/>
<circle cx="1414.9" cy="379.9" r="7.8" fill-opacity="0.200"/>
<circle cx="1415.7" cy="369.4" r="7.8" fill-opacity="0.200"/>
<circle cx="1416.3" cy="383.1" r="7.8" fill-opacity="0.200"/>
<circle cx="1416.0" cy="384.5" r="7.8" fill-opacity="0.200"/>
<circle cx="1415.9" cy="382.3" r="7.8" fill-opacity="0.200"/>
<circle cx="1415.8" cy="382.5" r="7.8" fill-opacity="0.200"/>
<circle cx="1415.4" cy="360.5" r="7.8" fill-opacity="0.200"/>
<circle cx="1415.7" cy="374.9" r="7.8" fill-opacity="0.200"/>
<circle cx="1416.1" cy="388.5" r="7.8" fill-opacity="0.200"/>
<circle cx="1415.3" cy="374.0" r="7.8" fill-opacity="0.200"/>
<circle cx="1416.2" cy="363.7" r="7.8" fill-opacity="0.200"/>
<circle cx="1416.2" cy="389.9" r="7.8" fill-opacity="0.200"/>
<circle cx="1415.6" cy="396.8" r="7.8" fill-opacity="0.200"/>
<circle cx="1415.7" cy="401.9" r="7.8" fill-opacity="0.200"/>
<circle cx="1415.2" cy="392.8" r="7.8" fill-opacity="0.200"/>
<circle cx="1414.8" cy="408.7" r="7.8" fill-opacity="0.200"/>
<circle cx="1414.7" cy="408.2" r="7.8" fill-opacity="0.200"/>
<circle cx="1414.9" cy="409.3" r="7.8" fill-opacity="0.200"/>
<circle cx="1416.1" cy="423.2" r="7.8" fill-opacity="0.200"/>
<circle cx="1414.9" cy="408.5" r="7.8" fill-opacity="0.200"/>
<circle cx="1415.7" cy="411.3" r="7.8" fill-opacity="0.200"/>
<circle cx="1415.9" cy="411.8" r="7.8" fill-opacity="0.200"/>
<circle cx="1415.3" cy="425.1" r="7.8" fill-opacity="0.200"/>
<circle cx="1415.9" cy="447.1" r="7.8" fill-opacity="0.200"/>
<circle cx="1414.9" cy="410.0" r="7.8" fill-opacity="0.200"/>
<circle cx="1415.1" cy="412.5" r="7.8" fill-opacity="0.200"/>
<circle cx="1415.4" cy="444.7" r="7.8" fill-opacity="0.200"/>
<circle cx="1415.3" cy="443.7" r="7.8" fill-opacity="0.200"/>
<circle cx="1415.2" cy="441.0" r="7.8" fill-opacity="0.200"/>
<circle cx="1415.4" cy="417.6" r="7.8" fill-opacity="0.200"/>
<circle cx="1416.0" cy="419.4" r="7.8" fill-opacity="0.200"/>
<circle cx="1415.6" cy="414.8" r="7.8" fill-opacity="0.200"/>
<circle cx="1415.4" cy="405.6" r="7.8" fill-opacity="0.200"/>
<circle cx="1416.0" cy="442.2" r="7.8" fill-opacity="0.200"/>
<circle cx="1415.5" cy="417.7" r="7.8" fill-opacity="0.200"/>
<circle cx="1415.1" cy="443.4" r="7.8" fill-opacity="0.200"/>
<circle cx="1415.7" cy="451.6" r="7.8" fill-opacity="0.200"/>
<circle cx="1416.1" cy="409.6" r="7.8" fill-opacity="0.200"/>
<circle cx="1415.0" cy="447.4" r="7.8" fill-opacity="0.200"/>
<circle cx="1415.9" cy="409.8" r="7.8" fill-opacity="0.200"/>
<circle cx="1415.3" cy="427.5" r="7.8" fill-opacity="0.200"/>
<circle cx="1414.8" cy="437.9" r="7.8" fill-opacity="0.200"/>
<circle cx="1415.6" cy="443.3" r="7.8" fill-opacity="0.200"/>
<circle cx="1415.6" cy="455.7" r="7.8" fill-opacity="0.200"/>
<circle cx="1414.7" cy="459.6" r="7.8" fill-opacity="0.200"/>
<circle cx="1416.1" cy="475.5" r="7.8" fill-opacity="0.200"/>
<circle cx="1414.9" cy="469.9" r="7.8" fill-opacity="0.200"/>
<circle cx="1415.9" cy="467.4" r="7.8" fill-opacity="0.200"/>
<circle cx="1415.1" cy="464.6" r="7.8" fill-opacity="0.200"/>
<circle cx="1415.9" cy="477.0" r="7.8" fill-opacity="0.200"/>
<circle cx="1416.2" cy="475.5" r="7.8" fill-opacity="0.200"/>
<circle cx="1416.3" cy="467.4" r="7.8" fill-opacity="0.200"/>
<circle cx="1414.9" cy="467.2" r="7.8" fill-opacity="0.200"/>
<circle cx="1416.1" cy="468.0" r="7.8" fill-opacity="0.200"/>
<circle cx="1416.2" cy="486.5" r="7.8" fill-opacity="0.200"/>
<circle cx="1415.2" cy="486.9" r="7.8" fill-opacity="0.200"/>
<circle cx="1415.6" cy="483.1" r="7.8" fill-opacity="0.200"/>
<circle cx="1414.9" cy="500.9" r="7.8" fill-opacity="0.200"/>
<circle cx="1415.6" cy="509.8" r="7.8" fill-opacity="0.200"/>
<circle cx="1415.8" cy="503.0" r="7.8" fill-opacity="0.200"/>
<circle cx="1414.9" cy="490.4" r="7.8" fill-opacity="0.200"/>
<circle cx="1415.5" cy="491.3" r="7.8" fill-opacity="0.200"/>
<circle cx="1415.3" cy="502.6" r="7.8" fill-opacity="0.200"/>
<circle cx="1414.8" cy="503.4" r="7.8" fill-opacity="0.200"/>
<circle cx="1415.0" cy="535.2" r="7.8" fill-opacity="0.200"/>
<circle cx="1415.6" cy="531.6" r="7.8" fill-opacity="0.200"/>
<circle cx="1415.3" cy="525.7" r="7.8" fill-opacity="0.200"/>
<circle cx="1415.3" cy="526.4" r="7.8" fill-opacity="0.200"/>
<circle cx="1415.5" cy="524.1" r="7.8" fill-opacity="0.200"/>
<circle cx="1416.2" cy="538.6" r="7.8" fill-opacity="0.200"/>
<circle cx="1415.8" cy="531.0" r="7.8" fill-opacity="0.200"/>
<circle cx="1416.2" cy="518.0" r="7.8" fill-opacity="0.200"/>
<circle cx="1416.3" cy="539.3" r="7.8" fill-opacity="0.200"/>
<circle cx="1415.5" cy="512.2" r="7.8" fill-opacity="0.200"/>
<circle cx="1414.9" cy="527.1" r="7.8" fill-opacity="0.200"/>
<circle cx="1415.1" cy="537.4" r="7.8" fill-opacity="0.200"/>
<circle cx="1415.5" cy="517.2" r="7.8" fill-opacity="0.200"/>
<circle cx="1415.2" cy="542.1" r="7.8" fill-opacity="0.200"/>
<circle cx="1415.4" cy="547.1" r="7.8" fill-opacity="0.200"/>
<circle cx="1415.0" cy="548.0" r="7.8" fill-opacity="0.200"/>
<circle cx="1415.0" cy="558.9" r="7.8" fill-opacity="0.200"/>
<circle cx="1416.3" cy="564.8" r="7.8" fill-opacity="0.200"/>
<circle cx="1415.5" cy="592.4" r="7.8" fill-opacity="0.200"/>
<circle cx="1415.6" cy="558.5" r="7.8" fill-opacity="0.200"/>
<circle cx="1416.0" cy="565.4" r="7.8" fill-opacity="0.200"/>
<circle cx="1415.2" cy="563.0" r="7.8" fill-opacity="0.200"/>
<circle cx="1415.8" cy="569.1" r="7.8" fill-opacity="0.200"/>
<circle cx="1415.0" cy="588.4" r="7.8" fill-opacity="0.200"/>
<circle cx="1415.5" cy="591.1" r="7.8" fill-opacity="0.200"/>
<circle cx="1414.9" cy="564.5" r="7.8" fill-opacity="0.200"/>
<circle cx="1416.1" cy="576.2" r="7.8" fill-opacity="0.200"/>
<circle cx="1414.8" cy="558.1" r="7.8" fill-opacity="0.200"/>
<circle cx="1416.1" cy="553.5" r="7.8" fill-opacity="0.200"/>
<circle cx="1416.0" cy="574.9" r="7.8" fill-opacity="0.200"/>
<circle cx="1415.7" cy="593.7" r="7.8" fill-opacity="0.200"/>
<circle cx="1415.0" cy="584.1" r="7.8" fill-opacity="0.200"/>
<circle cx="1416.2" cy="585.6" r="7.8" fill-opacity="0.200"/>
<circle cx="1416.2" cy="567.0" r="7.8" fill-opacity="0.200"/>
<circle cx="1415.6" cy="593.1" r="7.8" fill-opacity="0.200"/>
<circle cx="1414.7" cy="555.5" r="7.8" fill-opacity="0.200"/>
<circle cx="1416.3" cy="584.7" r="7.8" fill-opacity="0.200"/>
<circle cx="1415.9" cy="579.8" r="7.8" fill-opacity="0.200"/>
<circle cx="1415.5" cy="589.8" r="7.8" fill-opacity="0.200"/>
<circle cx="1414.7" cy="591.0" r="7.8" fill-opacity="0.200"/>
<circle cx="1415.5" cy="586.3" r="7.8" fill-opacity="0.200"/>
<circle cx="1414.8" cy="575.7" r="7.8" fill-opacity="0.200"/>
<circle cx="1416.2" cy="571.4" r="7.8" fill-opacity="0.200"/>
<circle cx="1415.6" cy="570.8" r="7.8" fill-opacity="0.200"/>
<circle cx="1415.5" cy="590.5" r="7.8" fill-opacity="0.200"/>
<circle cx="1415.8" cy="571.2" r="7.8" fill-opacity="0.200"/>
<circle cx="1416.3" cy="582.9" r="7.8" fill-opacity="0.200"/>
<circle cx="1415.5" cy="584.1" r="7.8" fill-opacity="0.200"/>
<circle cx="1415.0" cy="559.9" r="7.8" fill-opacity="0.200"/>
<circle cx="1414.9" cy="581.1" r="7.8" fill-opacity="0.200"/>
<circle cx="1415.5" cy="174.8" r="7.8" fill-opacity="0.200"/>
<circle cx="1415.5" cy="179.6" r="7.8" fill-opacity="0.200"/>
<circle cx="1415.5" cy="191.4" r="7.8" fill-opacity="0.200"/>
<circle cx="1415.5" cy="197.4" r="7.8" fill-opacity="0.200"/>
<circle cx="1415.5" cy="213.7" r="7.8" fill-opacity="0.200"/>
<circle cx="1415.5" cy="218.0" r="7.8" fill-opacity="0.200"/>
<circle cx="1415.5" cy="221.0" r="7.8" fill-opacity="0.200"/>
<circle cx="1415.5" cy="611.9" r="7.8" fill-opacity="0.200"/>
<circle cx="707.3" cy="198.0" r="7.8" fill-opacity="0.200"/>
<circle cx="693.1" cy="217.0" r="7.8" fill-opacity="0.200"/>
<circle cx="720.5" cy="217.9" r="7.8" fill-opacity="0.200"/>
<circle cx="680.0" cy="225.3" r="7.8" fill-opacity="0.200"/>
<circle cx="696.2" cy="222.2" r="7.8" fill-opacity="0.200"/>
<circle cx="710.3" cy="222.8" r="7.8" fill-opacity="0.200"/>
<circle cx="730.0" cy="225.6" r="7.8" fill-opacity="0.200"/>
<circle cx="672.6" cy="230.8" r="7.8" fill-opacity="0.200"/>
<circle cx="737.0" cy="234.8" r="7.8" fill-opacity="0.200"/>
<circle cx="683.3" cy="226.8" r="7.8" fill-opacity="0.200"/>
<circle cx="691.3" cy="228.1" r="7.8" fill-opacity="0.200"/>
<circle cx="705.4" cy="230.5" r="7.8" fill-opacity="0.200"/>
<circle cx="718.9" cy="225.6" r="7.8" fill-opacity="0.200"/>
<circle cx="723.2" cy="228.1" r="7.8" fill-opacity="0.200"/>
<circle cx="683.0" cy="242.2" r="7.8" fill-opacity="0.200"/>
<circle cx="688.2" cy="237.3" r="7.8" fill-opacity="0.200"/>
<circle cx="699.3" cy="237.9" r="7.8" fill-opacity="0.200"/>
<circle cx="711.6" cy="233.0" r="7.8" fill-opacity="0.200"/>
<circle cx="724.5" cy="236.7" r="7.8" fill-opacity="0.200"/>
<circle cx="696.8" cy="242.2" r="7.8" fill-opacity="0.200"/>
<circle cx="712.2" cy="248.3" r="7.8" fill-opacity="0.200"/>
<circle cx="724.5" cy="247.1" r="7.8" fill-opacity="0.200"/>
<circle cx="696.8" cy="256.3" r="7.8" fill-opacity="0.200"/>
<circle cx="711.0" cy="266.1" r="7.8" fill-opacity="0.200"/>
<circle cx="703.0" cy="271.6" r="7.8" fill-opacity="0.200"/>
<circle cx="706.0" cy="273.5" r="7.8" fill-opacity="0.200"/>
<circle cx="713.4" cy="239.1" r="7.8" fill-opacity="0.200"/>
<circle cx="718.9" cy="236.7" r="7.8" fill-opacity="0.200"/>
<circle cx="694.4" cy="229.3" r="7.8" fill-opacity="0.200"/>
<circle cx="701.7" cy="226.8" r="7.8" fill-opacity="0.200"/>
<circle cx="700.4" cy="301.4" r="7.8" fill-opacity="0.200"/>
<circle cx="711.6" cy="303.2" r="7.8" fill-opacity="0.200"/>
<circle cx="704.3" cy="315.5" r="7.8" fill-opacity="0.200"/>
<circle cx="698.6" cy="319.9" r="7.8" fill-opacity="0.200"/>
<circle cx="710.1" cy="318.4" r="7.8" fill-opacity="0.200"/>
<circle cx="713.8" cy="324.9" r="7.8" fill-opacity="0.200"/>
<circle cx="700.7" cy="329.3" r="7.8" fill-opacity="0.200"/>
<circle cx="694.9" cy="334.3" r="7.8" fill-opacity="0.200"/>
<circle cx="707.2" cy="332.2" r="7.8" fill-opacity="0.200"/>
<circle cx="702.9" cy="345.2" r="7.8" fill-opacity="0.200"/>
<circle cx="708.7" cy="345.2" r="7.8" fill-opacity="0.200"/>
<circle cx="713.8" cy="344.5" r="7.8" fill-opacity="0.200"/>
<circle cx="700.7" cy="357.5" r="7.8" fill-opacity="0.200"/>
<circle cx="708.7" cy="361.2" r="7.8" fill-opacity="0.200"/>
<circle cx="704.3" cy="387.2" r="7.8" fill-opacity="0.200"/>
<circle cx="705.8" cy="400.3" r="7.8" fill-opacity="0.200"/>
<circle cx="1166.3" cy="294.5" r="7.8" fill-opacity="0.200"/>
<circle cx="1159.1" cy="299.3" r="7.8" fill-opacity="0.200"/>
<circle cx="1153.5" cy="311.4" r="7.8" fill-opacity="0.200"/>
<circle cx="1163.2" cy="306.5" r="7.8" fill-opacity="0.200"/>
<circle cx="1172.4" cy="312.6" r="7.8" fill-opacity="0.200"/>
<circle cx="1160.3" cy="315.0" r="7.8" fill-opacity="0.200"/>
<circle cx="1167.5" cy="316.2" r="7.8" fill-opacity="0.200"/>
<circle cx="1165.1" cy="311.4" r="7.8" fill-opacity="0.200"/>
<circle cx="1158.4" cy="343.9" r="7.8" fill-opacity="0.200"/>
<circle cx="1169.5" cy="349.5" r="7.8" fill-opacity="0.200"/>
<circle cx="1160.3" cy="352.4" r="7.8" fill-opacity="0.200"/>
<circle cx="1164.6" cy="360.8" r="7.8" fill-opacity="0.200"/>
<circle cx="1156.0" cy="365.6" r="7.8" fill-opacity="0.200"/>
<circle cx="1170.4" cy="368.8" r="7.8" fill-opacity="0.200"/>
<circle cx="1161.5" cy="376.5" r="7.8" fill-opacity="0.200"/>
<circle cx="1165.6" cy="381.3" r="7.8" fill-opacity="0.200"/>
<circle cx="1156.0" cy="407.8" r="7.8" fill-opacity="0.200"/>
<circle cx="1160.8" cy="413.9" r="7.8" fill-opacity="0.200"/>
<circle cx="1169.9" cy="415.1" r="7.8" fill-opacity="0.200"/>
<circle cx="1150.7" cy="422.3" r="7.8" fill-opacity="0.200"/>
<circle cx="1163.9" cy="418.7" r="7.8" fill-opacity="0.200"/>
<circle cx="1176.0" cy="427.1" r="7.8" fill-opacity="0.200"/>
<circle cx="1166.3" cy="428.3" r="7.8" fill-opacity="0.200"/>
<circle cx="1154.3" cy="435.6" r="7.8" fill-opacity="0.200"/>
<circle cx="1157.9" cy="444.0" r="7.8" fill-opacity="0.200"/>
<circle cx="1165.1" cy="446.4" r="7.8" fill-opacity="0.200"/>
<circle cx="1172.4" cy="444.0" r="7.8" fill-opacity="0.200"/>
<circle cx="1150.7" cy="454.9" r="7.8" fill-opacity="0.200"/>
<circle cx="1151.9" cy="470.5" r="7.8" fill-opacity="0.200"/>
<circle cx="1159.1" cy="469.3" r="7.8" fill-opacity="0.200"/>
<circle cx="1167.5" cy="470.5" r="7.8" fill-opacity="0.200"/>
<circle cx="1173.6" cy="464.5" r="7.8" fill-opacity="0.200"/>
<circle cx="1171.2" cy="471.8" r="7.8" fill-opacity="0.200"/>
<circle cx="1144.6" cy="488.6" r="7.8" fill-opacity="0.200"/>
<circle cx="1154.3" cy="487.4" r="7.8" fill-opacity="0.200"/>
<circle cx="1162.7" cy="487.4" r="7.8" fill-opacity="0.200"/>
<circle cx="1159.1" cy="494.7" r="7.8" fill-opacity="0.200"/>
<circle cx="1172.4" cy="493.5" r="7.8" fill-opacity="0.200"/>
<circle cx="1180.8" cy="492.3" r="7.8" fill-opacity="0.200"/>
<circle cx="1150.7" cy="497.1" r="7.8" fill-opacity="0.200"/>
<circle cx="1157.9" cy="505.5" r="7.8" fill-opacity="0.200"/>
<circle cx="1166.3" cy="504.3" r="7.8" fill-opacity="0.200"/>
<circle cx="1176.0" cy="503.1" r="7.8" fill-opacity="0.200"/>
<circle cx="1149.4" cy="510.3" r="7.8" fill-opacity="0.200"/>
<circle cx="1177.2" cy="511.5" r="7.8" fill-opacity="0.200"/>
<circle cx="1160.3" cy="517.6" r="7.8" fill-opacity="0.200"/>
<circle cx="1168.7" cy="520.0" r="7.8" fill-opacity="0.200"/>
<circle cx="1154.3" cy="528.4" r="7.8" fill-opacity="0.200"/>
<circle cx="1169.9" cy="535.7" r="7.8" fill-opacity="0.200"/>
<circle cx="1157.9" cy="542.9" r="7.8" fill-opacity="0.200"/>
<circle cx="1149.4" cy="553.8" r="7.8" fill-opacity="0.200"/>
<circle cx="1162.7" cy="552.6" r="7.8" fill-opacity="0.200"/>
<circle cx="1176.7" cy="553.8" r="7.8" fill-opacity="0.200"/>
<circle cx="1161.5" cy="561.0" r="7.8" fill-opacity="0.200"/>
<circle cx="1151.9" cy="569.4" r="7.8" fill-opacity="0.200"/>
<circle cx="1160.3" cy="574.3" r="7.8" fill-opacity="0.200"/>
<circle cx="1172.4" cy="569.4" r="7.8" fill-opacity="0.200"/>
<circle cx="1177.2" cy="573.1" r="7.8" fill-opacity="0.200"/>
<circle cx="1145.8" cy="579.1" r="7.8" fill-opacity="0.200"/>
<circle cx="1179.6" cy="580.3" r="7.8" fill-opacity="0.200"/>
<circle cx="1155.5" cy="582.7" r="7.8" fill-opacity="0.200"/>
<circle cx="1165.1" cy="581.5" r="7.8" fill-opacity="0.200"/>
<circle cx="1147.0" cy="586.3" r="7.8" fill-opacity="0.200"/>
<circle cx="1173.6" cy="587.5" r="7.8" fill-opacity="0.200"/>
<circle cx="1151.9" cy="593.6" r="7.8" fill-opacity="0.200"/>
<circle cx="1163.9" cy="598.4" r="7.8" fill-opacity="0.200"/>
<circle cx="1136.2" cy="604.4" r="7.8" fill-opacity="0.200"/>
<circle cx="1188.0" cy="604.4" r="7.8" fill-opacity="0.200"/>
<circle cx="1160.3" cy="610.4" r="7.8" fill-opacity="0.200"/>
<circle cx="1131.4" cy="620.1" r="7.8" fill-opacity="0.200"/>
<circle cx="1144.6" cy="616.5" r="7.8" fill-opacity="0.200"/>
<circle cx="1151.9" cy="617.7" r="7.8" fill-opacity="0.200"/>
<circle cx="1177.2" cy="612.9" r="7.8" fill-opacity="0.200"/>
<circle cx="1184.4" cy="615.3" r="7.8" fill-opacity="0.200"/>
<circle cx="1191.7" cy="622.5" r="7.8" fill-opacity="0.200"/>
<circle cx="1133.8" cy="627.3" r="7.8" fill-opacity="0.200"/>
<circle cx="1141.0" cy="624.9" r="7.8" fill-opacity="0.200"/>
<circle cx="1148.2" cy="624.9" r="7.8" fill-opacity="0.200"/>
<circle cx="1157.9" cy="622.5" r="7.8" fill-opacity="0.200"/>
<circle cx="1169.9" cy="620.1" r="7.8" fill-opacity="0.200"/>
<circle cx="1172.4" cy="627.3" r="7.8" fill-opacity="0.200"/>
<circle cx="1179.6" cy="624.9" r="7.8" fill-opacity="0.200"/>
<circle cx="1185.6" cy="627.3" r="7.8" fill-opacity="0.200"/>
<circle cx="1192.9" cy="628.5" r="7.8" fill-opacity="0.200"/>
<circle cx="1136.2" cy="639.4" r="7.8" fill-opacity="0.200"/>
<circle cx="1144.6" cy="637.0" r="7.8" fill-opacity="0.200"/>
<circle cx="1155.5" cy="635.8" r="7.8" fill-opacity="0.200"/>
<circle cx="1165.1" cy="632.1" r="7.8" fill-opacity="0.200"/>
<circle cx="1174.8" cy="637.0" r="7.8" fill-opacity="0.200"/>
<circle cx="1183.2" cy="641.8" r="7.8" fill-opacity="0.200"/>
<circle cx="1143.4" cy="649.0" r="7.8" fill-opacity="0.200"/>
<circle cx="1156.7" cy="647.8" r="7.8" fill-opacity="0.200"/>
<circle cx="1167.5" cy="646.6" r="7.8" fill-opacity="0.200"/>
<circle cx="1180.8" cy="644.2" r="7.8" fill-opacity="0.200"/>
<circle cx="1154.3" cy="657.5" r="7.8" fill-opacity="0.200"/>
<circle cx="1162.7" cy="658.7" r="7.8" fill-opacity="0.200"/>
<circle cx="1172.4" cy="655.1" r="7.8" fill-opacity="0.200"/>
<circle cx="1150.7" cy="630.9" r="7.8" fill-opacity="0.200"/>
<circle cx="1162.7" cy="627.3" r="7.8" fill-opacity="0.200"/>
<circle cx="1130.1" cy="628.5" r="7.8" fill-opacity="0.200"/>
</g>
<line x1="115.0" y1="344.1" x2="552.4" y2="344.1" stroke="#FF0000" stroke-width="4.1" stroke-dasharray="4.05 11.02"/>
<text x="122.3" y="336.5" font-size="21.5" font-style="italic" fill="#FF0000">pos</text>
<text x="122.3" y="362.5" font-size="21.5" font-style="italic" fill="#FF0000">neg</text>
<line x1="571.5" y1="366.8" x2="1009.0" y2="366.8" stroke="#FF0000" stroke-width="4.1" stroke-dasharray="4.05 11.02"/>
<text x="579.0" y="359.3" font-size="21.5" font-style="italic" fill="#FF0000">pos</text>
<text x="579.0" y="384.9" font-size="21.5" font-style="italic" fill="#FF0000">neg</text>
<line x1="1028.0" y1="409.4" x2="1465.3" y2="409.4" stroke="#FF0000" stroke-width="4.1" stroke-dasharray="4.05 11.02"/>
<text x="1035.5" y="401.7" font-size="21.5" font-style="italic" fill="#FF0000">neg</text>
<text x="1035.5" y="427.6" font-size="21.5" font-style="italic" fill="#FF0000">pos</text>
<text x="333.8" y="34.2" font-size="31.5" text-anchor="middle" fill="#000">LN</text>
<text x="790.5" y="34.2" font-size="31.5" text-anchor="middle" fill="#000">LS</text>
<text x="1246.8" y="34.2" font-size="31.5" text-anchor="middle" fill="#000">PN</text>
<line x1="115.2" y1="53.0" x2="115.2" y2="854" stroke="#000" stroke-width="4"/>
<line x1="113.2" y1="852.0" x2="552.4" y2="852.0" stroke="#000" stroke-width="4"/>
<line x1="165.7" y1="854" x2="165.7" y2="861.6" stroke="#333333" stroke-width="3.6"/>
<text transform="translate(177.2,869.0) rotate(-90)" font-size="31.5" text-anchor="end" fill="#4D4D4D">pp</text>
<line x1="249.8" y1="854" x2="249.8" y2="861.6" stroke="#333333" stroke-width="3.6"/>
<text transform="translate(261.3,869.0) rotate(-90)" font-size="31.5" text-anchor="end" fill="#4D4D4D">cc</text>
<line x1="333.8" y1="854" x2="333.8" y2="861.6" stroke="#333333" stroke-width="3.6"/>
<text transform="translate(345.3,869.0) rotate(-90)" font-size="31.5" text-anchor="end" fill="#4D4D4D">15/3/20</text>
<line x1="417.9" y1="854" x2="417.9" y2="861.6" stroke="#333333" stroke-width="3.6"/>
<text transform="translate(429.4,869.0) rotate(-90)" font-size="31.5" text-anchor="end" fill="#4D4D4D">12/4/20</text>
<line x1="501.9" y1="854" x2="501.9" y2="861.6" stroke="#333333" stroke-width="3.6"/>
<text transform="translate(513.4,869.0) rotate(-90)" font-size="31.5" text-anchor="end" fill="#4D4D4D">17/5/20</text>
<line x1="571.9" y1="852.0" x2="1009.0" y2="852.0" stroke="#000" stroke-width="4"/>
<line x1="622.3" y1="854" x2="622.3" y2="861.6" stroke="#333333" stroke-width="3.6"/>
<text transform="translate(633.8,869.0) rotate(-90)" font-size="31.5" text-anchor="end" fill="#4D4D4D">pp</text>
<line x1="706.4" y1="854" x2="706.4" y2="861.6" stroke="#333333" stroke-width="3.6"/>
<text transform="translate(717.9,869.0) rotate(-90)" font-size="31.5" text-anchor="end" fill="#4D4D4D">cc</text>
<line x1="790.4" y1="854" x2="790.4" y2="861.6" stroke="#333333" stroke-width="3.6"/>
<text transform="translate(801.9,869.0) rotate(-90)" font-size="31.5" text-anchor="end" fill="#4D4D4D">15/3/20</text>
<line x1="874.5" y1="854" x2="874.5" y2="861.6" stroke="#333333" stroke-width="3.6"/>
<text transform="translate(886.0,869.0) rotate(-90)" font-size="31.5" text-anchor="end" fill="#4D4D4D">12/4/20</text>
<line x1="958.5" y1="854" x2="958.5" y2="861.6" stroke="#333333" stroke-width="3.6"/>
<text transform="translate(970.0,869.0) rotate(-90)" font-size="31.5" text-anchor="end" fill="#4D4D4D">17/5/20</text>
<line x1="1028.2" y1="852.0" x2="1465.3" y2="852.0" stroke="#000" stroke-width="4"/>
<line x1="1078.6" y1="854" x2="1078.6" y2="861.6" stroke="#333333" stroke-width="3.6"/>
<text transform="translate(1090.1,869.0) rotate(-90)" font-size="31.5" text-anchor="end" fill="#4D4D4D">pp</text>
<line x1="1162.7" y1="854" x2="1162.7" y2="861.6" stroke="#333333" stroke-width="3.6"/>
<text transform="translate(1174.2,869.0) rotate(-90)" font-size="31.5" text-anchor="end" fill="#4D4D4D">cc</text>
<line x1="1246.7" y1="854" x2="1246.7" y2="861.6" stroke="#333333" stroke-width="3.6"/>
<text transform="translate(1258.2,869.0) rotate(-90)" font-size="31.5" text-anchor="end" fill="#4D4D4D">15/3/20</text>
<line x1="1330.8" y1="854" x2="1330.8" y2="861.6" stroke="#333333" stroke-width="3.6"/>
<text transform="translate(1342.3,869.0) rotate(-90)" font-size="31.5" text-anchor="end" fill="#4D4D4D">12/4/20</text>
<line x1="1414.8" y1="854" x2="1414.8" y2="861.6" stroke="#333333" stroke-width="3.6"/>
<text transform="translate(1426.3,869.0) rotate(-90)" font-size="31.5" text-anchor="end" fill="#4D4D4D">17/5/20</text>
<line x1="105.5" y1="142.9" x2="114" y2="142.9" stroke="#333333" stroke-width="3.6"/>
<text x="51.0" y="158.4" font-size="31.5" fill="#4D4D4D">10</text>
<text x="86.0" y="142.4" font-size="22" fill="#4D4D4D">6</text>
<line x1="105.5" y1="287.0" x2="114" y2="287.0" stroke="#333333" stroke-width="3.6"/>
<text x="51.0" y="302.5" font-size="31.5" fill="#4D4D4D">10</text>
<text x="86.0" y="286.5" font-size="22" fill="#4D4D4D">5</text>
<line x1="105.5" y1="431.1" x2="114" y2="431.1" stroke="#333333" stroke-width="3.6"/>
<text x="51.0" y="446.6" font-size="31.5" fill="#4D4D4D">10</text>
<text x="86.0" y="430.6" font-size="22" fill="#4D4D4D">4</text>
<line x1="105.5" y1="575.2" x2="114" y2="575.2" stroke="#333333" stroke-width="3.6"/>
<text x="51.0" y="590.7" font-size="31.5" fill="#4D4D4D">10</text>
<text x="86.0" y="574.7" font-size="22" fill="#4D4D4D">3</text>
<line x1="105.5" y1="719.3" x2="114" y2="719.3" stroke="#333333" stroke-width="3.6"/>
<text x="51.0" y="734.8" font-size="31.5" fill="#4D4D4D">10</text>
<text x="86.0" y="718.8" font-size="22" fill="#4D4D4D">2</text>
<text transform="translate(32.8,452.3) rotate(-90)" font-size="38.9" text-anchor="middle" fill="#000">RLU/s</text>
<text x="-1" y="27" font-size="50" font-weight="bold" fill="#000">a</text>
<text x="-0.4" y="1049.6" font-size="50" font-weight="bold" fill="#000">b</text>
<clipPath id="cpb"><rect x="103.4" y="1000" width="620" height="563"/></clipPath><g clip-path="url(#cpb)">
<circle cx="227.3" cy="1326.1" r="27.9" fill="#000" fill-opacity="0.3"/>
<circle cx="190.2" cy="1356.5" r="22.5" fill="#000" fill-opacity="0.3"/>
<circle cx="307.9" cy="1344.8" r="23.4" fill="#000" fill-opacity="0.3"/>
<circle cx="212.7" cy="1413.9" r="30.2" fill="#000" fill-opacity="0.3"/>
<circle cx="225.7" cy="1445.5" r="22.7" fill="#000" fill-opacity="0.3"/>
<circle cx="250.5" cy="1428.6" r="16.4" fill="#000" fill-opacity="0.3"/>
<circle cx="265.6" cy="1441.0" r="23.4" fill="#000" fill-opacity="0.3"/>
<circle cx="143.9" cy="1486.6" r="24.2" fill="#000" fill-opacity="0.3"/>
<circle cx="192.6" cy="1484.2" r="25.3" fill="#000" fill-opacity="0.3"/>
<circle cx="195.0" cy="1493.3" r="31.0" fill="#000" fill-opacity="0.3"/>
<circle cx="131.8" cy="1519.3" r="31.5" fill="#000" fill-opacity="0.3"/>
<circle cx="205.3" cy="1515.6" r="25.3" fill="#000" fill-opacity="0.3"/>
<circle cx="185.2" cy="1539.3" r="19.2" fill="#000" fill-opacity="0.3"/>
<circle cx="296.0" cy="1219.9" r="18.9" fill="#000" fill-opacity="0.3"/>
<circle cx="688.2" cy="1039.1" r="20.0" fill="#000" fill-opacity="0.3"/>
<circle cx="667.3" cy="1041.6" r="14.0" fill="#000" fill-opacity="0.3"/>
<circle cx="542.3" cy="1537.4" r="6.3" fill="#000" fill-opacity="0.3"/>
</g>
<line x1="664.1" y1="1080.4" x2="667.3" y2="1041.6" stroke="#000" stroke-width="3.2"/>
<line x1="237.4" y1="1381.7" x2="212.7" y2="1414.6" stroke="#000" stroke-width="3.2"/>
<line x1="160.9" y1="1429.7" x2="192.4" y2="1478.1" stroke="#000" stroke-width="3.2"/>
<line x1="231.8" y1="1508.5" x2="195.8" y2="1492.7" stroke="#000" stroke-width="3.2"/>
<line x1="325.2" y1="1538.9" x2="205.9" y2="1515.2" stroke="#000" stroke-width="3.2"/>
<text x="220.0" y="1314.1" font-size="32.0" fill="#000">HDF</text>
<text x="127.2" y="1340.2" font-size="32.0" fill="#000">CVL</text>
<text x="214.8" y="1375.7" font-size="32.0" fill="#000">PAC</text>
<text x="319.9" y="1375.7" font-size="32.0" fill="#000">ARA</text>
<text x="118.2" y="1422.9" font-size="32.0" fill="#000">OCC</text>
<text x="263.6" y="1424.2" font-size="32.0" fill="#000">COR</text>
<text x="115.8" y="1471.5" font-size="32.0" fill="#000">BRE</text>
<text x="177.4" y="1471.3" font-size="32.0" fill="#000">PDL</text>
<text x="277.8" y="1472.5" font-size="32.0" fill="#000">NOR</text>
<text x="141.4" y="1521.7" font-size="32.0" fill="#000">MAR</text>
<text x="239.2" y="1520.6" font-size="32.0" fill="#000">NAQ</text>
<text x="116.2" y="1550.8" font-size="32.0" fill="#000">RUN</text>
<text x="331.0" y="1550.1" font-size="32.0" fill="#000">GUA</text>
<text x="459.8" y="1550.9" font-size="32.0" fill="#000">GUY</text>
<text x="290.2" y="1207.2" font-size="32.0" fill="#000">BFC</text>
<text x="651.0" y="1049.7" font-size="32.0" fill="#000">IDF</text>
<text x="589.9" y="1098.0" font-size="32.0" fill="#000">GES</text>
<line x1="131.7" y1="1495.2" x2="687.7" y2="1124.6" stroke="#3366FF" stroke-width="3.6"/>
<line x1="103.4" y1="1014.6" x2="103.4" y2="1565" stroke="#000" stroke-width="4"/>
<line x1="101.4" y1="1563" x2="716" y2="1563" stroke="#000" stroke-width="4"/>
<line x1="94" y1="1538.6" x2="102" y2="1538.6" stroke="#333333" stroke-width="3.6"/>
<text x="86.3" y="1549.9" font-size="31.5" text-anchor="end" fill="#4D4D4D">0</text>
<line x1="94" y1="1402.9" x2="102" y2="1402.9" stroke="#333333" stroke-width="3.6"/>
<text x="86.3" y="1414.2" font-size="31.5" text-anchor="end" fill="#4D4D4D">25</text>
<line x1="94" y1="1267.1" x2="102" y2="1267.1" stroke="#333333" stroke-width="3.6"/>
<text x="86.3" y="1278.4" font-size="31.5" text-anchor="end" fill="#4D4D4D">50</text>
<line x1="94" y1="1131.4" x2="102" y2="1131.4" stroke="#333333" stroke-width="3.6"/>
<text x="86.3" y="1142.7" font-size="31.5" text-anchor="end" fill="#4D4D4D">75</text>
<line x1="269.6" y1="1565" x2="269.6" y2="1573" stroke="#333333" stroke-width="3.6"/>
<text x="269.6" y="1603.5" font-size="31.5" text-anchor="middle" fill="#4D4D4D">4</text>
<line x1="442.9" y1="1565" x2="442.9" y2="1573" stroke="#333333" stroke-width="3.6"/>
<text x="442.9" y="1603.5" font-size="31.5" text-anchor="middle" fill="#4D4D4D">6</text>
<line x1="616.3" y1="1565" x2="616.3" y2="1573" stroke="#333333" stroke-width="3.6"/>
<text x="616.3" y="1603.5" font-size="31.5" text-anchor="middle" fill="#4D4D4D">8</text>
<text x="409.7" y="1648.3" font-size="38.9" text-anchor="middle" fill="#000">prevalence</text>
<text transform="translate(32.6,1288.6) rotate(-90)" font-size="38.9" text-anchor="middle" fill="#000">mortality rate</text>
<text x="135.6" y="1050.9" font-size="31.6" fill="#000">r = 0.81</text>
<text x="749" y="1048.4" font-size="50" font-weight="bold" fill="#000">c</text>
<rect x="832.0" y="1153.3" width="632.5999999999999" height="350.29999999999995" fill="#fff"/>
<line x1="832.0" y1="1229.5" x2="1464.6" y2="1229.5" stroke="#EBEBEB" stroke-width="1.3"/>
<line x1="832.0" y1="1303.5" x2="1464.6" y2="1303.5" stroke="#EBEBEB" stroke-width="1.3"/>
<line x1="832.0" y1="1377.5" x2="1464.6" y2="1377.5" stroke="#EBEBEB" stroke-width="1.3"/>
<line x1="832.0" y1="1451.5" x2="1464.6" y2="1451.5" stroke="#EBEBEB" stroke-width="1.3"/>
<line x1="832.0" y1="1192.5" x2="1464.6" y2="1192.5" stroke="#EBEBEB" stroke-width="2.6"/>
<line x1="832.0" y1="1266.5" x2="1464.6" y2="1266.5" stroke="#EBEBEB" stroke-width="2.6"/>
<line x1="832.0" y1="1340.5" x2="1464.6" y2="1340.5" stroke="#EBEBEB" stroke-width="2.6"/>
<line x1="832.0" y1="1414.5" x2="1464.6" y2="1414.5" stroke="#EBEBEB" stroke-width="2.6"/>
<line x1="832.0" y1="1488.5" x2="1464.6" y2="1488.5" stroke="#EBEBEB" stroke-width="2.6"/>
<line x1="872.4" y1="1153.3" x2="872.4" y2="1503.6" stroke="#EBEBEB" stroke-width="2.6"/>
<line x1="941.5" y1="1153.3" x2="941.5" y2="1503.6" stroke="#EBEBEB" stroke-width="2.6"/>
<line x1="1010.5" y1="1153.3" x2="1010.5" y2="1503.6" stroke="#EBEBEB" stroke-width="2.6"/>
<line x1="1079.6" y1="1153.3" x2="1079.6" y2="1503.6" stroke="#EBEBEB" stroke-width="2.6"/>
<line x1="1148.7" y1="1153.3" x2="1148.7" y2="1503.6" stroke="#EBEBEB" stroke-width="2.6"/>
<line x1="1217.8" y1="1153.3" x2="1217.8" y2="1503.6" stroke="#EBEBEB" stroke-width="2.6"/>
<line x1="1286.8" y1="1153.3" x2="1286.8" y2="1503.6" stroke="#EBEBEB" stroke-width="2.6"/>
<line x1="1355.9" y1="1153.3" x2="1355.9" y2="1503.6" stroke="#EBEBEB" stroke-width="2.6"/>
<line x1="1425.0" y1="1153.3" x2="1425.0" y2="1503.6" stroke="#EBEBEB" stroke-width="2.6"/>
<rect x="832.0" y="1153.3" width="632.5999999999999" height="350.29999999999995" fill="none" stroke="#333333" stroke-width="2"/>
<line x1="821.1" y1="1192.5" x2="831" y2="1192.5" stroke="#333333" stroke-width="3.5"/>
<text x="754.8" y="1208.0" font-size="31.5" fill="#4D4D4D">10</text>
<text x="789.5" y="1192.0" font-size="22" fill="#4D4D4D">−1</text>
<line x1="821.1" y1="1266.5" x2="831" y2="1266.5" stroke="#333333" stroke-width="3.5"/>
<text x="754.8" y="1282.0" font-size="31.5" fill="#4D4D4D">10</text>
<text x="789.5" y="1266.0" font-size="22" fill="#4D4D4D">−2</text>
<line x1="821.1" y1="1340.5" x2="831" y2="1340.5" stroke="#333333" stroke-width="3.5"/>
<text x="754.8" y="1356.0" font-size="31.5" fill="#4D4D4D">10</text>
<text x="789.5" y="1340.0" font-size="22" fill="#4D4D4D">−3</text>
<line x1="821.1" y1="1414.5" x2="831" y2="1414.5" stroke="#333333" stroke-width="3.5"/>
<text x="754.8" y="1430.0" font-size="31.5" fill="#4D4D4D">10</text>
<text x="789.5" y="1414.0" font-size="22" fill="#4D4D4D">−4</text>
<line x1="821.1" y1="1488.5" x2="831" y2="1488.5" stroke="#333333" stroke-width="3.5"/>
<text x="754.8" y="1504.0" font-size="31.5" fill="#4D4D4D">10</text>
<text x="789.5" y="1488.0" font-size="22" fill="#4D4D4D">−5</text>
<line x1="872.4" y1="1504.5" x2="872.4" y2="1513.8" stroke="#333333" stroke-width="3.4"/>
<text transform="translate(884.6,1521.5) rotate(-90)" font-size="31.5" text-anchor="end" fill="#4D4D4D">0−9</text>
<line x1="941.5" y1="1504.5" x2="941.5" y2="1513.8" stroke="#333333" stroke-width="3.4"/>
<text transform="translate(953.7,1521.5) rotate(-90)" font-size="31.5" text-anchor="end" fill="#4D4D4D">10−19</text>
<line x1="1010.5" y1="1504.5" x2="1010.5" y2="1513.8" stroke="#333333" stroke-width="3.4"/>
<text transform="translate(1022.7,1521.5) rotate(-90)" font-size="31.5" text-anchor="end" fill="#4D4D4D">20−29</text>
<line x1="1079.6" y1="1504.5" x2="1079.6" y2="1513.8" stroke="#333333" stroke-width="3.4"/>
<text transform="translate(1091.8,1521.5) rotate(-90)" font-size="31.5" text-anchor="end" fill="#4D4D4D">30−39</text>
<line x1="1148.7" y1="1504.5" x2="1148.7" y2="1513.8" stroke="#333333" stroke-width="3.4"/>
<text transform="translate(1160.9,1521.5) rotate(-90)" font-size="31.5" text-anchor="end" fill="#4D4D4D">40−49</text>
<line x1="1217.8" y1="1504.5" x2="1217.8" y2="1513.8" stroke="#333333" stroke-width="3.4"/>
<text transform="translate(1230.0,1521.5) rotate(-90)" font-size="31.5" text-anchor="end" fill="#4D4D4D">50−59</text>
<line x1="1286.8" y1="1504.5" x2="1286.8" y2="1513.8" stroke="#333333" stroke-width="3.4"/>
<text transform="translate(1299.0,1521.5) rotate(-90)" font-size="31.5" text-anchor="end" fill="#4D4D4D">60−69</text>
<line x1="1355.9" y1="1504.5" x2="1355.9" y2="1513.8" stroke="#333333" stroke-width="3.4"/>
<text transform="translate(1368.1,1521.5) rotate(-90)" font-size="31.5" text-anchor="end" fill="#4D4D4D">70−79</text>
<line x1="1425.0" y1="1504.5" x2="1425.0" y2="1513.8" stroke="#333333" stroke-width="3.4"/>
<text transform="translate(1437.2,1521.5) rotate(-90)" font-size="31.5" text-anchor="end" fill="#4D4D4D">80+</text>
<text x="1148.3" y="1648.5" font-size="38.9" text-anchor="middle" fill="#000">age</text>
<line x1="1046" y1="1039.8" x2="1046" y2="1088.9" stroke="#1B9E77" stroke-width="3.7"/>
<circle cx="1046" cy="1065.8" r="7.2" fill="#1B9E77"/>
<text x="1095" y="1075.4" font-size="31.5" fill="#000">IFR</text>
<line x1="1196.4" y1="1039.8" x2="1196.4" y2="1088.9" stroke="#D95F02" stroke-width="3.7"/>
<polygon points="1196.4,1056.6 1205.6,1069.5 1187.2,1069.5" fill="#D95F02"/>
<text x="1246" y="1075.4" font-size="31.5" fill="#000">IHR</text>
<line x1="863.7" y1="1466.5" x2="863.7" y2="1488.3" stroke="#1B9E77" stroke-width="3.5"/>
<circle cx="863.7" cy="1488.3" r="7.2" fill="#1B9E77"/>
<circle cx="932.8" cy="1488.3" r="7.2" fill="#1B9E77"/>
<line x1="1001.8" y1="1425.9" x2="1001.8" y2="1445.0" stroke="#1B9E77" stroke-width="3.5"/>
<circle cx="1001.8" cy="1436.8" r="7.2" fill="#1B9E77"/>
<line x1="1070.9" y1="1382.9" x2="1070.9" y2="1400.9" stroke="#1B9E77" stroke-width="3.5"/>
<circle cx="1070.9" cy="1393.8" r="7.2" fill="#1B9E77"/>
<line x1="1140.0" y1="1352.5" x2="1140.0" y2="1370.7" stroke="#1B9E77" stroke-width="3.5"/>
<circle cx="1140.0" cy="1361.7" r="7.2" fill="#1B9E77"/>
<line x1="1209.0" y1="1316.4" x2="1209.0" y2="1333.6" stroke="#1B9E77" stroke-width="3.5"/>
<circle cx="1209.0" cy="1325.4" r="7.2" fill="#1B9E77"/>
<line x1="1278.1" y1="1277.4" x2="1278.1" y2="1294.4" stroke="#1B9E77" stroke-width="3.5"/>
<circle cx="1278.1" cy="1286.4" r="7.2" fill="#1B9E77"/>
<line x1="1347.2" y1="1238.5" x2="1347.2" y2="1256.2" stroke="#1B9E77" stroke-width="3.5"/>
<circle cx="1347.2" cy="1247.5" r="7.2" fill="#1B9E77"/>
<line x1="1416.3" y1="1183.0" x2="1416.3" y2="1200.0" stroke="#1B9E77" stroke-width="3.5"/>
<circle cx="1416.3" cy="1192.5" r="7.2" fill="#1B9E77"/>
<line x1="881.1" y1="1305.3" x2="881.1" y2="1335.7" stroke="#D95F02" stroke-width="3.5"/>
<polygon points="881.1,1312.0 890.5,1328.2 871.7,1328.2" fill="#D95F02"/>
<line x1="950.2" y1="1324.2" x2="950.2" y2="1346.0" stroke="#D95F02" stroke-width="3.5"/>
<polygon points="950.2,1325.7 959.5,1341.9 940.8,1341.9" fill="#D95F02"/>
<line x1="1019.2" y1="1281.9" x2="1019.2" y2="1301.0" stroke="#D95F02" stroke-width="3.5"/>
<polygon points="1019.2,1281.0 1028.6,1297.2 1009.9,1297.2" fill="#D95F02"/>
<line x1="1088.3" y1="1259.0" x2="1088.3" y2="1278.6" stroke="#D95F02" stroke-width="3.5"/>
<polygon points="1088.3,1258.0 1097.7,1274.2 1079.0,1274.2" fill="#D95F02"/>
<line x1="1157.4" y1="1245.6" x2="1157.4" y2="1264.5" stroke="#D95F02" stroke-width="3.5"/>
<polygon points="1157.4,1245.2 1166.7,1261.4 1148.0,1261.4" fill="#D95F02"/>
<line x1="1226.5" y1="1231.4" x2="1226.5" y2="1249.6" stroke="#D95F02" stroke-width="3.5"/>
<polygon points="1226.5,1230.1 1235.8,1246.3 1217.1,1246.3" fill="#D95F02"/>
<line x1="1295.5" y1="1216.6" x2="1295.5" y2="1235.0" stroke="#D95F02" stroke-width="3.5"/>
<polygon points="1295.5,1215.2 1304.9,1231.4 1286.2,1231.4" fill="#D95F02"/>
<line x1="1364.6" y1="1196.0" x2="1364.6" y2="1214.9" stroke="#D95F02" stroke-width="3.5"/>
<polygon points="1364.6,1195.1 1373.9,1211.3 1355.2,1211.3" fill="#D95F02"/>
<line x1="1433.7" y1="1167.7" x2="1433.7" y2="1186.6" stroke="#D95F02" stroke-width="3.5"/>
<polygon points="1433.7,1166.3 1443.0,1182.5 1424.3,1182.5" fill="#D95F02"/></svg>
</body></html>
